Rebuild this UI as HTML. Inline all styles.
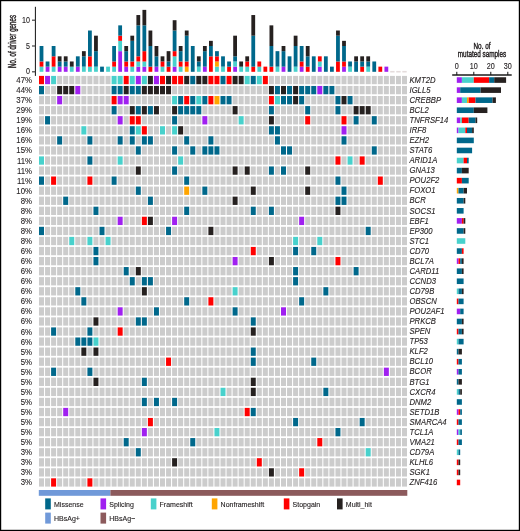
<!DOCTYPE html>
<html><head><meta charset="utf-8"><style>
html,body{margin:0;padding:0;background:#fff;}
svg{display:block;font-family:"Liberation Sans",Arial,sans-serif;}
text{stroke:#231f20;stroke-width:0.12px;}
.ct{stroke-width:0.45px;}
</style></head><body>
<svg width="520" height="531" viewBox="0 0 520 531">
<rect x="0" y="0" width="520" height="531" fill="#fff"/>
<g>
<rect x="39.00" y="75.90" width="5.0" height="8.3" fill="#ff0000"/>
<rect x="45.05" y="75.90" width="5.0" height="8.3" fill="#a020f0"/>
<rect x="51.10" y="75.90" width="5.0" height="8.3" fill="#48d1cc"/>
<rect x="57.15" y="75.90" width="5.0" height="8.3" fill="#cccccc"/>
<rect x="63.20" y="75.90" width="5.0" height="8.3" fill="#cccccc"/>
<rect x="69.25" y="75.90" width="5.0" height="8.3" fill="#cccccc"/>
<rect x="75.30" y="75.90" width="5.0" height="8.3" fill="#cccccc"/>
<rect x="81.35" y="75.90" width="5.0" height="8.3" fill="#cccccc"/>
<rect x="87.40" y="75.90" width="5.0" height="8.3" fill="#cccccc"/>
<rect x="93.45" y="75.90" width="5.0" height="8.3" fill="#cccccc"/>
<rect x="99.50" y="75.90" width="5.0" height="8.3" fill="#cccccc"/>
<rect x="105.55" y="75.90" width="5.0" height="8.3" fill="#cccccc"/>
<rect x="111.60" y="75.90" width="5.0" height="8.3" fill="#48d1cc"/>
<rect x="117.65" y="75.90" width="5.0" height="8.3" fill="#48d1cc"/>
<rect x="123.70" y="75.90" width="5.0" height="8.3" fill="#ff0000"/>
<rect x="129.75" y="75.90" width="5.0" height="8.3" fill="#48d1cc"/>
<rect x="135.80" y="75.90" width="5.0" height="8.3" fill="#a020f0"/>
<rect x="141.85" y="75.90" width="5.0" height="8.3" fill="#48d1cc"/>
<rect x="147.90" y="75.90" width="5.0" height="8.3" fill="#262120"/>
<rect x="153.95" y="75.90" width="5.0" height="8.3" fill="#a020f0"/>
<rect x="160.00" y="75.90" width="5.0" height="8.3" fill="#ff0000"/>
<rect x="166.05" y="75.90" width="5.0" height="8.3" fill="#262120"/>
<rect x="172.10" y="75.90" width="5.0" height="8.3" fill="#ff0000"/>
<rect x="178.15" y="75.90" width="5.0" height="8.3" fill="#ff0000"/>
<rect x="184.20" y="75.90" width="5.0" height="8.3" fill="#262120"/>
<rect x="190.25" y="75.90" width="5.0" height="8.3" fill="#00688b"/>
<rect x="196.30" y="75.90" width="5.0" height="8.3" fill="#262120"/>
<rect x="202.35" y="75.90" width="5.0" height="8.3" fill="#262120"/>
<rect x="208.40" y="75.90" width="5.0" height="8.3" fill="#ff0000"/>
<rect x="214.45" y="75.90" width="5.0" height="8.3" fill="#ff0000"/>
<rect x="220.50" y="75.90" width="5.0" height="8.3" fill="#00688b"/>
<rect x="226.55" y="75.90" width="5.0" height="8.3" fill="#ff0000"/>
<rect x="232.60" y="75.90" width="5.0" height="8.3" fill="#262120"/>
<rect x="238.65" y="75.90" width="5.0" height="8.3" fill="#262120"/>
<rect x="244.70" y="75.90" width="5.0" height="8.3" fill="#48d1cc"/>
<rect x="250.75" y="75.90" width="5.0" height="8.3" fill="#00688b"/>
<rect x="256.80" y="75.90" width="5.0" height="8.3" fill="#48d1cc"/>
<rect x="262.85" y="75.90" width="5.0" height="8.3" fill="#ff0000"/>
<rect x="268.90" y="75.90" width="5.0" height="8.3" fill="#cccccc"/>
<rect x="274.95" y="75.90" width="5.0" height="8.3" fill="#cccccc"/>
<rect x="281.00" y="75.90" width="5.0" height="8.3" fill="#cccccc"/>
<rect x="287.05" y="75.90" width="5.0" height="8.3" fill="#cccccc"/>
<rect x="293.10" y="75.90" width="5.0" height="8.3" fill="#cccccc"/>
<rect x="299.15" y="75.90" width="5.0" height="8.3" fill="#cccccc"/>
<rect x="305.20" y="75.90" width="5.0" height="8.3" fill="#cccccc"/>
<rect x="311.25" y="75.90" width="5.0" height="8.3" fill="#cccccc"/>
<rect x="317.30" y="75.90" width="5.0" height="8.3" fill="#cccccc"/>
<rect x="323.35" y="75.90" width="5.0" height="8.3" fill="#cccccc"/>
<rect x="329.40" y="75.90" width="5.0" height="8.3" fill="#cccccc"/>
<rect x="335.45" y="75.90" width="5.0" height="8.3" fill="#cccccc"/>
<rect x="341.50" y="75.90" width="5.0" height="8.3" fill="#cccccc"/>
<rect x="347.55" y="75.90" width="5.0" height="8.3" fill="#cccccc"/>
<rect x="353.60" y="75.90" width="5.0" height="8.3" fill="#cccccc"/>
<rect x="359.65" y="75.90" width="5.0" height="8.3" fill="#cccccc"/>
<rect x="365.70" y="75.90" width="5.0" height="8.3" fill="#cccccc"/>
<rect x="371.75" y="75.90" width="5.0" height="8.3" fill="#cccccc"/>
<rect x="377.80" y="75.90" width="5.0" height="8.3" fill="#cccccc"/>
<rect x="383.85" y="75.90" width="5.0" height="8.3" fill="#cccccc"/>
<rect x="389.90" y="75.90" width="5.0" height="8.3" fill="#cccccc"/>
<rect x="395.95" y="75.90" width="5.0" height="8.3" fill="#cccccc"/>
<rect x="402.00" y="75.90" width="5.0" height="8.3" fill="#cccccc"/>
<rect x="39.00" y="85.96" width="5.0" height="8.3" fill="#00688b"/>
<rect x="45.05" y="85.96" width="5.0" height="8.3" fill="#cccccc"/>
<rect x="51.10" y="85.96" width="5.0" height="8.3" fill="#cccccc"/>
<rect x="57.15" y="85.96" width="5.0" height="8.3" fill="#262120"/>
<rect x="63.20" y="85.96" width="5.0" height="8.3" fill="#262120"/>
<rect x="69.25" y="85.96" width="5.0" height="8.3" fill="#262120"/>
<rect x="75.30" y="85.96" width="5.0" height="8.3" fill="#a020f0"/>
<rect x="81.35" y="85.96" width="5.0" height="8.3" fill="#cccccc"/>
<rect x="87.40" y="85.96" width="5.0" height="8.3" fill="#cccccc"/>
<rect x="93.45" y="85.96" width="5.0" height="8.3" fill="#cccccc"/>
<rect x="99.50" y="85.96" width="5.0" height="8.3" fill="#cccccc"/>
<rect x="105.55" y="85.96" width="5.0" height="8.3" fill="#cccccc"/>
<rect x="111.60" y="85.96" width="5.0" height="8.3" fill="#00688b"/>
<rect x="117.65" y="85.96" width="5.0" height="8.3" fill="#00688b"/>
<rect x="123.70" y="85.96" width="5.0" height="8.3" fill="#262120"/>
<rect x="129.75" y="85.96" width="5.0" height="8.3" fill="#00688b"/>
<rect x="135.80" y="85.96" width="5.0" height="8.3" fill="#00688b"/>
<rect x="141.85" y="85.96" width="5.0" height="8.3" fill="#262120"/>
<rect x="147.90" y="85.96" width="5.0" height="8.3" fill="#262120"/>
<rect x="153.95" y="85.96" width="5.0" height="8.3" fill="#262120"/>
<rect x="160.00" y="85.96" width="5.0" height="8.3" fill="#262120"/>
<rect x="166.05" y="85.96" width="5.0" height="8.3" fill="#262120"/>
<rect x="172.10" y="85.96" width="5.0" height="8.3" fill="#cccccc"/>
<rect x="178.15" y="85.96" width="5.0" height="8.3" fill="#cccccc"/>
<rect x="184.20" y="85.96" width="5.0" height="8.3" fill="#cccccc"/>
<rect x="190.25" y="85.96" width="5.0" height="8.3" fill="#cccccc"/>
<rect x="196.30" y="85.96" width="5.0" height="8.3" fill="#cccccc"/>
<rect x="202.35" y="85.96" width="5.0" height="8.3" fill="#cccccc"/>
<rect x="208.40" y="85.96" width="5.0" height="8.3" fill="#cccccc"/>
<rect x="214.45" y="85.96" width="5.0" height="8.3" fill="#cccccc"/>
<rect x="220.50" y="85.96" width="5.0" height="8.3" fill="#cccccc"/>
<rect x="226.55" y="85.96" width="5.0" height="8.3" fill="#cccccc"/>
<rect x="232.60" y="85.96" width="5.0" height="8.3" fill="#cccccc"/>
<rect x="238.65" y="85.96" width="5.0" height="8.3" fill="#cccccc"/>
<rect x="244.70" y="85.96" width="5.0" height="8.3" fill="#cccccc"/>
<rect x="250.75" y="85.96" width="5.0" height="8.3" fill="#cccccc"/>
<rect x="256.80" y="85.96" width="5.0" height="8.3" fill="#cccccc"/>
<rect x="262.85" y="85.96" width="5.0" height="8.3" fill="#cccccc"/>
<rect x="268.90" y="85.96" width="5.0" height="8.3" fill="#262120"/>
<rect x="274.95" y="85.96" width="5.0" height="8.3" fill="#00688b"/>
<rect x="281.00" y="85.96" width="5.0" height="8.3" fill="#262120"/>
<rect x="287.05" y="85.96" width="5.0" height="8.3" fill="#00688b"/>
<rect x="293.10" y="85.96" width="5.0" height="8.3" fill="#262120"/>
<rect x="299.15" y="85.96" width="5.0" height="8.3" fill="#00688b"/>
<rect x="305.20" y="85.96" width="5.0" height="8.3" fill="#00688b"/>
<rect x="311.25" y="85.96" width="5.0" height="8.3" fill="#00688b"/>
<rect x="317.30" y="85.96" width="5.0" height="8.3" fill="#a020f0"/>
<rect x="323.35" y="85.96" width="5.0" height="8.3" fill="#00688b"/>
<rect x="329.40" y="85.96" width="5.0" height="8.3" fill="#00688b"/>
<rect x="335.45" y="85.96" width="5.0" height="8.3" fill="#cccccc"/>
<rect x="341.50" y="85.96" width="5.0" height="8.3" fill="#cccccc"/>
<rect x="347.55" y="85.96" width="5.0" height="8.3" fill="#cccccc"/>
<rect x="353.60" y="85.96" width="5.0" height="8.3" fill="#cccccc"/>
<rect x="359.65" y="85.96" width="5.0" height="8.3" fill="#cccccc"/>
<rect x="365.70" y="85.96" width="5.0" height="8.3" fill="#cccccc"/>
<rect x="371.75" y="85.96" width="5.0" height="8.3" fill="#cccccc"/>
<rect x="377.80" y="85.96" width="5.0" height="8.3" fill="#cccccc"/>
<rect x="383.85" y="85.96" width="5.0" height="8.3" fill="#cccccc"/>
<rect x="389.90" y="85.96" width="5.0" height="8.3" fill="#cccccc"/>
<rect x="395.95" y="85.96" width="5.0" height="8.3" fill="#cccccc"/>
<rect x="402.00" y="85.96" width="5.0" height="8.3" fill="#cccccc"/>
<rect x="39.00" y="96.02" width="5.0" height="8.3" fill="#cccccc"/>
<rect x="45.05" y="96.02" width="5.0" height="8.3" fill="#cccccc"/>
<rect x="51.10" y="96.02" width="5.0" height="8.3" fill="#cccccc"/>
<rect x="57.15" y="96.02" width="5.0" height="8.3" fill="#a020f0"/>
<rect x="63.20" y="96.02" width="5.0" height="8.3" fill="#cccccc"/>
<rect x="69.25" y="96.02" width="5.0" height="8.3" fill="#cccccc"/>
<rect x="75.30" y="96.02" width="5.0" height="8.3" fill="#cccccc"/>
<rect x="81.35" y="96.02" width="5.0" height="8.3" fill="#cccccc"/>
<rect x="87.40" y="96.02" width="5.0" height="8.3" fill="#cccccc"/>
<rect x="93.45" y="96.02" width="5.0" height="8.3" fill="#cccccc"/>
<rect x="99.50" y="96.02" width="5.0" height="8.3" fill="#cccccc"/>
<rect x="105.55" y="96.02" width="5.0" height="8.3" fill="#cccccc"/>
<rect x="111.60" y="96.02" width="5.0" height="8.3" fill="#ff0000"/>
<rect x="117.65" y="96.02" width="5.0" height="8.3" fill="#a020f0"/>
<rect x="123.70" y="96.02" width="5.0" height="8.3" fill="#a020f0"/>
<rect x="129.75" y="96.02" width="5.0" height="8.3" fill="#cccccc"/>
<rect x="135.80" y="96.02" width="5.0" height="8.3" fill="#cccccc"/>
<rect x="141.85" y="96.02" width="5.0" height="8.3" fill="#cccccc"/>
<rect x="147.90" y="96.02" width="5.0" height="8.3" fill="#cccccc"/>
<rect x="153.95" y="96.02" width="5.0" height="8.3" fill="#cccccc"/>
<rect x="160.00" y="96.02" width="5.0" height="8.3" fill="#cccccc"/>
<rect x="166.05" y="96.02" width="5.0" height="8.3" fill="#cccccc"/>
<rect x="172.10" y="96.02" width="5.0" height="8.3" fill="#48d1cc"/>
<rect x="178.15" y="96.02" width="5.0" height="8.3" fill="#00688b"/>
<rect x="184.20" y="96.02" width="5.0" height="8.3" fill="#ff0000"/>
<rect x="190.25" y="96.02" width="5.0" height="8.3" fill="#00688b"/>
<rect x="196.30" y="96.02" width="5.0" height="8.3" fill="#48d1cc"/>
<rect x="202.35" y="96.02" width="5.0" height="8.3" fill="#00688b"/>
<rect x="208.40" y="96.02" width="5.0" height="8.3" fill="#ff0000"/>
<rect x="214.45" y="96.02" width="5.0" height="8.3" fill="#ffa500"/>
<rect x="220.50" y="96.02" width="5.0" height="8.3" fill="#00688b"/>
<rect x="226.55" y="96.02" width="5.0" height="8.3" fill="#00688b"/>
<rect x="232.60" y="96.02" width="5.0" height="8.3" fill="#cccccc"/>
<rect x="238.65" y="96.02" width="5.0" height="8.3" fill="#cccccc"/>
<rect x="244.70" y="96.02" width="5.0" height="8.3" fill="#cccccc"/>
<rect x="250.75" y="96.02" width="5.0" height="8.3" fill="#cccccc"/>
<rect x="256.80" y="96.02" width="5.0" height="8.3" fill="#cccccc"/>
<rect x="262.85" y="96.02" width="5.0" height="8.3" fill="#cccccc"/>
<rect x="268.90" y="96.02" width="5.0" height="8.3" fill="#ff0000"/>
<rect x="274.95" y="96.02" width="5.0" height="8.3" fill="#48d1cc"/>
<rect x="281.00" y="96.02" width="5.0" height="8.3" fill="#00688b"/>
<rect x="287.05" y="96.02" width="5.0" height="8.3" fill="#00688b"/>
<rect x="293.10" y="96.02" width="5.0" height="8.3" fill="#262120"/>
<rect x="299.15" y="96.02" width="5.0" height="8.3" fill="#00688b"/>
<rect x="305.20" y="96.02" width="5.0" height="8.3" fill="#cccccc"/>
<rect x="311.25" y="96.02" width="5.0" height="8.3" fill="#cccccc"/>
<rect x="317.30" y="96.02" width="5.0" height="8.3" fill="#cccccc"/>
<rect x="323.35" y="96.02" width="5.0" height="8.3" fill="#cccccc"/>
<rect x="329.40" y="96.02" width="5.0" height="8.3" fill="#cccccc"/>
<rect x="335.45" y="96.02" width="5.0" height="8.3" fill="#00688b"/>
<rect x="341.50" y="96.02" width="5.0" height="8.3" fill="#262120"/>
<rect x="347.55" y="96.02" width="5.0" height="8.3" fill="#00688b"/>
<rect x="353.60" y="96.02" width="5.0" height="8.3" fill="#cccccc"/>
<rect x="359.65" y="96.02" width="5.0" height="8.3" fill="#cccccc"/>
<rect x="365.70" y="96.02" width="5.0" height="8.3" fill="#cccccc"/>
<rect x="371.75" y="96.02" width="5.0" height="8.3" fill="#cccccc"/>
<rect x="377.80" y="96.02" width="5.0" height="8.3" fill="#cccccc"/>
<rect x="383.85" y="96.02" width="5.0" height="8.3" fill="#cccccc"/>
<rect x="389.90" y="96.02" width="5.0" height="8.3" fill="#cccccc"/>
<rect x="395.95" y="96.02" width="5.0" height="8.3" fill="#cccccc"/>
<rect x="402.00" y="96.02" width="5.0" height="8.3" fill="#cccccc"/>
<rect x="39.00" y="106.08" width="5.0" height="8.3" fill="#cccccc"/>
<rect x="45.05" y="106.08" width="5.0" height="8.3" fill="#cccccc"/>
<rect x="51.10" y="106.08" width="5.0" height="8.3" fill="#cccccc"/>
<rect x="57.15" y="106.08" width="5.0" height="8.3" fill="#cccccc"/>
<rect x="63.20" y="106.08" width="5.0" height="8.3" fill="#cccccc"/>
<rect x="69.25" y="106.08" width="5.0" height="8.3" fill="#cccccc"/>
<rect x="75.30" y="106.08" width="5.0" height="8.3" fill="#cccccc"/>
<rect x="81.35" y="106.08" width="5.0" height="8.3" fill="#cccccc"/>
<rect x="87.40" y="106.08" width="5.0" height="8.3" fill="#cccccc"/>
<rect x="93.45" y="106.08" width="5.0" height="8.3" fill="#cccccc"/>
<rect x="99.50" y="106.08" width="5.0" height="8.3" fill="#cccccc"/>
<rect x="105.55" y="106.08" width="5.0" height="8.3" fill="#cccccc"/>
<rect x="111.60" y="106.08" width="5.0" height="8.3" fill="#00688b"/>
<rect x="117.65" y="106.08" width="5.0" height="8.3" fill="#cccccc"/>
<rect x="123.70" y="106.08" width="5.0" height="8.3" fill="#cccccc"/>
<rect x="129.75" y="106.08" width="5.0" height="8.3" fill="#262120"/>
<rect x="135.80" y="106.08" width="5.0" height="8.3" fill="#00688b"/>
<rect x="141.85" y="106.08" width="5.0" height="8.3" fill="#262120"/>
<rect x="147.90" y="106.08" width="5.0" height="8.3" fill="#00688b"/>
<rect x="153.95" y="106.08" width="5.0" height="8.3" fill="#262120"/>
<rect x="160.00" y="106.08" width="5.0" height="8.3" fill="#cccccc"/>
<rect x="166.05" y="106.08" width="5.0" height="8.3" fill="#cccccc"/>
<rect x="172.10" y="106.08" width="5.0" height="8.3" fill="#262120"/>
<rect x="178.15" y="106.08" width="5.0" height="8.3" fill="#00688b"/>
<rect x="184.20" y="106.08" width="5.0" height="8.3" fill="#00688b"/>
<rect x="190.25" y="106.08" width="5.0" height="8.3" fill="#00688b"/>
<rect x="196.30" y="106.08" width="5.0" height="8.3" fill="#00688b"/>
<rect x="202.35" y="106.08" width="5.0" height="8.3" fill="#cccccc"/>
<rect x="208.40" y="106.08" width="5.0" height="8.3" fill="#cccccc"/>
<rect x="214.45" y="106.08" width="5.0" height="8.3" fill="#cccccc"/>
<rect x="220.50" y="106.08" width="5.0" height="8.3" fill="#cccccc"/>
<rect x="226.55" y="106.08" width="5.0" height="8.3" fill="#cccccc"/>
<rect x="232.60" y="106.08" width="5.0" height="8.3" fill="#262120"/>
<rect x="238.65" y="106.08" width="5.0" height="8.3" fill="#cccccc"/>
<rect x="244.70" y="106.08" width="5.0" height="8.3" fill="#cccccc"/>
<rect x="250.75" y="106.08" width="5.0" height="8.3" fill="#cccccc"/>
<rect x="256.80" y="106.08" width="5.0" height="8.3" fill="#cccccc"/>
<rect x="262.85" y="106.08" width="5.0" height="8.3" fill="#cccccc"/>
<rect x="268.90" y="106.08" width="5.0" height="8.3" fill="#00688b"/>
<rect x="274.95" y="106.08" width="5.0" height="8.3" fill="#cccccc"/>
<rect x="281.00" y="106.08" width="5.0" height="8.3" fill="#cccccc"/>
<rect x="287.05" y="106.08" width="5.0" height="8.3" fill="#cccccc"/>
<rect x="293.10" y="106.08" width="5.0" height="8.3" fill="#cccccc"/>
<rect x="299.15" y="106.08" width="5.0" height="8.3" fill="#cccccc"/>
<rect x="305.20" y="106.08" width="5.0" height="8.3" fill="#00688b"/>
<rect x="311.25" y="106.08" width="5.0" height="8.3" fill="#cccccc"/>
<rect x="317.30" y="106.08" width="5.0" height="8.3" fill="#cccccc"/>
<rect x="323.35" y="106.08" width="5.0" height="8.3" fill="#cccccc"/>
<rect x="329.40" y="106.08" width="5.0" height="8.3" fill="#cccccc"/>
<rect x="335.45" y="106.08" width="5.0" height="8.3" fill="#00688b"/>
<rect x="341.50" y="106.08" width="5.0" height="8.3" fill="#cccccc"/>
<rect x="347.55" y="106.08" width="5.0" height="8.3" fill="#cccccc"/>
<rect x="353.60" y="106.08" width="5.0" height="8.3" fill="#262120"/>
<rect x="359.65" y="106.08" width="5.0" height="8.3" fill="#262120"/>
<rect x="365.70" y="106.08" width="5.0" height="8.3" fill="#262120"/>
<rect x="371.75" y="106.08" width="5.0" height="8.3" fill="#cccccc"/>
<rect x="377.80" y="106.08" width="5.0" height="8.3" fill="#cccccc"/>
<rect x="383.85" y="106.08" width="5.0" height="8.3" fill="#cccccc"/>
<rect x="389.90" y="106.08" width="5.0" height="8.3" fill="#cccccc"/>
<rect x="395.95" y="106.08" width="5.0" height="8.3" fill="#cccccc"/>
<rect x="402.00" y="106.08" width="5.0" height="8.3" fill="#cccccc"/>
<rect x="39.00" y="116.14" width="5.0" height="8.3" fill="#cccccc"/>
<rect x="45.05" y="116.14" width="5.0" height="8.3" fill="#00688b"/>
<rect x="51.10" y="116.14" width="5.0" height="8.3" fill="#cccccc"/>
<rect x="57.15" y="116.14" width="5.0" height="8.3" fill="#cccccc"/>
<rect x="63.20" y="116.14" width="5.0" height="8.3" fill="#cccccc"/>
<rect x="69.25" y="116.14" width="5.0" height="8.3" fill="#cccccc"/>
<rect x="75.30" y="116.14" width="5.0" height="8.3" fill="#cccccc"/>
<rect x="81.35" y="116.14" width="5.0" height="8.3" fill="#cccccc"/>
<rect x="87.40" y="116.14" width="5.0" height="8.3" fill="#cccccc"/>
<rect x="93.45" y="116.14" width="5.0" height="8.3" fill="#cccccc"/>
<rect x="99.50" y="116.14" width="5.0" height="8.3" fill="#cccccc"/>
<rect x="105.55" y="116.14" width="5.0" height="8.3" fill="#cccccc"/>
<rect x="111.60" y="116.14" width="5.0" height="8.3" fill="#cccccc"/>
<rect x="117.65" y="116.14" width="5.0" height="8.3" fill="#a020f0"/>
<rect x="123.70" y="116.14" width="5.0" height="8.3" fill="#cccccc"/>
<rect x="129.75" y="116.14" width="5.0" height="8.3" fill="#ff0000"/>
<rect x="135.80" y="116.14" width="5.0" height="8.3" fill="#ff0000"/>
<rect x="141.85" y="116.14" width="5.0" height="8.3" fill="#cccccc"/>
<rect x="147.90" y="116.14" width="5.0" height="8.3" fill="#cccccc"/>
<rect x="153.95" y="116.14" width="5.0" height="8.3" fill="#cccccc"/>
<rect x="160.00" y="116.14" width="5.0" height="8.3" fill="#cccccc"/>
<rect x="166.05" y="116.14" width="5.0" height="8.3" fill="#cccccc"/>
<rect x="172.10" y="116.14" width="5.0" height="8.3" fill="#00688b"/>
<rect x="178.15" y="116.14" width="5.0" height="8.3" fill="#cccccc"/>
<rect x="184.20" y="116.14" width="5.0" height="8.3" fill="#cccccc"/>
<rect x="190.25" y="116.14" width="5.0" height="8.3" fill="#cccccc"/>
<rect x="196.30" y="116.14" width="5.0" height="8.3" fill="#cccccc"/>
<rect x="202.35" y="116.14" width="5.0" height="8.3" fill="#a020f0"/>
<rect x="208.40" y="116.14" width="5.0" height="8.3" fill="#cccccc"/>
<rect x="214.45" y="116.14" width="5.0" height="8.3" fill="#cccccc"/>
<rect x="220.50" y="116.14" width="5.0" height="8.3" fill="#cccccc"/>
<rect x="226.55" y="116.14" width="5.0" height="8.3" fill="#cccccc"/>
<rect x="232.60" y="116.14" width="5.0" height="8.3" fill="#cccccc"/>
<rect x="238.65" y="116.14" width="5.0" height="8.3" fill="#48d1cc"/>
<rect x="244.70" y="116.14" width="5.0" height="8.3" fill="#cccccc"/>
<rect x="250.75" y="116.14" width="5.0" height="8.3" fill="#cccccc"/>
<rect x="256.80" y="116.14" width="5.0" height="8.3" fill="#cccccc"/>
<rect x="262.85" y="116.14" width="5.0" height="8.3" fill="#cccccc"/>
<rect x="268.90" y="116.14" width="5.0" height="8.3" fill="#262120"/>
<rect x="274.95" y="116.14" width="5.0" height="8.3" fill="#cccccc"/>
<rect x="281.00" y="116.14" width="5.0" height="8.3" fill="#cccccc"/>
<rect x="287.05" y="116.14" width="5.0" height="8.3" fill="#cccccc"/>
<rect x="293.10" y="116.14" width="5.0" height="8.3" fill="#cccccc"/>
<rect x="299.15" y="116.14" width="5.0" height="8.3" fill="#cccccc"/>
<rect x="305.20" y="116.14" width="5.0" height="8.3" fill="#ff0000"/>
<rect x="311.25" y="116.14" width="5.0" height="8.3" fill="#cccccc"/>
<rect x="317.30" y="116.14" width="5.0" height="8.3" fill="#cccccc"/>
<rect x="323.35" y="116.14" width="5.0" height="8.3" fill="#cccccc"/>
<rect x="329.40" y="116.14" width="5.0" height="8.3" fill="#cccccc"/>
<rect x="335.45" y="116.14" width="5.0" height="8.3" fill="#cccccc"/>
<rect x="341.50" y="116.14" width="5.0" height="8.3" fill="#ff0000"/>
<rect x="347.55" y="116.14" width="5.0" height="8.3" fill="#cccccc"/>
<rect x="353.60" y="116.14" width="5.0" height="8.3" fill="#00688b"/>
<rect x="359.65" y="116.14" width="5.0" height="8.3" fill="#cccccc"/>
<rect x="365.70" y="116.14" width="5.0" height="8.3" fill="#cccccc"/>
<rect x="371.75" y="116.14" width="5.0" height="8.3" fill="#00688b"/>
<rect x="377.80" y="116.14" width="5.0" height="8.3" fill="#cccccc"/>
<rect x="383.85" y="116.14" width="5.0" height="8.3" fill="#cccccc"/>
<rect x="389.90" y="116.14" width="5.0" height="8.3" fill="#cccccc"/>
<rect x="395.95" y="116.14" width="5.0" height="8.3" fill="#cccccc"/>
<rect x="402.00" y="116.14" width="5.0" height="8.3" fill="#cccccc"/>
<rect x="39.00" y="126.20" width="5.0" height="8.3" fill="#cccccc"/>
<rect x="45.05" y="126.20" width="5.0" height="8.3" fill="#cccccc"/>
<rect x="51.10" y="126.20" width="5.0" height="8.3" fill="#cccccc"/>
<rect x="57.15" y="126.20" width="5.0" height="8.3" fill="#cccccc"/>
<rect x="63.20" y="126.20" width="5.0" height="8.3" fill="#cccccc"/>
<rect x="69.25" y="126.20" width="5.0" height="8.3" fill="#cccccc"/>
<rect x="75.30" y="126.20" width="5.0" height="8.3" fill="#cccccc"/>
<rect x="81.35" y="126.20" width="5.0" height="8.3" fill="#48d1cc"/>
<rect x="87.40" y="126.20" width="5.0" height="8.3" fill="#cccccc"/>
<rect x="93.45" y="126.20" width="5.0" height="8.3" fill="#cccccc"/>
<rect x="99.50" y="126.20" width="5.0" height="8.3" fill="#cccccc"/>
<rect x="105.55" y="126.20" width="5.0" height="8.3" fill="#cccccc"/>
<rect x="111.60" y="126.20" width="5.0" height="8.3" fill="#cccccc"/>
<rect x="117.65" y="126.20" width="5.0" height="8.3" fill="#cccccc"/>
<rect x="123.70" y="126.20" width="5.0" height="8.3" fill="#cccccc"/>
<rect x="129.75" y="126.20" width="5.0" height="8.3" fill="#00688b"/>
<rect x="135.80" y="126.20" width="5.0" height="8.3" fill="#48d1cc"/>
<rect x="141.85" y="126.20" width="5.0" height="8.3" fill="#ff0000"/>
<rect x="147.90" y="126.20" width="5.0" height="8.3" fill="#cccccc"/>
<rect x="153.95" y="126.20" width="5.0" height="8.3" fill="#cccccc"/>
<rect x="160.00" y="126.20" width="5.0" height="8.3" fill="#48d1cc"/>
<rect x="166.05" y="126.20" width="5.0" height="8.3" fill="#cccccc"/>
<rect x="172.10" y="126.20" width="5.0" height="8.3" fill="#48d1cc"/>
<rect x="178.15" y="126.20" width="5.0" height="8.3" fill="#262120"/>
<rect x="184.20" y="126.20" width="5.0" height="8.3" fill="#cccccc"/>
<rect x="190.25" y="126.20" width="5.0" height="8.3" fill="#cccccc"/>
<rect x="196.30" y="126.20" width="5.0" height="8.3" fill="#cccccc"/>
<rect x="202.35" y="126.20" width="5.0" height="8.3" fill="#cccccc"/>
<rect x="208.40" y="126.20" width="5.0" height="8.3" fill="#cccccc"/>
<rect x="214.45" y="126.20" width="5.0" height="8.3" fill="#cccccc"/>
<rect x="220.50" y="126.20" width="5.0" height="8.3" fill="#cccccc"/>
<rect x="226.55" y="126.20" width="5.0" height="8.3" fill="#cccccc"/>
<rect x="232.60" y="126.20" width="5.0" height="8.3" fill="#cccccc"/>
<rect x="238.65" y="126.20" width="5.0" height="8.3" fill="#cccccc"/>
<rect x="244.70" y="126.20" width="5.0" height="8.3" fill="#cccccc"/>
<rect x="250.75" y="126.20" width="5.0" height="8.3" fill="#cccccc"/>
<rect x="256.80" y="126.20" width="5.0" height="8.3" fill="#cccccc"/>
<rect x="262.85" y="126.20" width="5.0" height="8.3" fill="#cccccc"/>
<rect x="268.90" y="126.20" width="5.0" height="8.3" fill="#00688b"/>
<rect x="274.95" y="126.20" width="5.0" height="8.3" fill="#00688b"/>
<rect x="281.00" y="126.20" width="5.0" height="8.3" fill="#cccccc"/>
<rect x="287.05" y="126.20" width="5.0" height="8.3" fill="#cccccc"/>
<rect x="293.10" y="126.20" width="5.0" height="8.3" fill="#cccccc"/>
<rect x="299.15" y="126.20" width="5.0" height="8.3" fill="#cccccc"/>
<rect x="305.20" y="126.20" width="5.0" height="8.3" fill="#cccccc"/>
<rect x="311.25" y="126.20" width="5.0" height="8.3" fill="#cccccc"/>
<rect x="317.30" y="126.20" width="5.0" height="8.3" fill="#cccccc"/>
<rect x="323.35" y="126.20" width="5.0" height="8.3" fill="#cccccc"/>
<rect x="329.40" y="126.20" width="5.0" height="8.3" fill="#cccccc"/>
<rect x="335.45" y="126.20" width="5.0" height="8.3" fill="#cccccc"/>
<rect x="341.50" y="126.20" width="5.0" height="8.3" fill="#a020f0"/>
<rect x="347.55" y="126.20" width="5.0" height="8.3" fill="#cccccc"/>
<rect x="353.60" y="126.20" width="5.0" height="8.3" fill="#cccccc"/>
<rect x="359.65" y="126.20" width="5.0" height="8.3" fill="#cccccc"/>
<rect x="365.70" y="126.20" width="5.0" height="8.3" fill="#cccccc"/>
<rect x="371.75" y="126.20" width="5.0" height="8.3" fill="#cccccc"/>
<rect x="377.80" y="126.20" width="5.0" height="8.3" fill="#cccccc"/>
<rect x="383.85" y="126.20" width="5.0" height="8.3" fill="#cccccc"/>
<rect x="389.90" y="126.20" width="5.0" height="8.3" fill="#cccccc"/>
<rect x="395.95" y="126.20" width="5.0" height="8.3" fill="#cccccc"/>
<rect x="402.00" y="126.20" width="5.0" height="8.3" fill="#cccccc"/>
<rect x="39.00" y="136.26" width="5.0" height="8.3" fill="#cccccc"/>
<rect x="45.05" y="136.26" width="5.0" height="8.3" fill="#cccccc"/>
<rect x="51.10" y="136.26" width="5.0" height="8.3" fill="#cccccc"/>
<rect x="57.15" y="136.26" width="5.0" height="8.3" fill="#00688b"/>
<rect x="63.20" y="136.26" width="5.0" height="8.3" fill="#cccccc"/>
<rect x="69.25" y="136.26" width="5.0" height="8.3" fill="#cccccc"/>
<rect x="75.30" y="136.26" width="5.0" height="8.3" fill="#cccccc"/>
<rect x="81.35" y="136.26" width="5.0" height="8.3" fill="#cccccc"/>
<rect x="87.40" y="136.26" width="5.0" height="8.3" fill="#00688b"/>
<rect x="93.45" y="136.26" width="5.0" height="8.3" fill="#cccccc"/>
<rect x="99.50" y="136.26" width="5.0" height="8.3" fill="#cccccc"/>
<rect x="105.55" y="136.26" width="5.0" height="8.3" fill="#cccccc"/>
<rect x="111.60" y="136.26" width="5.0" height="8.3" fill="#cccccc"/>
<rect x="117.65" y="136.26" width="5.0" height="8.3" fill="#00688b"/>
<rect x="123.70" y="136.26" width="5.0" height="8.3" fill="#cccccc"/>
<rect x="129.75" y="136.26" width="5.0" height="8.3" fill="#00688b"/>
<rect x="135.80" y="136.26" width="5.0" height="8.3" fill="#cccccc"/>
<rect x="141.85" y="136.26" width="5.0" height="8.3" fill="#00688b"/>
<rect x="147.90" y="136.26" width="5.0" height="8.3" fill="#00688b"/>
<rect x="153.95" y="136.26" width="5.0" height="8.3" fill="#cccccc"/>
<rect x="160.00" y="136.26" width="5.0" height="8.3" fill="#cccccc"/>
<rect x="166.05" y="136.26" width="5.0" height="8.3" fill="#cccccc"/>
<rect x="172.10" y="136.26" width="5.0" height="8.3" fill="#cccccc"/>
<rect x="178.15" y="136.26" width="5.0" height="8.3" fill="#cccccc"/>
<rect x="184.20" y="136.26" width="5.0" height="8.3" fill="#00688b"/>
<rect x="190.25" y="136.26" width="5.0" height="8.3" fill="#cccccc"/>
<rect x="196.30" y="136.26" width="5.0" height="8.3" fill="#cccccc"/>
<rect x="202.35" y="136.26" width="5.0" height="8.3" fill="#cccccc"/>
<rect x="208.40" y="136.26" width="5.0" height="8.3" fill="#00688b"/>
<rect x="214.45" y="136.26" width="5.0" height="8.3" fill="#cccccc"/>
<rect x="220.50" y="136.26" width="5.0" height="8.3" fill="#cccccc"/>
<rect x="226.55" y="136.26" width="5.0" height="8.3" fill="#cccccc"/>
<rect x="232.60" y="136.26" width="5.0" height="8.3" fill="#cccccc"/>
<rect x="238.65" y="136.26" width="5.0" height="8.3" fill="#cccccc"/>
<rect x="244.70" y="136.26" width="5.0" height="8.3" fill="#cccccc"/>
<rect x="250.75" y="136.26" width="5.0" height="8.3" fill="#cccccc"/>
<rect x="256.80" y="136.26" width="5.0" height="8.3" fill="#cccccc"/>
<rect x="262.85" y="136.26" width="5.0" height="8.3" fill="#cccccc"/>
<rect x="268.90" y="136.26" width="5.0" height="8.3" fill="#cccccc"/>
<rect x="274.95" y="136.26" width="5.0" height="8.3" fill="#00688b"/>
<rect x="281.00" y="136.26" width="5.0" height="8.3" fill="#cccccc"/>
<rect x="287.05" y="136.26" width="5.0" height="8.3" fill="#cccccc"/>
<rect x="293.10" y="136.26" width="5.0" height="8.3" fill="#cccccc"/>
<rect x="299.15" y="136.26" width="5.0" height="8.3" fill="#cccccc"/>
<rect x="305.20" y="136.26" width="5.0" height="8.3" fill="#cccccc"/>
<rect x="311.25" y="136.26" width="5.0" height="8.3" fill="#cccccc"/>
<rect x="317.30" y="136.26" width="5.0" height="8.3" fill="#cccccc"/>
<rect x="323.35" y="136.26" width="5.0" height="8.3" fill="#cccccc"/>
<rect x="329.40" y="136.26" width="5.0" height="8.3" fill="#cccccc"/>
<rect x="335.45" y="136.26" width="5.0" height="8.3" fill="#cccccc"/>
<rect x="341.50" y="136.26" width="5.0" height="8.3" fill="#00688b"/>
<rect x="347.55" y="136.26" width="5.0" height="8.3" fill="#cccccc"/>
<rect x="353.60" y="136.26" width="5.0" height="8.3" fill="#cccccc"/>
<rect x="359.65" y="136.26" width="5.0" height="8.3" fill="#cccccc"/>
<rect x="365.70" y="136.26" width="5.0" height="8.3" fill="#cccccc"/>
<rect x="371.75" y="136.26" width="5.0" height="8.3" fill="#cccccc"/>
<rect x="377.80" y="136.26" width="5.0" height="8.3" fill="#cccccc"/>
<rect x="383.85" y="136.26" width="5.0" height="8.3" fill="#cccccc"/>
<rect x="389.90" y="136.26" width="5.0" height="8.3" fill="#cccccc"/>
<rect x="395.95" y="136.26" width="5.0" height="8.3" fill="#cccccc"/>
<rect x="402.00" y="136.26" width="5.0" height="8.3" fill="#cccccc"/>
<rect x="39.00" y="146.32" width="5.0" height="8.3" fill="#cccccc"/>
<rect x="45.05" y="146.32" width="5.0" height="8.3" fill="#cccccc"/>
<rect x="51.10" y="146.32" width="5.0" height="8.3" fill="#cccccc"/>
<rect x="57.15" y="146.32" width="5.0" height="8.3" fill="#cccccc"/>
<rect x="63.20" y="146.32" width="5.0" height="8.3" fill="#cccccc"/>
<rect x="69.25" y="146.32" width="5.0" height="8.3" fill="#cccccc"/>
<rect x="75.30" y="146.32" width="5.0" height="8.3" fill="#cccccc"/>
<rect x="81.35" y="146.32" width="5.0" height="8.3" fill="#cccccc"/>
<rect x="87.40" y="146.32" width="5.0" height="8.3" fill="#cccccc"/>
<rect x="93.45" y="146.32" width="5.0" height="8.3" fill="#cccccc"/>
<rect x="99.50" y="146.32" width="5.0" height="8.3" fill="#cccccc"/>
<rect x="105.55" y="146.32" width="5.0" height="8.3" fill="#cccccc"/>
<rect x="111.60" y="146.32" width="5.0" height="8.3" fill="#cccccc"/>
<rect x="117.65" y="146.32" width="5.0" height="8.3" fill="#cccccc"/>
<rect x="123.70" y="146.32" width="5.0" height="8.3" fill="#cccccc"/>
<rect x="129.75" y="146.32" width="5.0" height="8.3" fill="#cccccc"/>
<rect x="135.80" y="146.32" width="5.0" height="8.3" fill="#00688b"/>
<rect x="141.85" y="146.32" width="5.0" height="8.3" fill="#cccccc"/>
<rect x="147.90" y="146.32" width="5.0" height="8.3" fill="#cccccc"/>
<rect x="153.95" y="146.32" width="5.0" height="8.3" fill="#cccccc"/>
<rect x="160.00" y="146.32" width="5.0" height="8.3" fill="#cccccc"/>
<rect x="166.05" y="146.32" width="5.0" height="8.3" fill="#cccccc"/>
<rect x="172.10" y="146.32" width="5.0" height="8.3" fill="#00688b"/>
<rect x="178.15" y="146.32" width="5.0" height="8.3" fill="#cccccc"/>
<rect x="184.20" y="146.32" width="5.0" height="8.3" fill="#cccccc"/>
<rect x="190.25" y="146.32" width="5.0" height="8.3" fill="#00688b"/>
<rect x="196.30" y="146.32" width="5.0" height="8.3" fill="#cccccc"/>
<rect x="202.35" y="146.32" width="5.0" height="8.3" fill="#00688b"/>
<rect x="208.40" y="146.32" width="5.0" height="8.3" fill="#00688b"/>
<rect x="214.45" y="146.32" width="5.0" height="8.3" fill="#00688b"/>
<rect x="220.50" y="146.32" width="5.0" height="8.3" fill="#cccccc"/>
<rect x="226.55" y="146.32" width="5.0" height="8.3" fill="#cccccc"/>
<rect x="232.60" y="146.32" width="5.0" height="8.3" fill="#cccccc"/>
<rect x="238.65" y="146.32" width="5.0" height="8.3" fill="#cccccc"/>
<rect x="244.70" y="146.32" width="5.0" height="8.3" fill="#cccccc"/>
<rect x="250.75" y="146.32" width="5.0" height="8.3" fill="#cccccc"/>
<rect x="256.80" y="146.32" width="5.0" height="8.3" fill="#cccccc"/>
<rect x="262.85" y="146.32" width="5.0" height="8.3" fill="#cccccc"/>
<rect x="268.90" y="146.32" width="5.0" height="8.3" fill="#cccccc"/>
<rect x="274.95" y="146.32" width="5.0" height="8.3" fill="#cccccc"/>
<rect x="281.00" y="146.32" width="5.0" height="8.3" fill="#00688b"/>
<rect x="287.05" y="146.32" width="5.0" height="8.3" fill="#00688b"/>
<rect x="293.10" y="146.32" width="5.0" height="8.3" fill="#cccccc"/>
<rect x="299.15" y="146.32" width="5.0" height="8.3" fill="#cccccc"/>
<rect x="305.20" y="146.32" width="5.0" height="8.3" fill="#cccccc"/>
<rect x="311.25" y="146.32" width="5.0" height="8.3" fill="#cccccc"/>
<rect x="317.30" y="146.32" width="5.0" height="8.3" fill="#cccccc"/>
<rect x="323.35" y="146.32" width="5.0" height="8.3" fill="#cccccc"/>
<rect x="329.40" y="146.32" width="5.0" height="8.3" fill="#cccccc"/>
<rect x="335.45" y="146.32" width="5.0" height="8.3" fill="#cccccc"/>
<rect x="341.50" y="146.32" width="5.0" height="8.3" fill="#cccccc"/>
<rect x="347.55" y="146.32" width="5.0" height="8.3" fill="#cccccc"/>
<rect x="353.60" y="146.32" width="5.0" height="8.3" fill="#cccccc"/>
<rect x="359.65" y="146.32" width="5.0" height="8.3" fill="#cccccc"/>
<rect x="365.70" y="146.32" width="5.0" height="8.3" fill="#cccccc"/>
<rect x="371.75" y="146.32" width="5.0" height="8.3" fill="#00688b"/>
<rect x="377.80" y="146.32" width="5.0" height="8.3" fill="#cccccc"/>
<rect x="383.85" y="146.32" width="5.0" height="8.3" fill="#cccccc"/>
<rect x="389.90" y="146.32" width="5.0" height="8.3" fill="#cccccc"/>
<rect x="395.95" y="146.32" width="5.0" height="8.3" fill="#cccccc"/>
<rect x="402.00" y="146.32" width="5.0" height="8.3" fill="#cccccc"/>
<rect x="39.00" y="156.38" width="5.0" height="8.3" fill="#48d1cc"/>
<rect x="45.05" y="156.38" width="5.0" height="8.3" fill="#cccccc"/>
<rect x="51.10" y="156.38" width="5.0" height="8.3" fill="#cccccc"/>
<rect x="57.15" y="156.38" width="5.0" height="8.3" fill="#cccccc"/>
<rect x="63.20" y="156.38" width="5.0" height="8.3" fill="#cccccc"/>
<rect x="69.25" y="156.38" width="5.0" height="8.3" fill="#cccccc"/>
<rect x="75.30" y="156.38" width="5.0" height="8.3" fill="#cccccc"/>
<rect x="81.35" y="156.38" width="5.0" height="8.3" fill="#cccccc"/>
<rect x="87.40" y="156.38" width="5.0" height="8.3" fill="#00688b"/>
<rect x="93.45" y="156.38" width="5.0" height="8.3" fill="#cccccc"/>
<rect x="99.50" y="156.38" width="5.0" height="8.3" fill="#cccccc"/>
<rect x="105.55" y="156.38" width="5.0" height="8.3" fill="#cccccc"/>
<rect x="111.60" y="156.38" width="5.0" height="8.3" fill="#cccccc"/>
<rect x="117.65" y="156.38" width="5.0" height="8.3" fill="#48d1cc"/>
<rect x="123.70" y="156.38" width="5.0" height="8.3" fill="#cccccc"/>
<rect x="129.75" y="156.38" width="5.0" height="8.3" fill="#cccccc"/>
<rect x="135.80" y="156.38" width="5.0" height="8.3" fill="#cccccc"/>
<rect x="141.85" y="156.38" width="5.0" height="8.3" fill="#cccccc"/>
<rect x="147.90" y="156.38" width="5.0" height="8.3" fill="#cccccc"/>
<rect x="153.95" y="156.38" width="5.0" height="8.3" fill="#cccccc"/>
<rect x="160.00" y="156.38" width="5.0" height="8.3" fill="#cccccc"/>
<rect x="166.05" y="156.38" width="5.0" height="8.3" fill="#cccccc"/>
<rect x="172.10" y="156.38" width="5.0" height="8.3" fill="#cccccc"/>
<rect x="178.15" y="156.38" width="5.0" height="8.3" fill="#48d1cc"/>
<rect x="184.20" y="156.38" width="5.0" height="8.3" fill="#cccccc"/>
<rect x="190.25" y="156.38" width="5.0" height="8.3" fill="#cccccc"/>
<rect x="196.30" y="156.38" width="5.0" height="8.3" fill="#cccccc"/>
<rect x="202.35" y="156.38" width="5.0" height="8.3" fill="#cccccc"/>
<rect x="208.40" y="156.38" width="5.0" height="8.3" fill="#cccccc"/>
<rect x="214.45" y="156.38" width="5.0" height="8.3" fill="#cccccc"/>
<rect x="220.50" y="156.38" width="5.0" height="8.3" fill="#cccccc"/>
<rect x="226.55" y="156.38" width="5.0" height="8.3" fill="#cccccc"/>
<rect x="232.60" y="156.38" width="5.0" height="8.3" fill="#cccccc"/>
<rect x="238.65" y="156.38" width="5.0" height="8.3" fill="#cccccc"/>
<rect x="244.70" y="156.38" width="5.0" height="8.3" fill="#cccccc"/>
<rect x="250.75" y="156.38" width="5.0" height="8.3" fill="#cccccc"/>
<rect x="256.80" y="156.38" width="5.0" height="8.3" fill="#cccccc"/>
<rect x="262.85" y="156.38" width="5.0" height="8.3" fill="#cccccc"/>
<rect x="268.90" y="156.38" width="5.0" height="8.3" fill="#cccccc"/>
<rect x="274.95" y="156.38" width="5.0" height="8.3" fill="#cccccc"/>
<rect x="281.00" y="156.38" width="5.0" height="8.3" fill="#cccccc"/>
<rect x="287.05" y="156.38" width="5.0" height="8.3" fill="#cccccc"/>
<rect x="293.10" y="156.38" width="5.0" height="8.3" fill="#cccccc"/>
<rect x="299.15" y="156.38" width="5.0" height="8.3" fill="#cccccc"/>
<rect x="305.20" y="156.38" width="5.0" height="8.3" fill="#cccccc"/>
<rect x="311.25" y="156.38" width="5.0" height="8.3" fill="#cccccc"/>
<rect x="317.30" y="156.38" width="5.0" height="8.3" fill="#cccccc"/>
<rect x="323.35" y="156.38" width="5.0" height="8.3" fill="#cccccc"/>
<rect x="329.40" y="156.38" width="5.0" height="8.3" fill="#cccccc"/>
<rect x="335.45" y="156.38" width="5.0" height="8.3" fill="#ff0000"/>
<rect x="341.50" y="156.38" width="5.0" height="8.3" fill="#cccccc"/>
<rect x="347.55" y="156.38" width="5.0" height="8.3" fill="#48d1cc"/>
<rect x="353.60" y="156.38" width="5.0" height="8.3" fill="#cccccc"/>
<rect x="359.65" y="156.38" width="5.0" height="8.3" fill="#ff0000"/>
<rect x="365.70" y="156.38" width="5.0" height="8.3" fill="#cccccc"/>
<rect x="371.75" y="156.38" width="5.0" height="8.3" fill="#cccccc"/>
<rect x="377.80" y="156.38" width="5.0" height="8.3" fill="#cccccc"/>
<rect x="383.85" y="156.38" width="5.0" height="8.3" fill="#cccccc"/>
<rect x="389.90" y="156.38" width="5.0" height="8.3" fill="#cccccc"/>
<rect x="395.95" y="156.38" width="5.0" height="8.3" fill="#cccccc"/>
<rect x="402.00" y="156.38" width="5.0" height="8.3" fill="#cccccc"/>
<rect x="39.00" y="166.44" width="5.0" height="8.3" fill="#cccccc"/>
<rect x="45.05" y="166.44" width="5.0" height="8.3" fill="#cccccc"/>
<rect x="51.10" y="166.44" width="5.0" height="8.3" fill="#cccccc"/>
<rect x="57.15" y="166.44" width="5.0" height="8.3" fill="#cccccc"/>
<rect x="63.20" y="166.44" width="5.0" height="8.3" fill="#cccccc"/>
<rect x="69.25" y="166.44" width="5.0" height="8.3" fill="#cccccc"/>
<rect x="75.30" y="166.44" width="5.0" height="8.3" fill="#cccccc"/>
<rect x="81.35" y="166.44" width="5.0" height="8.3" fill="#cccccc"/>
<rect x="87.40" y="166.44" width="5.0" height="8.3" fill="#cccccc"/>
<rect x="93.45" y="166.44" width="5.0" height="8.3" fill="#cccccc"/>
<rect x="99.50" y="166.44" width="5.0" height="8.3" fill="#cccccc"/>
<rect x="105.55" y="166.44" width="5.0" height="8.3" fill="#cccccc"/>
<rect x="111.60" y="166.44" width="5.0" height="8.3" fill="#cccccc"/>
<rect x="117.65" y="166.44" width="5.0" height="8.3" fill="#cccccc"/>
<rect x="123.70" y="166.44" width="5.0" height="8.3" fill="#cccccc"/>
<rect x="129.75" y="166.44" width="5.0" height="8.3" fill="#cccccc"/>
<rect x="135.80" y="166.44" width="5.0" height="8.3" fill="#262120"/>
<rect x="141.85" y="166.44" width="5.0" height="8.3" fill="#cccccc"/>
<rect x="147.90" y="166.44" width="5.0" height="8.3" fill="#cccccc"/>
<rect x="153.95" y="166.44" width="5.0" height="8.3" fill="#cccccc"/>
<rect x="160.00" y="166.44" width="5.0" height="8.3" fill="#cccccc"/>
<rect x="166.05" y="166.44" width="5.0" height="8.3" fill="#cccccc"/>
<rect x="172.10" y="166.44" width="5.0" height="8.3" fill="#00688b"/>
<rect x="178.15" y="166.44" width="5.0" height="8.3" fill="#cccccc"/>
<rect x="184.20" y="166.44" width="5.0" height="8.3" fill="#cccccc"/>
<rect x="190.25" y="166.44" width="5.0" height="8.3" fill="#cccccc"/>
<rect x="196.30" y="166.44" width="5.0" height="8.3" fill="#cccccc"/>
<rect x="202.35" y="166.44" width="5.0" height="8.3" fill="#cccccc"/>
<rect x="208.40" y="166.44" width="5.0" height="8.3" fill="#cccccc"/>
<rect x="214.45" y="166.44" width="5.0" height="8.3" fill="#cccccc"/>
<rect x="220.50" y="166.44" width="5.0" height="8.3" fill="#cccccc"/>
<rect x="226.55" y="166.44" width="5.0" height="8.3" fill="#cccccc"/>
<rect x="232.60" y="166.44" width="5.0" height="8.3" fill="#262120"/>
<rect x="238.65" y="166.44" width="5.0" height="8.3" fill="#cccccc"/>
<rect x="244.70" y="166.44" width="5.0" height="8.3" fill="#262120"/>
<rect x="250.75" y="166.44" width="5.0" height="8.3" fill="#cccccc"/>
<rect x="256.80" y="166.44" width="5.0" height="8.3" fill="#cccccc"/>
<rect x="262.85" y="166.44" width="5.0" height="8.3" fill="#cccccc"/>
<rect x="268.90" y="166.44" width="5.0" height="8.3" fill="#00688b"/>
<rect x="274.95" y="166.44" width="5.0" height="8.3" fill="#cccccc"/>
<rect x="281.00" y="166.44" width="5.0" height="8.3" fill="#00688b"/>
<rect x="287.05" y="166.44" width="5.0" height="8.3" fill="#cccccc"/>
<rect x="293.10" y="166.44" width="5.0" height="8.3" fill="#cccccc"/>
<rect x="299.15" y="166.44" width="5.0" height="8.3" fill="#cccccc"/>
<rect x="305.20" y="166.44" width="5.0" height="8.3" fill="#262120"/>
<rect x="311.25" y="166.44" width="5.0" height="8.3" fill="#cccccc"/>
<rect x="317.30" y="166.44" width="5.0" height="8.3" fill="#cccccc"/>
<rect x="323.35" y="166.44" width="5.0" height="8.3" fill="#cccccc"/>
<rect x="329.40" y="166.44" width="5.0" height="8.3" fill="#cccccc"/>
<rect x="335.45" y="166.44" width="5.0" height="8.3" fill="#cccccc"/>
<rect x="341.50" y="166.44" width="5.0" height="8.3" fill="#cccccc"/>
<rect x="347.55" y="166.44" width="5.0" height="8.3" fill="#cccccc"/>
<rect x="353.60" y="166.44" width="5.0" height="8.3" fill="#cccccc"/>
<rect x="359.65" y="166.44" width="5.0" height="8.3" fill="#cccccc"/>
<rect x="365.70" y="166.44" width="5.0" height="8.3" fill="#cccccc"/>
<rect x="371.75" y="166.44" width="5.0" height="8.3" fill="#cccccc"/>
<rect x="377.80" y="166.44" width="5.0" height="8.3" fill="#cccccc"/>
<rect x="383.85" y="166.44" width="5.0" height="8.3" fill="#cccccc"/>
<rect x="389.90" y="166.44" width="5.0" height="8.3" fill="#cccccc"/>
<rect x="395.95" y="166.44" width="5.0" height="8.3" fill="#cccccc"/>
<rect x="402.00" y="166.44" width="5.0" height="8.3" fill="#cccccc"/>
<rect x="39.00" y="176.50" width="5.0" height="8.3" fill="#00688b"/>
<rect x="45.05" y="176.50" width="5.0" height="8.3" fill="#cccccc"/>
<rect x="51.10" y="176.50" width="5.0" height="8.3" fill="#ff0000"/>
<rect x="57.15" y="176.50" width="5.0" height="8.3" fill="#cccccc"/>
<rect x="63.20" y="176.50" width="5.0" height="8.3" fill="#cccccc"/>
<rect x="69.25" y="176.50" width="5.0" height="8.3" fill="#cccccc"/>
<rect x="75.30" y="176.50" width="5.0" height="8.3" fill="#cccccc"/>
<rect x="81.35" y="176.50" width="5.0" height="8.3" fill="#cccccc"/>
<rect x="87.40" y="176.50" width="5.0" height="8.3" fill="#ff0000"/>
<rect x="93.45" y="176.50" width="5.0" height="8.3" fill="#cccccc"/>
<rect x="99.50" y="176.50" width="5.0" height="8.3" fill="#cccccc"/>
<rect x="105.55" y="176.50" width="5.0" height="8.3" fill="#cccccc"/>
<rect x="111.60" y="176.50" width="5.0" height="8.3" fill="#00688b"/>
<rect x="117.65" y="176.50" width="5.0" height="8.3" fill="#cccccc"/>
<rect x="123.70" y="176.50" width="5.0" height="8.3" fill="#cccccc"/>
<rect x="129.75" y="176.50" width="5.0" height="8.3" fill="#cccccc"/>
<rect x="135.80" y="176.50" width="5.0" height="8.3" fill="#cccccc"/>
<rect x="141.85" y="176.50" width="5.0" height="8.3" fill="#cccccc"/>
<rect x="147.90" y="176.50" width="5.0" height="8.3" fill="#cccccc"/>
<rect x="153.95" y="176.50" width="5.0" height="8.3" fill="#cccccc"/>
<rect x="160.00" y="176.50" width="5.0" height="8.3" fill="#cccccc"/>
<rect x="166.05" y="176.50" width="5.0" height="8.3" fill="#cccccc"/>
<rect x="172.10" y="176.50" width="5.0" height="8.3" fill="#cccccc"/>
<rect x="178.15" y="176.50" width="5.0" height="8.3" fill="#cccccc"/>
<rect x="184.20" y="176.50" width="5.0" height="8.3" fill="#00688b"/>
<rect x="190.25" y="176.50" width="5.0" height="8.3" fill="#cccccc"/>
<rect x="196.30" y="176.50" width="5.0" height="8.3" fill="#cccccc"/>
<rect x="202.35" y="176.50" width="5.0" height="8.3" fill="#cccccc"/>
<rect x="208.40" y="176.50" width="5.0" height="8.3" fill="#cccccc"/>
<rect x="214.45" y="176.50" width="5.0" height="8.3" fill="#cccccc"/>
<rect x="220.50" y="176.50" width="5.0" height="8.3" fill="#cccccc"/>
<rect x="226.55" y="176.50" width="5.0" height="8.3" fill="#cccccc"/>
<rect x="232.60" y="176.50" width="5.0" height="8.3" fill="#cccccc"/>
<rect x="238.65" y="176.50" width="5.0" height="8.3" fill="#cccccc"/>
<rect x="244.70" y="176.50" width="5.0" height="8.3" fill="#cccccc"/>
<rect x="250.75" y="176.50" width="5.0" height="8.3" fill="#cccccc"/>
<rect x="256.80" y="176.50" width="5.0" height="8.3" fill="#cccccc"/>
<rect x="262.85" y="176.50" width="5.0" height="8.3" fill="#cccccc"/>
<rect x="268.90" y="176.50" width="5.0" height="8.3" fill="#cccccc"/>
<rect x="274.95" y="176.50" width="5.0" height="8.3" fill="#cccccc"/>
<rect x="281.00" y="176.50" width="5.0" height="8.3" fill="#cccccc"/>
<rect x="287.05" y="176.50" width="5.0" height="8.3" fill="#cccccc"/>
<rect x="293.10" y="176.50" width="5.0" height="8.3" fill="#cccccc"/>
<rect x="299.15" y="176.50" width="5.0" height="8.3" fill="#cccccc"/>
<rect x="305.20" y="176.50" width="5.0" height="8.3" fill="#cccccc"/>
<rect x="311.25" y="176.50" width="5.0" height="8.3" fill="#cccccc"/>
<rect x="317.30" y="176.50" width="5.0" height="8.3" fill="#cccccc"/>
<rect x="323.35" y="176.50" width="5.0" height="8.3" fill="#cccccc"/>
<rect x="329.40" y="176.50" width="5.0" height="8.3" fill="#cccccc"/>
<rect x="335.45" y="176.50" width="5.0" height="8.3" fill="#00688b"/>
<rect x="341.50" y="176.50" width="5.0" height="8.3" fill="#cccccc"/>
<rect x="347.55" y="176.50" width="5.0" height="8.3" fill="#cccccc"/>
<rect x="353.60" y="176.50" width="5.0" height="8.3" fill="#cccccc"/>
<rect x="359.65" y="176.50" width="5.0" height="8.3" fill="#cccccc"/>
<rect x="365.70" y="176.50" width="5.0" height="8.3" fill="#cccccc"/>
<rect x="371.75" y="176.50" width="5.0" height="8.3" fill="#cccccc"/>
<rect x="377.80" y="176.50" width="5.0" height="8.3" fill="#ff0000"/>
<rect x="383.85" y="176.50" width="5.0" height="8.3" fill="#cccccc"/>
<rect x="389.90" y="176.50" width="5.0" height="8.3" fill="#cccccc"/>
<rect x="395.95" y="176.50" width="5.0" height="8.3" fill="#cccccc"/>
<rect x="402.00" y="176.50" width="5.0" height="8.3" fill="#cccccc"/>
<rect x="39.00" y="186.56" width="5.0" height="8.3" fill="#cccccc"/>
<rect x="45.05" y="186.56" width="5.0" height="8.3" fill="#cccccc"/>
<rect x="51.10" y="186.56" width="5.0" height="8.3" fill="#cccccc"/>
<rect x="57.15" y="186.56" width="5.0" height="8.3" fill="#cccccc"/>
<rect x="63.20" y="186.56" width="5.0" height="8.3" fill="#cccccc"/>
<rect x="69.25" y="186.56" width="5.0" height="8.3" fill="#cccccc"/>
<rect x="75.30" y="186.56" width="5.0" height="8.3" fill="#cccccc"/>
<rect x="81.35" y="186.56" width="5.0" height="8.3" fill="#cccccc"/>
<rect x="87.40" y="186.56" width="5.0" height="8.3" fill="#cccccc"/>
<rect x="93.45" y="186.56" width="5.0" height="8.3" fill="#cccccc"/>
<rect x="99.50" y="186.56" width="5.0" height="8.3" fill="#cccccc"/>
<rect x="105.55" y="186.56" width="5.0" height="8.3" fill="#cccccc"/>
<rect x="111.60" y="186.56" width="5.0" height="8.3" fill="#cccccc"/>
<rect x="117.65" y="186.56" width="5.0" height="8.3" fill="#cccccc"/>
<rect x="123.70" y="186.56" width="5.0" height="8.3" fill="#cccccc"/>
<rect x="129.75" y="186.56" width="5.0" height="8.3" fill="#cccccc"/>
<rect x="135.80" y="186.56" width="5.0" height="8.3" fill="#00688b"/>
<rect x="141.85" y="186.56" width="5.0" height="8.3" fill="#cccccc"/>
<rect x="147.90" y="186.56" width="5.0" height="8.3" fill="#cccccc"/>
<rect x="153.95" y="186.56" width="5.0" height="8.3" fill="#cccccc"/>
<rect x="160.00" y="186.56" width="5.0" height="8.3" fill="#cccccc"/>
<rect x="166.05" y="186.56" width="5.0" height="8.3" fill="#cccccc"/>
<rect x="172.10" y="186.56" width="5.0" height="8.3" fill="#cccccc"/>
<rect x="178.15" y="186.56" width="5.0" height="8.3" fill="#cccccc"/>
<rect x="184.20" y="186.56" width="5.0" height="8.3" fill="#ffa500"/>
<rect x="190.25" y="186.56" width="5.0" height="8.3" fill="#cccccc"/>
<rect x="196.30" y="186.56" width="5.0" height="8.3" fill="#cccccc"/>
<rect x="202.35" y="186.56" width="5.0" height="8.3" fill="#00688b"/>
<rect x="208.40" y="186.56" width="5.0" height="8.3" fill="#cccccc"/>
<rect x="214.45" y="186.56" width="5.0" height="8.3" fill="#cccccc"/>
<rect x="220.50" y="186.56" width="5.0" height="8.3" fill="#cccccc"/>
<rect x="226.55" y="186.56" width="5.0" height="8.3" fill="#cccccc"/>
<rect x="232.60" y="186.56" width="5.0" height="8.3" fill="#cccccc"/>
<rect x="238.65" y="186.56" width="5.0" height="8.3" fill="#cccccc"/>
<rect x="244.70" y="186.56" width="5.0" height="8.3" fill="#cccccc"/>
<rect x="250.75" y="186.56" width="5.0" height="8.3" fill="#262120"/>
<rect x="256.80" y="186.56" width="5.0" height="8.3" fill="#cccccc"/>
<rect x="262.85" y="186.56" width="5.0" height="8.3" fill="#cccccc"/>
<rect x="268.90" y="186.56" width="5.0" height="8.3" fill="#cccccc"/>
<rect x="274.95" y="186.56" width="5.0" height="8.3" fill="#cccccc"/>
<rect x="281.00" y="186.56" width="5.0" height="8.3" fill="#cccccc"/>
<rect x="287.05" y="186.56" width="5.0" height="8.3" fill="#cccccc"/>
<rect x="293.10" y="186.56" width="5.0" height="8.3" fill="#cccccc"/>
<rect x="299.15" y="186.56" width="5.0" height="8.3" fill="#cccccc"/>
<rect x="305.20" y="186.56" width="5.0" height="8.3" fill="#262120"/>
<rect x="311.25" y="186.56" width="5.0" height="8.3" fill="#cccccc"/>
<rect x="317.30" y="186.56" width="5.0" height="8.3" fill="#cccccc"/>
<rect x="323.35" y="186.56" width="5.0" height="8.3" fill="#cccccc"/>
<rect x="329.40" y="186.56" width="5.0" height="8.3" fill="#cccccc"/>
<rect x="335.45" y="186.56" width="5.0" height="8.3" fill="#cccccc"/>
<rect x="341.50" y="186.56" width="5.0" height="8.3" fill="#00688b"/>
<rect x="347.55" y="186.56" width="5.0" height="8.3" fill="#cccccc"/>
<rect x="353.60" y="186.56" width="5.0" height="8.3" fill="#cccccc"/>
<rect x="359.65" y="186.56" width="5.0" height="8.3" fill="#cccccc"/>
<rect x="365.70" y="186.56" width="5.0" height="8.3" fill="#cccccc"/>
<rect x="371.75" y="186.56" width="5.0" height="8.3" fill="#cccccc"/>
<rect x="377.80" y="186.56" width="5.0" height="8.3" fill="#cccccc"/>
<rect x="383.85" y="186.56" width="5.0" height="8.3" fill="#cccccc"/>
<rect x="389.90" y="186.56" width="5.0" height="8.3" fill="#cccccc"/>
<rect x="395.95" y="186.56" width="5.0" height="8.3" fill="#cccccc"/>
<rect x="402.00" y="186.56" width="5.0" height="8.3" fill="#cccccc"/>
<rect x="39.00" y="196.62" width="5.0" height="8.3" fill="#cccccc"/>
<rect x="45.05" y="196.62" width="5.0" height="8.3" fill="#cccccc"/>
<rect x="51.10" y="196.62" width="5.0" height="8.3" fill="#cccccc"/>
<rect x="57.15" y="196.62" width="5.0" height="8.3" fill="#cccccc"/>
<rect x="63.20" y="196.62" width="5.0" height="8.3" fill="#00688b"/>
<rect x="69.25" y="196.62" width="5.0" height="8.3" fill="#cccccc"/>
<rect x="75.30" y="196.62" width="5.0" height="8.3" fill="#cccccc"/>
<rect x="81.35" y="196.62" width="5.0" height="8.3" fill="#cccccc"/>
<rect x="87.40" y="196.62" width="5.0" height="8.3" fill="#cccccc"/>
<rect x="93.45" y="196.62" width="5.0" height="8.3" fill="#cccccc"/>
<rect x="99.50" y="196.62" width="5.0" height="8.3" fill="#cccccc"/>
<rect x="105.55" y="196.62" width="5.0" height="8.3" fill="#cccccc"/>
<rect x="111.60" y="196.62" width="5.0" height="8.3" fill="#cccccc"/>
<rect x="117.65" y="196.62" width="5.0" height="8.3" fill="#cccccc"/>
<rect x="123.70" y="196.62" width="5.0" height="8.3" fill="#cccccc"/>
<rect x="129.75" y="196.62" width="5.0" height="8.3" fill="#cccccc"/>
<rect x="135.80" y="196.62" width="5.0" height="8.3" fill="#cccccc"/>
<rect x="141.85" y="196.62" width="5.0" height="8.3" fill="#cccccc"/>
<rect x="147.90" y="196.62" width="5.0" height="8.3" fill="#00688b"/>
<rect x="153.95" y="196.62" width="5.0" height="8.3" fill="#cccccc"/>
<rect x="160.00" y="196.62" width="5.0" height="8.3" fill="#cccccc"/>
<rect x="166.05" y="196.62" width="5.0" height="8.3" fill="#cccccc"/>
<rect x="172.10" y="196.62" width="5.0" height="8.3" fill="#cccccc"/>
<rect x="178.15" y="196.62" width="5.0" height="8.3" fill="#cccccc"/>
<rect x="184.20" y="196.62" width="5.0" height="8.3" fill="#cccccc"/>
<rect x="190.25" y="196.62" width="5.0" height="8.3" fill="#cccccc"/>
<rect x="196.30" y="196.62" width="5.0" height="8.3" fill="#cccccc"/>
<rect x="202.35" y="196.62" width="5.0" height="8.3" fill="#cccccc"/>
<rect x="208.40" y="196.62" width="5.0" height="8.3" fill="#cccccc"/>
<rect x="214.45" y="196.62" width="5.0" height="8.3" fill="#cccccc"/>
<rect x="220.50" y="196.62" width="5.0" height="8.3" fill="#cccccc"/>
<rect x="226.55" y="196.62" width="5.0" height="8.3" fill="#cccccc"/>
<rect x="232.60" y="196.62" width="5.0" height="8.3" fill="#262120"/>
<rect x="238.65" y="196.62" width="5.0" height="8.3" fill="#cccccc"/>
<rect x="244.70" y="196.62" width="5.0" height="8.3" fill="#cccccc"/>
<rect x="250.75" y="196.62" width="5.0" height="8.3" fill="#cccccc"/>
<rect x="256.80" y="196.62" width="5.0" height="8.3" fill="#cccccc"/>
<rect x="262.85" y="196.62" width="5.0" height="8.3" fill="#cccccc"/>
<rect x="268.90" y="196.62" width="5.0" height="8.3" fill="#cccccc"/>
<rect x="274.95" y="196.62" width="5.0" height="8.3" fill="#cccccc"/>
<rect x="281.00" y="196.62" width="5.0" height="8.3" fill="#cccccc"/>
<rect x="287.05" y="196.62" width="5.0" height="8.3" fill="#cccccc"/>
<rect x="293.10" y="196.62" width="5.0" height="8.3" fill="#cccccc"/>
<rect x="299.15" y="196.62" width="5.0" height="8.3" fill="#cccccc"/>
<rect x="305.20" y="196.62" width="5.0" height="8.3" fill="#cccccc"/>
<rect x="311.25" y="196.62" width="5.0" height="8.3" fill="#cccccc"/>
<rect x="317.30" y="196.62" width="5.0" height="8.3" fill="#cccccc"/>
<rect x="323.35" y="196.62" width="5.0" height="8.3" fill="#cccccc"/>
<rect x="329.40" y="196.62" width="5.0" height="8.3" fill="#cccccc"/>
<rect x="335.45" y="196.62" width="5.0" height="8.3" fill="#00688b"/>
<rect x="341.50" y="196.62" width="5.0" height="8.3" fill="#00688b"/>
<rect x="347.55" y="196.62" width="5.0" height="8.3" fill="#cccccc"/>
<rect x="353.60" y="196.62" width="5.0" height="8.3" fill="#cccccc"/>
<rect x="359.65" y="196.62" width="5.0" height="8.3" fill="#cccccc"/>
<rect x="365.70" y="196.62" width="5.0" height="8.3" fill="#cccccc"/>
<rect x="371.75" y="196.62" width="5.0" height="8.3" fill="#cccccc"/>
<rect x="377.80" y="196.62" width="5.0" height="8.3" fill="#cccccc"/>
<rect x="383.85" y="196.62" width="5.0" height="8.3" fill="#cccccc"/>
<rect x="389.90" y="196.62" width="5.0" height="8.3" fill="#cccccc"/>
<rect x="395.95" y="196.62" width="5.0" height="8.3" fill="#cccccc"/>
<rect x="402.00" y="196.62" width="5.0" height="8.3" fill="#cccccc"/>
<rect x="39.00" y="206.68" width="5.0" height="8.3" fill="#cccccc"/>
<rect x="45.05" y="206.68" width="5.0" height="8.3" fill="#cccccc"/>
<rect x="51.10" y="206.68" width="5.0" height="8.3" fill="#cccccc"/>
<rect x="57.15" y="206.68" width="5.0" height="8.3" fill="#cccccc"/>
<rect x="63.20" y="206.68" width="5.0" height="8.3" fill="#cccccc"/>
<rect x="69.25" y="206.68" width="5.0" height="8.3" fill="#cccccc"/>
<rect x="75.30" y="206.68" width="5.0" height="8.3" fill="#cccccc"/>
<rect x="81.35" y="206.68" width="5.0" height="8.3" fill="#cccccc"/>
<rect x="87.40" y="206.68" width="5.0" height="8.3" fill="#cccccc"/>
<rect x="93.45" y="206.68" width="5.0" height="8.3" fill="#00688b"/>
<rect x="99.50" y="206.68" width="5.0" height="8.3" fill="#cccccc"/>
<rect x="105.55" y="206.68" width="5.0" height="8.3" fill="#cccccc"/>
<rect x="111.60" y="206.68" width="5.0" height="8.3" fill="#cccccc"/>
<rect x="117.65" y="206.68" width="5.0" height="8.3" fill="#cccccc"/>
<rect x="123.70" y="206.68" width="5.0" height="8.3" fill="#cccccc"/>
<rect x="129.75" y="206.68" width="5.0" height="8.3" fill="#cccccc"/>
<rect x="135.80" y="206.68" width="5.0" height="8.3" fill="#cccccc"/>
<rect x="141.85" y="206.68" width="5.0" height="8.3" fill="#cccccc"/>
<rect x="147.90" y="206.68" width="5.0" height="8.3" fill="#cccccc"/>
<rect x="153.95" y="206.68" width="5.0" height="8.3" fill="#cccccc"/>
<rect x="160.00" y="206.68" width="5.0" height="8.3" fill="#cccccc"/>
<rect x="166.05" y="206.68" width="5.0" height="8.3" fill="#cccccc"/>
<rect x="172.10" y="206.68" width="5.0" height="8.3" fill="#cccccc"/>
<rect x="178.15" y="206.68" width="5.0" height="8.3" fill="#cccccc"/>
<rect x="184.20" y="206.68" width="5.0" height="8.3" fill="#00688b"/>
<rect x="190.25" y="206.68" width="5.0" height="8.3" fill="#cccccc"/>
<rect x="196.30" y="206.68" width="5.0" height="8.3" fill="#cccccc"/>
<rect x="202.35" y="206.68" width="5.0" height="8.3" fill="#cccccc"/>
<rect x="208.40" y="206.68" width="5.0" height="8.3" fill="#cccccc"/>
<rect x="214.45" y="206.68" width="5.0" height="8.3" fill="#cccccc"/>
<rect x="220.50" y="206.68" width="5.0" height="8.3" fill="#cccccc"/>
<rect x="226.55" y="206.68" width="5.0" height="8.3" fill="#cccccc"/>
<rect x="232.60" y="206.68" width="5.0" height="8.3" fill="#cccccc"/>
<rect x="238.65" y="206.68" width="5.0" height="8.3" fill="#cccccc"/>
<rect x="244.70" y="206.68" width="5.0" height="8.3" fill="#cccccc"/>
<rect x="250.75" y="206.68" width="5.0" height="8.3" fill="#00688b"/>
<rect x="256.80" y="206.68" width="5.0" height="8.3" fill="#cccccc"/>
<rect x="262.85" y="206.68" width="5.0" height="8.3" fill="#cccccc"/>
<rect x="268.90" y="206.68" width="5.0" height="8.3" fill="#00688b"/>
<rect x="274.95" y="206.68" width="5.0" height="8.3" fill="#cccccc"/>
<rect x="281.00" y="206.68" width="5.0" height="8.3" fill="#cccccc"/>
<rect x="287.05" y="206.68" width="5.0" height="8.3" fill="#cccccc"/>
<rect x="293.10" y="206.68" width="5.0" height="8.3" fill="#cccccc"/>
<rect x="299.15" y="206.68" width="5.0" height="8.3" fill="#cccccc"/>
<rect x="305.20" y="206.68" width="5.0" height="8.3" fill="#cccccc"/>
<rect x="311.25" y="206.68" width="5.0" height="8.3" fill="#cccccc"/>
<rect x="317.30" y="206.68" width="5.0" height="8.3" fill="#cccccc"/>
<rect x="323.35" y="206.68" width="5.0" height="8.3" fill="#cccccc"/>
<rect x="329.40" y="206.68" width="5.0" height="8.3" fill="#cccccc"/>
<rect x="335.45" y="206.68" width="5.0" height="8.3" fill="#262120"/>
<rect x="341.50" y="206.68" width="5.0" height="8.3" fill="#cccccc"/>
<rect x="347.55" y="206.68" width="5.0" height="8.3" fill="#cccccc"/>
<rect x="353.60" y="206.68" width="5.0" height="8.3" fill="#cccccc"/>
<rect x="359.65" y="206.68" width="5.0" height="8.3" fill="#cccccc"/>
<rect x="365.70" y="206.68" width="5.0" height="8.3" fill="#cccccc"/>
<rect x="371.75" y="206.68" width="5.0" height="8.3" fill="#cccccc"/>
<rect x="377.80" y="206.68" width="5.0" height="8.3" fill="#cccccc"/>
<rect x="383.85" y="206.68" width="5.0" height="8.3" fill="#cccccc"/>
<rect x="389.90" y="206.68" width="5.0" height="8.3" fill="#cccccc"/>
<rect x="395.95" y="206.68" width="5.0" height="8.3" fill="#cccccc"/>
<rect x="402.00" y="206.68" width="5.0" height="8.3" fill="#cccccc"/>
<rect x="39.00" y="216.74" width="5.0" height="8.3" fill="#cccccc"/>
<rect x="45.05" y="216.74" width="5.0" height="8.3" fill="#cccccc"/>
<rect x="51.10" y="216.74" width="5.0" height="8.3" fill="#cccccc"/>
<rect x="57.15" y="216.74" width="5.0" height="8.3" fill="#cccccc"/>
<rect x="63.20" y="216.74" width="5.0" height="8.3" fill="#cccccc"/>
<rect x="69.25" y="216.74" width="5.0" height="8.3" fill="#cccccc"/>
<rect x="75.30" y="216.74" width="5.0" height="8.3" fill="#cccccc"/>
<rect x="81.35" y="216.74" width="5.0" height="8.3" fill="#cccccc"/>
<rect x="87.40" y="216.74" width="5.0" height="8.3" fill="#cccccc"/>
<rect x="93.45" y="216.74" width="5.0" height="8.3" fill="#cccccc"/>
<rect x="99.50" y="216.74" width="5.0" height="8.3" fill="#cccccc"/>
<rect x="105.55" y="216.74" width="5.0" height="8.3" fill="#cccccc"/>
<rect x="111.60" y="216.74" width="5.0" height="8.3" fill="#cccccc"/>
<rect x="117.65" y="216.74" width="5.0" height="8.3" fill="#a020f0"/>
<rect x="123.70" y="216.74" width="5.0" height="8.3" fill="#cccccc"/>
<rect x="129.75" y="216.74" width="5.0" height="8.3" fill="#cccccc"/>
<rect x="135.80" y="216.74" width="5.0" height="8.3" fill="#cccccc"/>
<rect x="141.85" y="216.74" width="5.0" height="8.3" fill="#ff0000"/>
<rect x="147.90" y="216.74" width="5.0" height="8.3" fill="#262120"/>
<rect x="153.95" y="216.74" width="5.0" height="8.3" fill="#cccccc"/>
<rect x="160.00" y="216.74" width="5.0" height="8.3" fill="#cccccc"/>
<rect x="166.05" y="216.74" width="5.0" height="8.3" fill="#cccccc"/>
<rect x="172.10" y="216.74" width="5.0" height="8.3" fill="#a020f0"/>
<rect x="178.15" y="216.74" width="5.0" height="8.3" fill="#cccccc"/>
<rect x="184.20" y="216.74" width="5.0" height="8.3" fill="#cccccc"/>
<rect x="190.25" y="216.74" width="5.0" height="8.3" fill="#cccccc"/>
<rect x="196.30" y="216.74" width="5.0" height="8.3" fill="#cccccc"/>
<rect x="202.35" y="216.74" width="5.0" height="8.3" fill="#cccccc"/>
<rect x="208.40" y="216.74" width="5.0" height="8.3" fill="#cccccc"/>
<rect x="214.45" y="216.74" width="5.0" height="8.3" fill="#cccccc"/>
<rect x="220.50" y="216.74" width="5.0" height="8.3" fill="#cccccc"/>
<rect x="226.55" y="216.74" width="5.0" height="8.3" fill="#cccccc"/>
<rect x="232.60" y="216.74" width="5.0" height="8.3" fill="#cccccc"/>
<rect x="238.65" y="216.74" width="5.0" height="8.3" fill="#cccccc"/>
<rect x="244.70" y="216.74" width="5.0" height="8.3" fill="#cccccc"/>
<rect x="250.75" y="216.74" width="5.0" height="8.3" fill="#cccccc"/>
<rect x="256.80" y="216.74" width="5.0" height="8.3" fill="#cccccc"/>
<rect x="262.85" y="216.74" width="5.0" height="8.3" fill="#cccccc"/>
<rect x="268.90" y="216.74" width="5.0" height="8.3" fill="#cccccc"/>
<rect x="274.95" y="216.74" width="5.0" height="8.3" fill="#cccccc"/>
<rect x="281.00" y="216.74" width="5.0" height="8.3" fill="#cccccc"/>
<rect x="287.05" y="216.74" width="5.0" height="8.3" fill="#cccccc"/>
<rect x="293.10" y="216.74" width="5.0" height="8.3" fill="#cccccc"/>
<rect x="299.15" y="216.74" width="5.0" height="8.3" fill="#a020f0"/>
<rect x="305.20" y="216.74" width="5.0" height="8.3" fill="#cccccc"/>
<rect x="311.25" y="216.74" width="5.0" height="8.3" fill="#cccccc"/>
<rect x="317.30" y="216.74" width="5.0" height="8.3" fill="#cccccc"/>
<rect x="323.35" y="216.74" width="5.0" height="8.3" fill="#cccccc"/>
<rect x="329.40" y="216.74" width="5.0" height="8.3" fill="#cccccc"/>
<rect x="335.45" y="216.74" width="5.0" height="8.3" fill="#cccccc"/>
<rect x="341.50" y="216.74" width="5.0" height="8.3" fill="#cccccc"/>
<rect x="347.55" y="216.74" width="5.0" height="8.3" fill="#cccccc"/>
<rect x="353.60" y="216.74" width="5.0" height="8.3" fill="#cccccc"/>
<rect x="359.65" y="216.74" width="5.0" height="8.3" fill="#cccccc"/>
<rect x="365.70" y="216.74" width="5.0" height="8.3" fill="#cccccc"/>
<rect x="371.75" y="216.74" width="5.0" height="8.3" fill="#cccccc"/>
<rect x="377.80" y="216.74" width="5.0" height="8.3" fill="#cccccc"/>
<rect x="383.85" y="216.74" width="5.0" height="8.3" fill="#cccccc"/>
<rect x="389.90" y="216.74" width="5.0" height="8.3" fill="#cccccc"/>
<rect x="395.95" y="216.74" width="5.0" height="8.3" fill="#cccccc"/>
<rect x="402.00" y="216.74" width="5.0" height="8.3" fill="#cccccc"/>
<rect x="39.00" y="226.80" width="5.0" height="8.3" fill="#00688b"/>
<rect x="45.05" y="226.80" width="5.0" height="8.3" fill="#cccccc"/>
<rect x="51.10" y="226.80" width="5.0" height="8.3" fill="#cccccc"/>
<rect x="57.15" y="226.80" width="5.0" height="8.3" fill="#cccccc"/>
<rect x="63.20" y="226.80" width="5.0" height="8.3" fill="#cccccc"/>
<rect x="69.25" y="226.80" width="5.0" height="8.3" fill="#cccccc"/>
<rect x="75.30" y="226.80" width="5.0" height="8.3" fill="#cccccc"/>
<rect x="81.35" y="226.80" width="5.0" height="8.3" fill="#cccccc"/>
<rect x="87.40" y="226.80" width="5.0" height="8.3" fill="#cccccc"/>
<rect x="93.45" y="226.80" width="5.0" height="8.3" fill="#cccccc"/>
<rect x="99.50" y="226.80" width="5.0" height="8.3" fill="#00688b"/>
<rect x="105.55" y="226.80" width="5.0" height="8.3" fill="#cccccc"/>
<rect x="111.60" y="226.80" width="5.0" height="8.3" fill="#cccccc"/>
<rect x="117.65" y="226.80" width="5.0" height="8.3" fill="#cccccc"/>
<rect x="123.70" y="226.80" width="5.0" height="8.3" fill="#cccccc"/>
<rect x="129.75" y="226.80" width="5.0" height="8.3" fill="#cccccc"/>
<rect x="135.80" y="226.80" width="5.0" height="8.3" fill="#cccccc"/>
<rect x="141.85" y="226.80" width="5.0" height="8.3" fill="#cccccc"/>
<rect x="147.90" y="226.80" width="5.0" height="8.3" fill="#cccccc"/>
<rect x="153.95" y="226.80" width="5.0" height="8.3" fill="#cccccc"/>
<rect x="160.00" y="226.80" width="5.0" height="8.3" fill="#cccccc"/>
<rect x="166.05" y="226.80" width="5.0" height="8.3" fill="#00688b"/>
<rect x="172.10" y="226.80" width="5.0" height="8.3" fill="#cccccc"/>
<rect x="178.15" y="226.80" width="5.0" height="8.3" fill="#cccccc"/>
<rect x="184.20" y="226.80" width="5.0" height="8.3" fill="#cccccc"/>
<rect x="190.25" y="226.80" width="5.0" height="8.3" fill="#cccccc"/>
<rect x="196.30" y="226.80" width="5.0" height="8.3" fill="#cccccc"/>
<rect x="202.35" y="226.80" width="5.0" height="8.3" fill="#cccccc"/>
<rect x="208.40" y="226.80" width="5.0" height="8.3" fill="#262120"/>
<rect x="214.45" y="226.80" width="5.0" height="8.3" fill="#cccccc"/>
<rect x="220.50" y="226.80" width="5.0" height="8.3" fill="#cccccc"/>
<rect x="226.55" y="226.80" width="5.0" height="8.3" fill="#cccccc"/>
<rect x="232.60" y="226.80" width="5.0" height="8.3" fill="#cccccc"/>
<rect x="238.65" y="226.80" width="5.0" height="8.3" fill="#cccccc"/>
<rect x="244.70" y="226.80" width="5.0" height="8.3" fill="#cccccc"/>
<rect x="250.75" y="226.80" width="5.0" height="8.3" fill="#cccccc"/>
<rect x="256.80" y="226.80" width="5.0" height="8.3" fill="#cccccc"/>
<rect x="262.85" y="226.80" width="5.0" height="8.3" fill="#cccccc"/>
<rect x="268.90" y="226.80" width="5.0" height="8.3" fill="#cccccc"/>
<rect x="274.95" y="226.80" width="5.0" height="8.3" fill="#cccccc"/>
<rect x="281.00" y="226.80" width="5.0" height="8.3" fill="#cccccc"/>
<rect x="287.05" y="226.80" width="5.0" height="8.3" fill="#cccccc"/>
<rect x="293.10" y="226.80" width="5.0" height="8.3" fill="#cccccc"/>
<rect x="299.15" y="226.80" width="5.0" height="8.3" fill="#cccccc"/>
<rect x="305.20" y="226.80" width="5.0" height="8.3" fill="#cccccc"/>
<rect x="311.25" y="226.80" width="5.0" height="8.3" fill="#cccccc"/>
<rect x="317.30" y="226.80" width="5.0" height="8.3" fill="#cccccc"/>
<rect x="323.35" y="226.80" width="5.0" height="8.3" fill="#cccccc"/>
<rect x="329.40" y="226.80" width="5.0" height="8.3" fill="#cccccc"/>
<rect x="335.45" y="226.80" width="5.0" height="8.3" fill="#cccccc"/>
<rect x="341.50" y="226.80" width="5.0" height="8.3" fill="#cccccc"/>
<rect x="347.55" y="226.80" width="5.0" height="8.3" fill="#cccccc"/>
<rect x="353.60" y="226.80" width="5.0" height="8.3" fill="#cccccc"/>
<rect x="359.65" y="226.80" width="5.0" height="8.3" fill="#cccccc"/>
<rect x="365.70" y="226.80" width="5.0" height="8.3" fill="#00688b"/>
<rect x="371.75" y="226.80" width="5.0" height="8.3" fill="#cccccc"/>
<rect x="377.80" y="226.80" width="5.0" height="8.3" fill="#cccccc"/>
<rect x="383.85" y="226.80" width="5.0" height="8.3" fill="#cccccc"/>
<rect x="389.90" y="226.80" width="5.0" height="8.3" fill="#cccccc"/>
<rect x="395.95" y="226.80" width="5.0" height="8.3" fill="#cccccc"/>
<rect x="402.00" y="226.80" width="5.0" height="8.3" fill="#cccccc"/>
<rect x="39.00" y="236.86" width="5.0" height="8.3" fill="#cccccc"/>
<rect x="45.05" y="236.86" width="5.0" height="8.3" fill="#cccccc"/>
<rect x="51.10" y="236.86" width="5.0" height="8.3" fill="#cccccc"/>
<rect x="57.15" y="236.86" width="5.0" height="8.3" fill="#cccccc"/>
<rect x="63.20" y="236.86" width="5.0" height="8.3" fill="#cccccc"/>
<rect x="69.25" y="236.86" width="5.0" height="8.3" fill="#48d1cc"/>
<rect x="75.30" y="236.86" width="5.0" height="8.3" fill="#cccccc"/>
<rect x="81.35" y="236.86" width="5.0" height="8.3" fill="#cccccc"/>
<rect x="87.40" y="236.86" width="5.0" height="8.3" fill="#48d1cc"/>
<rect x="93.45" y="236.86" width="5.0" height="8.3" fill="#cccccc"/>
<rect x="99.50" y="236.86" width="5.0" height="8.3" fill="#cccccc"/>
<rect x="105.55" y="236.86" width="5.0" height="8.3" fill="#48d1cc"/>
<rect x="111.60" y="236.86" width="5.0" height="8.3" fill="#cccccc"/>
<rect x="117.65" y="236.86" width="5.0" height="8.3" fill="#cccccc"/>
<rect x="123.70" y="236.86" width="5.0" height="8.3" fill="#cccccc"/>
<rect x="129.75" y="236.86" width="5.0" height="8.3" fill="#cccccc"/>
<rect x="135.80" y="236.86" width="5.0" height="8.3" fill="#cccccc"/>
<rect x="141.85" y="236.86" width="5.0" height="8.3" fill="#cccccc"/>
<rect x="147.90" y="236.86" width="5.0" height="8.3" fill="#cccccc"/>
<rect x="153.95" y="236.86" width="5.0" height="8.3" fill="#cccccc"/>
<rect x="160.00" y="236.86" width="5.0" height="8.3" fill="#cccccc"/>
<rect x="166.05" y="236.86" width="5.0" height="8.3" fill="#cccccc"/>
<rect x="172.10" y="236.86" width="5.0" height="8.3" fill="#cccccc"/>
<rect x="178.15" y="236.86" width="5.0" height="8.3" fill="#cccccc"/>
<rect x="184.20" y="236.86" width="5.0" height="8.3" fill="#cccccc"/>
<rect x="190.25" y="236.86" width="5.0" height="8.3" fill="#cccccc"/>
<rect x="196.30" y="236.86" width="5.0" height="8.3" fill="#cccccc"/>
<rect x="202.35" y="236.86" width="5.0" height="8.3" fill="#cccccc"/>
<rect x="208.40" y="236.86" width="5.0" height="8.3" fill="#cccccc"/>
<rect x="214.45" y="236.86" width="5.0" height="8.3" fill="#cccccc"/>
<rect x="220.50" y="236.86" width="5.0" height="8.3" fill="#cccccc"/>
<rect x="226.55" y="236.86" width="5.0" height="8.3" fill="#cccccc"/>
<rect x="232.60" y="236.86" width="5.0" height="8.3" fill="#cccccc"/>
<rect x="238.65" y="236.86" width="5.0" height="8.3" fill="#cccccc"/>
<rect x="244.70" y="236.86" width="5.0" height="8.3" fill="#cccccc"/>
<rect x="250.75" y="236.86" width="5.0" height="8.3" fill="#cccccc"/>
<rect x="256.80" y="236.86" width="5.0" height="8.3" fill="#cccccc"/>
<rect x="262.85" y="236.86" width="5.0" height="8.3" fill="#cccccc"/>
<rect x="268.90" y="236.86" width="5.0" height="8.3" fill="#cccccc"/>
<rect x="274.95" y="236.86" width="5.0" height="8.3" fill="#cccccc"/>
<rect x="281.00" y="236.86" width="5.0" height="8.3" fill="#cccccc"/>
<rect x="287.05" y="236.86" width="5.0" height="8.3" fill="#cccccc"/>
<rect x="293.10" y="236.86" width="5.0" height="8.3" fill="#48d1cc"/>
<rect x="299.15" y="236.86" width="5.0" height="8.3" fill="#cccccc"/>
<rect x="305.20" y="236.86" width="5.0" height="8.3" fill="#cccccc"/>
<rect x="311.25" y="236.86" width="5.0" height="8.3" fill="#cccccc"/>
<rect x="317.30" y="236.86" width="5.0" height="8.3" fill="#48d1cc"/>
<rect x="323.35" y="236.86" width="5.0" height="8.3" fill="#cccccc"/>
<rect x="329.40" y="236.86" width="5.0" height="8.3" fill="#cccccc"/>
<rect x="335.45" y="236.86" width="5.0" height="8.3" fill="#cccccc"/>
<rect x="341.50" y="236.86" width="5.0" height="8.3" fill="#cccccc"/>
<rect x="347.55" y="236.86" width="5.0" height="8.3" fill="#cccccc"/>
<rect x="353.60" y="236.86" width="5.0" height="8.3" fill="#cccccc"/>
<rect x="359.65" y="236.86" width="5.0" height="8.3" fill="#cccccc"/>
<rect x="365.70" y="236.86" width="5.0" height="8.3" fill="#cccccc"/>
<rect x="371.75" y="236.86" width="5.0" height="8.3" fill="#cccccc"/>
<rect x="377.80" y="236.86" width="5.0" height="8.3" fill="#cccccc"/>
<rect x="383.85" y="236.86" width="5.0" height="8.3" fill="#cccccc"/>
<rect x="389.90" y="236.86" width="5.0" height="8.3" fill="#cccccc"/>
<rect x="395.95" y="236.86" width="5.0" height="8.3" fill="#cccccc"/>
<rect x="402.00" y="236.86" width="5.0" height="8.3" fill="#cccccc"/>
<rect x="39.00" y="246.92" width="5.0" height="8.3" fill="#cccccc"/>
<rect x="45.05" y="246.92" width="5.0" height="8.3" fill="#cccccc"/>
<rect x="51.10" y="246.92" width="5.0" height="8.3" fill="#cccccc"/>
<rect x="57.15" y="246.92" width="5.0" height="8.3" fill="#cccccc"/>
<rect x="63.20" y="246.92" width="5.0" height="8.3" fill="#cccccc"/>
<rect x="69.25" y="246.92" width="5.0" height="8.3" fill="#cccccc"/>
<rect x="75.30" y="246.92" width="5.0" height="8.3" fill="#cccccc"/>
<rect x="81.35" y="246.92" width="5.0" height="8.3" fill="#cccccc"/>
<rect x="87.40" y="246.92" width="5.0" height="8.3" fill="#cccccc"/>
<rect x="93.45" y="246.92" width="5.0" height="8.3" fill="#00688b"/>
<rect x="99.50" y="246.92" width="5.0" height="8.3" fill="#cccccc"/>
<rect x="105.55" y="246.92" width="5.0" height="8.3" fill="#cccccc"/>
<rect x="111.60" y="246.92" width="5.0" height="8.3" fill="#cccccc"/>
<rect x="117.65" y="246.92" width="5.0" height="8.3" fill="#cccccc"/>
<rect x="123.70" y="246.92" width="5.0" height="8.3" fill="#cccccc"/>
<rect x="129.75" y="246.92" width="5.0" height="8.3" fill="#cccccc"/>
<rect x="135.80" y="246.92" width="5.0" height="8.3" fill="#cccccc"/>
<rect x="141.85" y="246.92" width="5.0" height="8.3" fill="#cccccc"/>
<rect x="147.90" y="246.92" width="5.0" height="8.3" fill="#cccccc"/>
<rect x="153.95" y="246.92" width="5.0" height="8.3" fill="#cccccc"/>
<rect x="160.00" y="246.92" width="5.0" height="8.3" fill="#cccccc"/>
<rect x="166.05" y="246.92" width="5.0" height="8.3" fill="#cccccc"/>
<rect x="172.10" y="246.92" width="5.0" height="8.3" fill="#cccccc"/>
<rect x="178.15" y="246.92" width="5.0" height="8.3" fill="#cccccc"/>
<rect x="184.20" y="246.92" width="5.0" height="8.3" fill="#cccccc"/>
<rect x="190.25" y="246.92" width="5.0" height="8.3" fill="#cccccc"/>
<rect x="196.30" y="246.92" width="5.0" height="8.3" fill="#cccccc"/>
<rect x="202.35" y="246.92" width="5.0" height="8.3" fill="#cccccc"/>
<rect x="208.40" y="246.92" width="5.0" height="8.3" fill="#cccccc"/>
<rect x="214.45" y="246.92" width="5.0" height="8.3" fill="#cccccc"/>
<rect x="220.50" y="246.92" width="5.0" height="8.3" fill="#cccccc"/>
<rect x="226.55" y="246.92" width="5.0" height="8.3" fill="#cccccc"/>
<rect x="232.60" y="246.92" width="5.0" height="8.3" fill="#cccccc"/>
<rect x="238.65" y="246.92" width="5.0" height="8.3" fill="#cccccc"/>
<rect x="244.70" y="246.92" width="5.0" height="8.3" fill="#cccccc"/>
<rect x="250.75" y="246.92" width="5.0" height="8.3" fill="#ff0000"/>
<rect x="256.80" y="246.92" width="5.0" height="8.3" fill="#cccccc"/>
<rect x="262.85" y="246.92" width="5.0" height="8.3" fill="#cccccc"/>
<rect x="268.90" y="246.92" width="5.0" height="8.3" fill="#cccccc"/>
<rect x="274.95" y="246.92" width="5.0" height="8.3" fill="#cccccc"/>
<rect x="281.00" y="246.92" width="5.0" height="8.3" fill="#cccccc"/>
<rect x="287.05" y="246.92" width="5.0" height="8.3" fill="#cccccc"/>
<rect x="293.10" y="246.92" width="5.0" height="8.3" fill="#00688b"/>
<rect x="299.15" y="246.92" width="5.0" height="8.3" fill="#cccccc"/>
<rect x="305.20" y="246.92" width="5.0" height="8.3" fill="#cccccc"/>
<rect x="311.25" y="246.92" width="5.0" height="8.3" fill="#00688b"/>
<rect x="317.30" y="246.92" width="5.0" height="8.3" fill="#cccccc"/>
<rect x="323.35" y="246.92" width="5.0" height="8.3" fill="#cccccc"/>
<rect x="329.40" y="246.92" width="5.0" height="8.3" fill="#cccccc"/>
<rect x="335.45" y="246.92" width="5.0" height="8.3" fill="#cccccc"/>
<rect x="341.50" y="246.92" width="5.0" height="8.3" fill="#cccccc"/>
<rect x="347.55" y="246.92" width="5.0" height="8.3" fill="#cccccc"/>
<rect x="353.60" y="246.92" width="5.0" height="8.3" fill="#cccccc"/>
<rect x="359.65" y="246.92" width="5.0" height="8.3" fill="#cccccc"/>
<rect x="365.70" y="246.92" width="5.0" height="8.3" fill="#cccccc"/>
<rect x="371.75" y="246.92" width="5.0" height="8.3" fill="#cccccc"/>
<rect x="377.80" y="246.92" width="5.0" height="8.3" fill="#cccccc"/>
<rect x="383.85" y="246.92" width="5.0" height="8.3" fill="#cccccc"/>
<rect x="389.90" y="246.92" width="5.0" height="8.3" fill="#cccccc"/>
<rect x="395.95" y="246.92" width="5.0" height="8.3" fill="#cccccc"/>
<rect x="402.00" y="246.92" width="5.0" height="8.3" fill="#cccccc"/>
<rect x="39.00" y="256.98" width="5.0" height="8.3" fill="#cccccc"/>
<rect x="45.05" y="256.98" width="5.0" height="8.3" fill="#cccccc"/>
<rect x="51.10" y="256.98" width="5.0" height="8.3" fill="#cccccc"/>
<rect x="57.15" y="256.98" width="5.0" height="8.3" fill="#cccccc"/>
<rect x="63.20" y="256.98" width="5.0" height="8.3" fill="#cccccc"/>
<rect x="69.25" y="256.98" width="5.0" height="8.3" fill="#cccccc"/>
<rect x="75.30" y="256.98" width="5.0" height="8.3" fill="#cccccc"/>
<rect x="81.35" y="256.98" width="5.0" height="8.3" fill="#cccccc"/>
<rect x="87.40" y="256.98" width="5.0" height="8.3" fill="#cccccc"/>
<rect x="93.45" y="256.98" width="5.0" height="8.3" fill="#00688b"/>
<rect x="99.50" y="256.98" width="5.0" height="8.3" fill="#cccccc"/>
<rect x="105.55" y="256.98" width="5.0" height="8.3" fill="#cccccc"/>
<rect x="111.60" y="256.98" width="5.0" height="8.3" fill="#cccccc"/>
<rect x="117.65" y="256.98" width="5.0" height="8.3" fill="#cccccc"/>
<rect x="123.70" y="256.98" width="5.0" height="8.3" fill="#cccccc"/>
<rect x="129.75" y="256.98" width="5.0" height="8.3" fill="#cccccc"/>
<rect x="135.80" y="256.98" width="5.0" height="8.3" fill="#cccccc"/>
<rect x="141.85" y="256.98" width="5.0" height="8.3" fill="#cccccc"/>
<rect x="147.90" y="256.98" width="5.0" height="8.3" fill="#cccccc"/>
<rect x="153.95" y="256.98" width="5.0" height="8.3" fill="#cccccc"/>
<rect x="160.00" y="256.98" width="5.0" height="8.3" fill="#cccccc"/>
<rect x="166.05" y="256.98" width="5.0" height="8.3" fill="#cccccc"/>
<rect x="172.10" y="256.98" width="5.0" height="8.3" fill="#cccccc"/>
<rect x="178.15" y="256.98" width="5.0" height="8.3" fill="#cccccc"/>
<rect x="184.20" y="256.98" width="5.0" height="8.3" fill="#cccccc"/>
<rect x="190.25" y="256.98" width="5.0" height="8.3" fill="#cccccc"/>
<rect x="196.30" y="256.98" width="5.0" height="8.3" fill="#cccccc"/>
<rect x="202.35" y="256.98" width="5.0" height="8.3" fill="#cccccc"/>
<rect x="208.40" y="256.98" width="5.0" height="8.3" fill="#cccccc"/>
<rect x="214.45" y="256.98" width="5.0" height="8.3" fill="#cccccc"/>
<rect x="220.50" y="256.98" width="5.0" height="8.3" fill="#cccccc"/>
<rect x="226.55" y="256.98" width="5.0" height="8.3" fill="#cccccc"/>
<rect x="232.60" y="256.98" width="5.0" height="8.3" fill="#a020f0"/>
<rect x="238.65" y="256.98" width="5.0" height="8.3" fill="#cccccc"/>
<rect x="244.70" y="256.98" width="5.0" height="8.3" fill="#cccccc"/>
<rect x="250.75" y="256.98" width="5.0" height="8.3" fill="#cccccc"/>
<rect x="256.80" y="256.98" width="5.0" height="8.3" fill="#cccccc"/>
<rect x="262.85" y="256.98" width="5.0" height="8.3" fill="#cccccc"/>
<rect x="268.90" y="256.98" width="5.0" height="8.3" fill="#262120"/>
<rect x="274.95" y="256.98" width="5.0" height="8.3" fill="#cccccc"/>
<rect x="281.00" y="256.98" width="5.0" height="8.3" fill="#cccccc"/>
<rect x="287.05" y="256.98" width="5.0" height="8.3" fill="#cccccc"/>
<rect x="293.10" y="256.98" width="5.0" height="8.3" fill="#cccccc"/>
<rect x="299.15" y="256.98" width="5.0" height="8.3" fill="#cccccc"/>
<rect x="305.20" y="256.98" width="5.0" height="8.3" fill="#cccccc"/>
<rect x="311.25" y="256.98" width="5.0" height="8.3" fill="#cccccc"/>
<rect x="317.30" y="256.98" width="5.0" height="8.3" fill="#cccccc"/>
<rect x="323.35" y="256.98" width="5.0" height="8.3" fill="#cccccc"/>
<rect x="329.40" y="256.98" width="5.0" height="8.3" fill="#cccccc"/>
<rect x="335.45" y="256.98" width="5.0" height="8.3" fill="#ff0000"/>
<rect x="341.50" y="256.98" width="5.0" height="8.3" fill="#cccccc"/>
<rect x="347.55" y="256.98" width="5.0" height="8.3" fill="#cccccc"/>
<rect x="353.60" y="256.98" width="5.0" height="8.3" fill="#cccccc"/>
<rect x="359.65" y="256.98" width="5.0" height="8.3" fill="#cccccc"/>
<rect x="365.70" y="256.98" width="5.0" height="8.3" fill="#cccccc"/>
<rect x="371.75" y="256.98" width="5.0" height="8.3" fill="#cccccc"/>
<rect x="377.80" y="256.98" width="5.0" height="8.3" fill="#cccccc"/>
<rect x="383.85" y="256.98" width="5.0" height="8.3" fill="#cccccc"/>
<rect x="389.90" y="256.98" width="5.0" height="8.3" fill="#cccccc"/>
<rect x="395.95" y="256.98" width="5.0" height="8.3" fill="#cccccc"/>
<rect x="402.00" y="256.98" width="5.0" height="8.3" fill="#cccccc"/>
<rect x="39.00" y="267.04" width="5.0" height="8.3" fill="#cccccc"/>
<rect x="45.05" y="267.04" width="5.0" height="8.3" fill="#cccccc"/>
<rect x="51.10" y="267.04" width="5.0" height="8.3" fill="#cccccc"/>
<rect x="57.15" y="267.04" width="5.0" height="8.3" fill="#cccccc"/>
<rect x="63.20" y="267.04" width="5.0" height="8.3" fill="#cccccc"/>
<rect x="69.25" y="267.04" width="5.0" height="8.3" fill="#cccccc"/>
<rect x="75.30" y="267.04" width="5.0" height="8.3" fill="#cccccc"/>
<rect x="81.35" y="267.04" width="5.0" height="8.3" fill="#cccccc"/>
<rect x="87.40" y="267.04" width="5.0" height="8.3" fill="#cccccc"/>
<rect x="93.45" y="267.04" width="5.0" height="8.3" fill="#cccccc"/>
<rect x="99.50" y="267.04" width="5.0" height="8.3" fill="#cccccc"/>
<rect x="105.55" y="267.04" width="5.0" height="8.3" fill="#cccccc"/>
<rect x="111.60" y="267.04" width="5.0" height="8.3" fill="#cccccc"/>
<rect x="117.65" y="267.04" width="5.0" height="8.3" fill="#cccccc"/>
<rect x="123.70" y="267.04" width="5.0" height="8.3" fill="#00688b"/>
<rect x="129.75" y="267.04" width="5.0" height="8.3" fill="#cccccc"/>
<rect x="135.80" y="267.04" width="5.0" height="8.3" fill="#262120"/>
<rect x="141.85" y="267.04" width="5.0" height="8.3" fill="#cccccc"/>
<rect x="147.90" y="267.04" width="5.0" height="8.3" fill="#cccccc"/>
<rect x="153.95" y="267.04" width="5.0" height="8.3" fill="#cccccc"/>
<rect x="160.00" y="267.04" width="5.0" height="8.3" fill="#cccccc"/>
<rect x="166.05" y="267.04" width="5.0" height="8.3" fill="#cccccc"/>
<rect x="172.10" y="267.04" width="5.0" height="8.3" fill="#cccccc"/>
<rect x="178.15" y="267.04" width="5.0" height="8.3" fill="#cccccc"/>
<rect x="184.20" y="267.04" width="5.0" height="8.3" fill="#cccccc"/>
<rect x="190.25" y="267.04" width="5.0" height="8.3" fill="#cccccc"/>
<rect x="196.30" y="267.04" width="5.0" height="8.3" fill="#cccccc"/>
<rect x="202.35" y="267.04" width="5.0" height="8.3" fill="#cccccc"/>
<rect x="208.40" y="267.04" width="5.0" height="8.3" fill="#cccccc"/>
<rect x="214.45" y="267.04" width="5.0" height="8.3" fill="#cccccc"/>
<rect x="220.50" y="267.04" width="5.0" height="8.3" fill="#cccccc"/>
<rect x="226.55" y="267.04" width="5.0" height="8.3" fill="#cccccc"/>
<rect x="232.60" y="267.04" width="5.0" height="8.3" fill="#cccccc"/>
<rect x="238.65" y="267.04" width="5.0" height="8.3" fill="#cccccc"/>
<rect x="244.70" y="267.04" width="5.0" height="8.3" fill="#cccccc"/>
<rect x="250.75" y="267.04" width="5.0" height="8.3" fill="#cccccc"/>
<rect x="256.80" y="267.04" width="5.0" height="8.3" fill="#cccccc"/>
<rect x="262.85" y="267.04" width="5.0" height="8.3" fill="#cccccc"/>
<rect x="268.90" y="267.04" width="5.0" height="8.3" fill="#cccccc"/>
<rect x="274.95" y="267.04" width="5.0" height="8.3" fill="#cccccc"/>
<rect x="281.00" y="267.04" width="5.0" height="8.3" fill="#cccccc"/>
<rect x="287.05" y="267.04" width="5.0" height="8.3" fill="#cccccc"/>
<rect x="293.10" y="267.04" width="5.0" height="8.3" fill="#00688b"/>
<rect x="299.15" y="267.04" width="5.0" height="8.3" fill="#cccccc"/>
<rect x="305.20" y="267.04" width="5.0" height="8.3" fill="#cccccc"/>
<rect x="311.25" y="267.04" width="5.0" height="8.3" fill="#cccccc"/>
<rect x="317.30" y="267.04" width="5.0" height="8.3" fill="#cccccc"/>
<rect x="323.35" y="267.04" width="5.0" height="8.3" fill="#cccccc"/>
<rect x="329.40" y="267.04" width="5.0" height="8.3" fill="#cccccc"/>
<rect x="335.45" y="267.04" width="5.0" height="8.3" fill="#cccccc"/>
<rect x="341.50" y="267.04" width="5.0" height="8.3" fill="#cccccc"/>
<rect x="347.55" y="267.04" width="5.0" height="8.3" fill="#cccccc"/>
<rect x="353.60" y="267.04" width="5.0" height="8.3" fill="#00688b"/>
<rect x="359.65" y="267.04" width="5.0" height="8.3" fill="#cccccc"/>
<rect x="365.70" y="267.04" width="5.0" height="8.3" fill="#cccccc"/>
<rect x="371.75" y="267.04" width="5.0" height="8.3" fill="#cccccc"/>
<rect x="377.80" y="267.04" width="5.0" height="8.3" fill="#cccccc"/>
<rect x="383.85" y="267.04" width="5.0" height="8.3" fill="#cccccc"/>
<rect x="389.90" y="267.04" width="5.0" height="8.3" fill="#cccccc"/>
<rect x="395.95" y="267.04" width="5.0" height="8.3" fill="#cccccc"/>
<rect x="402.00" y="267.04" width="5.0" height="8.3" fill="#cccccc"/>
<rect x="39.00" y="277.10" width="5.0" height="8.3" fill="#cccccc"/>
<rect x="45.05" y="277.10" width="5.0" height="8.3" fill="#cccccc"/>
<rect x="51.10" y="277.10" width="5.0" height="8.3" fill="#cccccc"/>
<rect x="57.15" y="277.10" width="5.0" height="8.3" fill="#cccccc"/>
<rect x="63.20" y="277.10" width="5.0" height="8.3" fill="#cccccc"/>
<rect x="69.25" y="277.10" width="5.0" height="8.3" fill="#cccccc"/>
<rect x="75.30" y="277.10" width="5.0" height="8.3" fill="#cccccc"/>
<rect x="81.35" y="277.10" width="5.0" height="8.3" fill="#cccccc"/>
<rect x="87.40" y="277.10" width="5.0" height="8.3" fill="#cccccc"/>
<rect x="93.45" y="277.10" width="5.0" height="8.3" fill="#cccccc"/>
<rect x="99.50" y="277.10" width="5.0" height="8.3" fill="#cccccc"/>
<rect x="105.55" y="277.10" width="5.0" height="8.3" fill="#cccccc"/>
<rect x="111.60" y="277.10" width="5.0" height="8.3" fill="#cccccc"/>
<rect x="117.65" y="277.10" width="5.0" height="8.3" fill="#cccccc"/>
<rect x="123.70" y="277.10" width="5.0" height="8.3" fill="#cccccc"/>
<rect x="129.75" y="277.10" width="5.0" height="8.3" fill="#00688b"/>
<rect x="135.80" y="277.10" width="5.0" height="8.3" fill="#cccccc"/>
<rect x="141.85" y="277.10" width="5.0" height="8.3" fill="#00688b"/>
<rect x="147.90" y="277.10" width="5.0" height="8.3" fill="#00688b"/>
<rect x="153.95" y="277.10" width="5.0" height="8.3" fill="#cccccc"/>
<rect x="160.00" y="277.10" width="5.0" height="8.3" fill="#cccccc"/>
<rect x="166.05" y="277.10" width="5.0" height="8.3" fill="#cccccc"/>
<rect x="172.10" y="277.10" width="5.0" height="8.3" fill="#cccccc"/>
<rect x="178.15" y="277.10" width="5.0" height="8.3" fill="#cccccc"/>
<rect x="184.20" y="277.10" width="5.0" height="8.3" fill="#cccccc"/>
<rect x="190.25" y="277.10" width="5.0" height="8.3" fill="#cccccc"/>
<rect x="196.30" y="277.10" width="5.0" height="8.3" fill="#cccccc"/>
<rect x="202.35" y="277.10" width="5.0" height="8.3" fill="#cccccc"/>
<rect x="208.40" y="277.10" width="5.0" height="8.3" fill="#cccccc"/>
<rect x="214.45" y="277.10" width="5.0" height="8.3" fill="#cccccc"/>
<rect x="220.50" y="277.10" width="5.0" height="8.3" fill="#cccccc"/>
<rect x="226.55" y="277.10" width="5.0" height="8.3" fill="#cccccc"/>
<rect x="232.60" y="277.10" width="5.0" height="8.3" fill="#cccccc"/>
<rect x="238.65" y="277.10" width="5.0" height="8.3" fill="#cccccc"/>
<rect x="244.70" y="277.10" width="5.0" height="8.3" fill="#cccccc"/>
<rect x="250.75" y="277.10" width="5.0" height="8.3" fill="#cccccc"/>
<rect x="256.80" y="277.10" width="5.0" height="8.3" fill="#cccccc"/>
<rect x="262.85" y="277.10" width="5.0" height="8.3" fill="#cccccc"/>
<rect x="268.90" y="277.10" width="5.0" height="8.3" fill="#cccccc"/>
<rect x="274.95" y="277.10" width="5.0" height="8.3" fill="#cccccc"/>
<rect x="281.00" y="277.10" width="5.0" height="8.3" fill="#cccccc"/>
<rect x="287.05" y="277.10" width="5.0" height="8.3" fill="#cccccc"/>
<rect x="293.10" y="277.10" width="5.0" height="8.3" fill="#00688b"/>
<rect x="299.15" y="277.10" width="5.0" height="8.3" fill="#cccccc"/>
<rect x="305.20" y="277.10" width="5.0" height="8.3" fill="#cccccc"/>
<rect x="311.25" y="277.10" width="5.0" height="8.3" fill="#cccccc"/>
<rect x="317.30" y="277.10" width="5.0" height="8.3" fill="#cccccc"/>
<rect x="323.35" y="277.10" width="5.0" height="8.3" fill="#cccccc"/>
<rect x="329.40" y="277.10" width="5.0" height="8.3" fill="#cccccc"/>
<rect x="335.45" y="277.10" width="5.0" height="8.3" fill="#cccccc"/>
<rect x="341.50" y="277.10" width="5.0" height="8.3" fill="#cccccc"/>
<rect x="347.55" y="277.10" width="5.0" height="8.3" fill="#cccccc"/>
<rect x="353.60" y="277.10" width="5.0" height="8.3" fill="#cccccc"/>
<rect x="359.65" y="277.10" width="5.0" height="8.3" fill="#cccccc"/>
<rect x="365.70" y="277.10" width="5.0" height="8.3" fill="#cccccc"/>
<rect x="371.75" y="277.10" width="5.0" height="8.3" fill="#cccccc"/>
<rect x="377.80" y="277.10" width="5.0" height="8.3" fill="#cccccc"/>
<rect x="383.85" y="277.10" width="5.0" height="8.3" fill="#cccccc"/>
<rect x="389.90" y="277.10" width="5.0" height="8.3" fill="#cccccc"/>
<rect x="395.95" y="277.10" width="5.0" height="8.3" fill="#cccccc"/>
<rect x="402.00" y="277.10" width="5.0" height="8.3" fill="#cccccc"/>
<rect x="39.00" y="287.16" width="5.0" height="8.3" fill="#cccccc"/>
<rect x="45.05" y="287.16" width="5.0" height="8.3" fill="#cccccc"/>
<rect x="51.10" y="287.16" width="5.0" height="8.3" fill="#cccccc"/>
<rect x="57.15" y="287.16" width="5.0" height="8.3" fill="#cccccc"/>
<rect x="63.20" y="287.16" width="5.0" height="8.3" fill="#cccccc"/>
<rect x="69.25" y="287.16" width="5.0" height="8.3" fill="#cccccc"/>
<rect x="75.30" y="287.16" width="5.0" height="8.3" fill="#00688b"/>
<rect x="81.35" y="287.16" width="5.0" height="8.3" fill="#cccccc"/>
<rect x="87.40" y="287.16" width="5.0" height="8.3" fill="#cccccc"/>
<rect x="93.45" y="287.16" width="5.0" height="8.3" fill="#cccccc"/>
<rect x="99.50" y="287.16" width="5.0" height="8.3" fill="#cccccc"/>
<rect x="105.55" y="287.16" width="5.0" height="8.3" fill="#cccccc"/>
<rect x="111.60" y="287.16" width="5.0" height="8.3" fill="#cccccc"/>
<rect x="117.65" y="287.16" width="5.0" height="8.3" fill="#cccccc"/>
<rect x="123.70" y="287.16" width="5.0" height="8.3" fill="#cccccc"/>
<rect x="129.75" y="287.16" width="5.0" height="8.3" fill="#cccccc"/>
<rect x="135.80" y="287.16" width="5.0" height="8.3" fill="#cccccc"/>
<rect x="141.85" y="287.16" width="5.0" height="8.3" fill="#262120"/>
<rect x="147.90" y="287.16" width="5.0" height="8.3" fill="#cccccc"/>
<rect x="153.95" y="287.16" width="5.0" height="8.3" fill="#cccccc"/>
<rect x="160.00" y="287.16" width="5.0" height="8.3" fill="#cccccc"/>
<rect x="166.05" y="287.16" width="5.0" height="8.3" fill="#cccccc"/>
<rect x="172.10" y="287.16" width="5.0" height="8.3" fill="#cccccc"/>
<rect x="178.15" y="287.16" width="5.0" height="8.3" fill="#cccccc"/>
<rect x="184.20" y="287.16" width="5.0" height="8.3" fill="#cccccc"/>
<rect x="190.25" y="287.16" width="5.0" height="8.3" fill="#cccccc"/>
<rect x="196.30" y="287.16" width="5.0" height="8.3" fill="#cccccc"/>
<rect x="202.35" y="287.16" width="5.0" height="8.3" fill="#cccccc"/>
<rect x="208.40" y="287.16" width="5.0" height="8.3" fill="#cccccc"/>
<rect x="214.45" y="287.16" width="5.0" height="8.3" fill="#cccccc"/>
<rect x="220.50" y="287.16" width="5.0" height="8.3" fill="#cccccc"/>
<rect x="226.55" y="287.16" width="5.0" height="8.3" fill="#cccccc"/>
<rect x="232.60" y="287.16" width="5.0" height="8.3" fill="#48d1cc"/>
<rect x="238.65" y="287.16" width="5.0" height="8.3" fill="#cccccc"/>
<rect x="244.70" y="287.16" width="5.0" height="8.3" fill="#cccccc"/>
<rect x="250.75" y="287.16" width="5.0" height="8.3" fill="#cccccc"/>
<rect x="256.80" y="287.16" width="5.0" height="8.3" fill="#cccccc"/>
<rect x="262.85" y="287.16" width="5.0" height="8.3" fill="#cccccc"/>
<rect x="268.90" y="287.16" width="5.0" height="8.3" fill="#cccccc"/>
<rect x="274.95" y="287.16" width="5.0" height="8.3" fill="#cccccc"/>
<rect x="281.00" y="287.16" width="5.0" height="8.3" fill="#cccccc"/>
<rect x="287.05" y="287.16" width="5.0" height="8.3" fill="#cccccc"/>
<rect x="293.10" y="287.16" width="5.0" height="8.3" fill="#cccccc"/>
<rect x="299.15" y="287.16" width="5.0" height="8.3" fill="#cccccc"/>
<rect x="305.20" y="287.16" width="5.0" height="8.3" fill="#cccccc"/>
<rect x="311.25" y="287.16" width="5.0" height="8.3" fill="#cccccc"/>
<rect x="317.30" y="287.16" width="5.0" height="8.3" fill="#cccccc"/>
<rect x="323.35" y="287.16" width="5.0" height="8.3" fill="#00688b"/>
<rect x="329.40" y="287.16" width="5.0" height="8.3" fill="#cccccc"/>
<rect x="335.45" y="287.16" width="5.0" height="8.3" fill="#cccccc"/>
<rect x="341.50" y="287.16" width="5.0" height="8.3" fill="#cccccc"/>
<rect x="347.55" y="287.16" width="5.0" height="8.3" fill="#cccccc"/>
<rect x="353.60" y="287.16" width="5.0" height="8.3" fill="#cccccc"/>
<rect x="359.65" y="287.16" width="5.0" height="8.3" fill="#cccccc"/>
<rect x="365.70" y="287.16" width="5.0" height="8.3" fill="#cccccc"/>
<rect x="371.75" y="287.16" width="5.0" height="8.3" fill="#cccccc"/>
<rect x="377.80" y="287.16" width="5.0" height="8.3" fill="#cccccc"/>
<rect x="383.85" y="287.16" width="5.0" height="8.3" fill="#cccccc"/>
<rect x="389.90" y="287.16" width="5.0" height="8.3" fill="#cccccc"/>
<rect x="395.95" y="287.16" width="5.0" height="8.3" fill="#cccccc"/>
<rect x="402.00" y="287.16" width="5.0" height="8.3" fill="#cccccc"/>
<rect x="39.00" y="297.22" width="5.0" height="8.3" fill="#cccccc"/>
<rect x="45.05" y="297.22" width="5.0" height="8.3" fill="#cccccc"/>
<rect x="51.10" y="297.22" width="5.0" height="8.3" fill="#cccccc"/>
<rect x="57.15" y="297.22" width="5.0" height="8.3" fill="#cccccc"/>
<rect x="63.20" y="297.22" width="5.0" height="8.3" fill="#cccccc"/>
<rect x="69.25" y="297.22" width="5.0" height="8.3" fill="#cccccc"/>
<rect x="75.30" y="297.22" width="5.0" height="8.3" fill="#cccccc"/>
<rect x="81.35" y="297.22" width="5.0" height="8.3" fill="#00688b"/>
<rect x="87.40" y="297.22" width="5.0" height="8.3" fill="#cccccc"/>
<rect x="93.45" y="297.22" width="5.0" height="8.3" fill="#cccccc"/>
<rect x="99.50" y="297.22" width="5.0" height="8.3" fill="#cccccc"/>
<rect x="105.55" y="297.22" width="5.0" height="8.3" fill="#cccccc"/>
<rect x="111.60" y="297.22" width="5.0" height="8.3" fill="#cccccc"/>
<rect x="117.65" y="297.22" width="5.0" height="8.3" fill="#cccccc"/>
<rect x="123.70" y="297.22" width="5.0" height="8.3" fill="#cccccc"/>
<rect x="129.75" y="297.22" width="5.0" height="8.3" fill="#cccccc"/>
<rect x="135.80" y="297.22" width="5.0" height="8.3" fill="#cccccc"/>
<rect x="141.85" y="297.22" width="5.0" height="8.3" fill="#cccccc"/>
<rect x="147.90" y="297.22" width="5.0" height="8.3" fill="#cccccc"/>
<rect x="153.95" y="297.22" width="5.0" height="8.3" fill="#cccccc"/>
<rect x="160.00" y="297.22" width="5.0" height="8.3" fill="#cccccc"/>
<rect x="166.05" y="297.22" width="5.0" height="8.3" fill="#cccccc"/>
<rect x="172.10" y="297.22" width="5.0" height="8.3" fill="#cccccc"/>
<rect x="178.15" y="297.22" width="5.0" height="8.3" fill="#cccccc"/>
<rect x="184.20" y="297.22" width="5.0" height="8.3" fill="#00688b"/>
<rect x="190.25" y="297.22" width="5.0" height="8.3" fill="#cccccc"/>
<rect x="196.30" y="297.22" width="5.0" height="8.3" fill="#cccccc"/>
<rect x="202.35" y="297.22" width="5.0" height="8.3" fill="#cccccc"/>
<rect x="208.40" y="297.22" width="5.0" height="8.3" fill="#ff0000"/>
<rect x="214.45" y="297.22" width="5.0" height="8.3" fill="#cccccc"/>
<rect x="220.50" y="297.22" width="5.0" height="8.3" fill="#cccccc"/>
<rect x="226.55" y="297.22" width="5.0" height="8.3" fill="#cccccc"/>
<rect x="232.60" y="297.22" width="5.0" height="8.3" fill="#cccccc"/>
<rect x="238.65" y="297.22" width="5.0" height="8.3" fill="#cccccc"/>
<rect x="244.70" y="297.22" width="5.0" height="8.3" fill="#cccccc"/>
<rect x="250.75" y="297.22" width="5.0" height="8.3" fill="#cccccc"/>
<rect x="256.80" y="297.22" width="5.0" height="8.3" fill="#cccccc"/>
<rect x="262.85" y="297.22" width="5.0" height="8.3" fill="#cccccc"/>
<rect x="268.90" y="297.22" width="5.0" height="8.3" fill="#cccccc"/>
<rect x="274.95" y="297.22" width="5.0" height="8.3" fill="#cccccc"/>
<rect x="281.00" y="297.22" width="5.0" height="8.3" fill="#cccccc"/>
<rect x="287.05" y="297.22" width="5.0" height="8.3" fill="#cccccc"/>
<rect x="293.10" y="297.22" width="5.0" height="8.3" fill="#cccccc"/>
<rect x="299.15" y="297.22" width="5.0" height="8.3" fill="#00688b"/>
<rect x="305.20" y="297.22" width="5.0" height="8.3" fill="#cccccc"/>
<rect x="311.25" y="297.22" width="5.0" height="8.3" fill="#cccccc"/>
<rect x="317.30" y="297.22" width="5.0" height="8.3" fill="#cccccc"/>
<rect x="323.35" y="297.22" width="5.0" height="8.3" fill="#cccccc"/>
<rect x="329.40" y="297.22" width="5.0" height="8.3" fill="#cccccc"/>
<rect x="335.45" y="297.22" width="5.0" height="8.3" fill="#cccccc"/>
<rect x="341.50" y="297.22" width="5.0" height="8.3" fill="#cccccc"/>
<rect x="347.55" y="297.22" width="5.0" height="8.3" fill="#cccccc"/>
<rect x="353.60" y="297.22" width="5.0" height="8.3" fill="#cccccc"/>
<rect x="359.65" y="297.22" width="5.0" height="8.3" fill="#cccccc"/>
<rect x="365.70" y="297.22" width="5.0" height="8.3" fill="#cccccc"/>
<rect x="371.75" y="297.22" width="5.0" height="8.3" fill="#cccccc"/>
<rect x="377.80" y="297.22" width="5.0" height="8.3" fill="#cccccc"/>
<rect x="383.85" y="297.22" width="5.0" height="8.3" fill="#cccccc"/>
<rect x="389.90" y="297.22" width="5.0" height="8.3" fill="#cccccc"/>
<rect x="395.95" y="297.22" width="5.0" height="8.3" fill="#cccccc"/>
<rect x="402.00" y="297.22" width="5.0" height="8.3" fill="#cccccc"/>
<rect x="39.00" y="307.28" width="5.0" height="8.3" fill="#cccccc"/>
<rect x="45.05" y="307.28" width="5.0" height="8.3" fill="#cccccc"/>
<rect x="51.10" y="307.28" width="5.0" height="8.3" fill="#cccccc"/>
<rect x="57.15" y="307.28" width="5.0" height="8.3" fill="#cccccc"/>
<rect x="63.20" y="307.28" width="5.0" height="8.3" fill="#cccccc"/>
<rect x="69.25" y="307.28" width="5.0" height="8.3" fill="#cccccc"/>
<rect x="75.30" y="307.28" width="5.0" height="8.3" fill="#cccccc"/>
<rect x="81.35" y="307.28" width="5.0" height="8.3" fill="#cccccc"/>
<rect x="87.40" y="307.28" width="5.0" height="8.3" fill="#cccccc"/>
<rect x="93.45" y="307.28" width="5.0" height="8.3" fill="#cccccc"/>
<rect x="99.50" y="307.28" width="5.0" height="8.3" fill="#cccccc"/>
<rect x="105.55" y="307.28" width="5.0" height="8.3" fill="#cccccc"/>
<rect x="111.60" y="307.28" width="5.0" height="8.3" fill="#cccccc"/>
<rect x="117.65" y="307.28" width="5.0" height="8.3" fill="#a020f0"/>
<rect x="123.70" y="307.28" width="5.0" height="8.3" fill="#cccccc"/>
<rect x="129.75" y="307.28" width="5.0" height="8.3" fill="#cccccc"/>
<rect x="135.80" y="307.28" width="5.0" height="8.3" fill="#cccccc"/>
<rect x="141.85" y="307.28" width="5.0" height="8.3" fill="#cccccc"/>
<rect x="147.90" y="307.28" width="5.0" height="8.3" fill="#cccccc"/>
<rect x="153.95" y="307.28" width="5.0" height="8.3" fill="#00688b"/>
<rect x="160.00" y="307.28" width="5.0" height="8.3" fill="#cccccc"/>
<rect x="166.05" y="307.28" width="5.0" height="8.3" fill="#cccccc"/>
<rect x="172.10" y="307.28" width="5.0" height="8.3" fill="#cccccc"/>
<rect x="178.15" y="307.28" width="5.0" height="8.3" fill="#cccccc"/>
<rect x="184.20" y="307.28" width="5.0" height="8.3" fill="#cccccc"/>
<rect x="190.25" y="307.28" width="5.0" height="8.3" fill="#cccccc"/>
<rect x="196.30" y="307.28" width="5.0" height="8.3" fill="#cccccc"/>
<rect x="202.35" y="307.28" width="5.0" height="8.3" fill="#cccccc"/>
<rect x="208.40" y="307.28" width="5.0" height="8.3" fill="#cccccc"/>
<rect x="214.45" y="307.28" width="5.0" height="8.3" fill="#cccccc"/>
<rect x="220.50" y="307.28" width="5.0" height="8.3" fill="#cccccc"/>
<rect x="226.55" y="307.28" width="5.0" height="8.3" fill="#cccccc"/>
<rect x="232.60" y="307.28" width="5.0" height="8.3" fill="#00688b"/>
<rect x="238.65" y="307.28" width="5.0" height="8.3" fill="#cccccc"/>
<rect x="244.70" y="307.28" width="5.0" height="8.3" fill="#cccccc"/>
<rect x="250.75" y="307.28" width="5.0" height="8.3" fill="#cccccc"/>
<rect x="256.80" y="307.28" width="5.0" height="8.3" fill="#cccccc"/>
<rect x="262.85" y="307.28" width="5.0" height="8.3" fill="#cccccc"/>
<rect x="268.90" y="307.28" width="5.0" height="8.3" fill="#cccccc"/>
<rect x="274.95" y="307.28" width="5.0" height="8.3" fill="#cccccc"/>
<rect x="281.00" y="307.28" width="5.0" height="8.3" fill="#a020f0"/>
<rect x="287.05" y="307.28" width="5.0" height="8.3" fill="#cccccc"/>
<rect x="293.10" y="307.28" width="5.0" height="8.3" fill="#cccccc"/>
<rect x="299.15" y="307.28" width="5.0" height="8.3" fill="#cccccc"/>
<rect x="305.20" y="307.28" width="5.0" height="8.3" fill="#cccccc"/>
<rect x="311.25" y="307.28" width="5.0" height="8.3" fill="#cccccc"/>
<rect x="317.30" y="307.28" width="5.0" height="8.3" fill="#cccccc"/>
<rect x="323.35" y="307.28" width="5.0" height="8.3" fill="#cccccc"/>
<rect x="329.40" y="307.28" width="5.0" height="8.3" fill="#cccccc"/>
<rect x="335.45" y="307.28" width="5.0" height="8.3" fill="#cccccc"/>
<rect x="341.50" y="307.28" width="5.0" height="8.3" fill="#cccccc"/>
<rect x="347.55" y="307.28" width="5.0" height="8.3" fill="#cccccc"/>
<rect x="353.60" y="307.28" width="5.0" height="8.3" fill="#cccccc"/>
<rect x="359.65" y="307.28" width="5.0" height="8.3" fill="#cccccc"/>
<rect x="365.70" y="307.28" width="5.0" height="8.3" fill="#cccccc"/>
<rect x="371.75" y="307.28" width="5.0" height="8.3" fill="#cccccc"/>
<rect x="377.80" y="307.28" width="5.0" height="8.3" fill="#cccccc"/>
<rect x="383.85" y="307.28" width="5.0" height="8.3" fill="#cccccc"/>
<rect x="389.90" y="307.28" width="5.0" height="8.3" fill="#cccccc"/>
<rect x="395.95" y="307.28" width="5.0" height="8.3" fill="#cccccc"/>
<rect x="402.00" y="307.28" width="5.0" height="8.3" fill="#cccccc"/>
<rect x="39.00" y="317.34" width="5.0" height="8.3" fill="#cccccc"/>
<rect x="45.05" y="317.34" width="5.0" height="8.3" fill="#cccccc"/>
<rect x="51.10" y="317.34" width="5.0" height="8.3" fill="#cccccc"/>
<rect x="57.15" y="317.34" width="5.0" height="8.3" fill="#cccccc"/>
<rect x="63.20" y="317.34" width="5.0" height="8.3" fill="#cccccc"/>
<rect x="69.25" y="317.34" width="5.0" height="8.3" fill="#cccccc"/>
<rect x="75.30" y="317.34" width="5.0" height="8.3" fill="#cccccc"/>
<rect x="81.35" y="317.34" width="5.0" height="8.3" fill="#cccccc"/>
<rect x="87.40" y="317.34" width="5.0" height="8.3" fill="#cccccc"/>
<rect x="93.45" y="317.34" width="5.0" height="8.3" fill="#262120"/>
<rect x="99.50" y="317.34" width="5.0" height="8.3" fill="#cccccc"/>
<rect x="105.55" y="317.34" width="5.0" height="8.3" fill="#cccccc"/>
<rect x="111.60" y="317.34" width="5.0" height="8.3" fill="#cccccc"/>
<rect x="117.65" y="317.34" width="5.0" height="8.3" fill="#cccccc"/>
<rect x="123.70" y="317.34" width="5.0" height="8.3" fill="#cccccc"/>
<rect x="129.75" y="317.34" width="5.0" height="8.3" fill="#cccccc"/>
<rect x="135.80" y="317.34" width="5.0" height="8.3" fill="#00688b"/>
<rect x="141.85" y="317.34" width="5.0" height="8.3" fill="#00688b"/>
<rect x="147.90" y="317.34" width="5.0" height="8.3" fill="#cccccc"/>
<rect x="153.95" y="317.34" width="5.0" height="8.3" fill="#cccccc"/>
<rect x="160.00" y="317.34" width="5.0" height="8.3" fill="#cccccc"/>
<rect x="166.05" y="317.34" width="5.0" height="8.3" fill="#cccccc"/>
<rect x="172.10" y="317.34" width="5.0" height="8.3" fill="#cccccc"/>
<rect x="178.15" y="317.34" width="5.0" height="8.3" fill="#cccccc"/>
<rect x="184.20" y="317.34" width="5.0" height="8.3" fill="#cccccc"/>
<rect x="190.25" y="317.34" width="5.0" height="8.3" fill="#cccccc"/>
<rect x="196.30" y="317.34" width="5.0" height="8.3" fill="#cccccc"/>
<rect x="202.35" y="317.34" width="5.0" height="8.3" fill="#cccccc"/>
<rect x="208.40" y="317.34" width="5.0" height="8.3" fill="#cccccc"/>
<rect x="214.45" y="317.34" width="5.0" height="8.3" fill="#cccccc"/>
<rect x="220.50" y="317.34" width="5.0" height="8.3" fill="#cccccc"/>
<rect x="226.55" y="317.34" width="5.0" height="8.3" fill="#cccccc"/>
<rect x="232.60" y="317.34" width="5.0" height="8.3" fill="#cccccc"/>
<rect x="238.65" y="317.34" width="5.0" height="8.3" fill="#cccccc"/>
<rect x="244.70" y="317.34" width="5.0" height="8.3" fill="#cccccc"/>
<rect x="250.75" y="317.34" width="5.0" height="8.3" fill="#00688b"/>
<rect x="256.80" y="317.34" width="5.0" height="8.3" fill="#cccccc"/>
<rect x="262.85" y="317.34" width="5.0" height="8.3" fill="#cccccc"/>
<rect x="268.90" y="317.34" width="5.0" height="8.3" fill="#cccccc"/>
<rect x="274.95" y="317.34" width="5.0" height="8.3" fill="#cccccc"/>
<rect x="281.00" y="317.34" width="5.0" height="8.3" fill="#cccccc"/>
<rect x="287.05" y="317.34" width="5.0" height="8.3" fill="#cccccc"/>
<rect x="293.10" y="317.34" width="5.0" height="8.3" fill="#cccccc"/>
<rect x="299.15" y="317.34" width="5.0" height="8.3" fill="#cccccc"/>
<rect x="305.20" y="317.34" width="5.0" height="8.3" fill="#cccccc"/>
<rect x="311.25" y="317.34" width="5.0" height="8.3" fill="#cccccc"/>
<rect x="317.30" y="317.34" width="5.0" height="8.3" fill="#cccccc"/>
<rect x="323.35" y="317.34" width="5.0" height="8.3" fill="#cccccc"/>
<rect x="329.40" y="317.34" width="5.0" height="8.3" fill="#cccccc"/>
<rect x="335.45" y="317.34" width="5.0" height="8.3" fill="#cccccc"/>
<rect x="341.50" y="317.34" width="5.0" height="8.3" fill="#cccccc"/>
<rect x="347.55" y="317.34" width="5.0" height="8.3" fill="#cccccc"/>
<rect x="353.60" y="317.34" width="5.0" height="8.3" fill="#cccccc"/>
<rect x="359.65" y="317.34" width="5.0" height="8.3" fill="#cccccc"/>
<rect x="365.70" y="317.34" width="5.0" height="8.3" fill="#cccccc"/>
<rect x="371.75" y="317.34" width="5.0" height="8.3" fill="#cccccc"/>
<rect x="377.80" y="317.34" width="5.0" height="8.3" fill="#cccccc"/>
<rect x="383.85" y="317.34" width="5.0" height="8.3" fill="#cccccc"/>
<rect x="389.90" y="317.34" width="5.0" height="8.3" fill="#cccccc"/>
<rect x="395.95" y="317.34" width="5.0" height="8.3" fill="#cccccc"/>
<rect x="402.00" y="317.34" width="5.0" height="8.3" fill="#cccccc"/>
<rect x="39.00" y="327.40" width="5.0" height="8.3" fill="#cccccc"/>
<rect x="45.05" y="327.40" width="5.0" height="8.3" fill="#cccccc"/>
<rect x="51.10" y="327.40" width="5.0" height="8.3" fill="#00688b"/>
<rect x="57.15" y="327.40" width="5.0" height="8.3" fill="#cccccc"/>
<rect x="63.20" y="327.40" width="5.0" height="8.3" fill="#cccccc"/>
<rect x="69.25" y="327.40" width="5.0" height="8.3" fill="#cccccc"/>
<rect x="75.30" y="327.40" width="5.0" height="8.3" fill="#cccccc"/>
<rect x="81.35" y="327.40" width="5.0" height="8.3" fill="#cccccc"/>
<rect x="87.40" y="327.40" width="5.0" height="8.3" fill="#00688b"/>
<rect x="93.45" y="327.40" width="5.0" height="8.3" fill="#cccccc"/>
<rect x="99.50" y="327.40" width="5.0" height="8.3" fill="#cccccc"/>
<rect x="105.55" y="327.40" width="5.0" height="8.3" fill="#cccccc"/>
<rect x="111.60" y="327.40" width="5.0" height="8.3" fill="#cccccc"/>
<rect x="117.65" y="327.40" width="5.0" height="8.3" fill="#ff0000"/>
<rect x="123.70" y="327.40" width="5.0" height="8.3" fill="#cccccc"/>
<rect x="129.75" y="327.40" width="5.0" height="8.3" fill="#cccccc"/>
<rect x="135.80" y="327.40" width="5.0" height="8.3" fill="#cccccc"/>
<rect x="141.85" y="327.40" width="5.0" height="8.3" fill="#cccccc"/>
<rect x="147.90" y="327.40" width="5.0" height="8.3" fill="#cccccc"/>
<rect x="153.95" y="327.40" width="5.0" height="8.3" fill="#cccccc"/>
<rect x="160.00" y="327.40" width="5.0" height="8.3" fill="#cccccc"/>
<rect x="166.05" y="327.40" width="5.0" height="8.3" fill="#cccccc"/>
<rect x="172.10" y="327.40" width="5.0" height="8.3" fill="#cccccc"/>
<rect x="178.15" y="327.40" width="5.0" height="8.3" fill="#cccccc"/>
<rect x="184.20" y="327.40" width="5.0" height="8.3" fill="#cccccc"/>
<rect x="190.25" y="327.40" width="5.0" height="8.3" fill="#cccccc"/>
<rect x="196.30" y="327.40" width="5.0" height="8.3" fill="#cccccc"/>
<rect x="202.35" y="327.40" width="5.0" height="8.3" fill="#cccccc"/>
<rect x="208.40" y="327.40" width="5.0" height="8.3" fill="#cccccc"/>
<rect x="214.45" y="327.40" width="5.0" height="8.3" fill="#cccccc"/>
<rect x="220.50" y="327.40" width="5.0" height="8.3" fill="#cccccc"/>
<rect x="226.55" y="327.40" width="5.0" height="8.3" fill="#cccccc"/>
<rect x="232.60" y="327.40" width="5.0" height="8.3" fill="#cccccc"/>
<rect x="238.65" y="327.40" width="5.0" height="8.3" fill="#cccccc"/>
<rect x="244.70" y="327.40" width="5.0" height="8.3" fill="#cccccc"/>
<rect x="250.75" y="327.40" width="5.0" height="8.3" fill="#262120"/>
<rect x="256.80" y="327.40" width="5.0" height="8.3" fill="#cccccc"/>
<rect x="262.85" y="327.40" width="5.0" height="8.3" fill="#cccccc"/>
<rect x="268.90" y="327.40" width="5.0" height="8.3" fill="#cccccc"/>
<rect x="274.95" y="327.40" width="5.0" height="8.3" fill="#cccccc"/>
<rect x="281.00" y="327.40" width="5.0" height="8.3" fill="#cccccc"/>
<rect x="287.05" y="327.40" width="5.0" height="8.3" fill="#cccccc"/>
<rect x="293.10" y="327.40" width="5.0" height="8.3" fill="#cccccc"/>
<rect x="299.15" y="327.40" width="5.0" height="8.3" fill="#cccccc"/>
<rect x="305.20" y="327.40" width="5.0" height="8.3" fill="#cccccc"/>
<rect x="311.25" y="327.40" width="5.0" height="8.3" fill="#cccccc"/>
<rect x="317.30" y="327.40" width="5.0" height="8.3" fill="#cccccc"/>
<rect x="323.35" y="327.40" width="5.0" height="8.3" fill="#cccccc"/>
<rect x="329.40" y="327.40" width="5.0" height="8.3" fill="#cccccc"/>
<rect x="335.45" y="327.40" width="5.0" height="8.3" fill="#cccccc"/>
<rect x="341.50" y="327.40" width="5.0" height="8.3" fill="#cccccc"/>
<rect x="347.55" y="327.40" width="5.0" height="8.3" fill="#cccccc"/>
<rect x="353.60" y="327.40" width="5.0" height="8.3" fill="#cccccc"/>
<rect x="359.65" y="327.40" width="5.0" height="8.3" fill="#cccccc"/>
<rect x="365.70" y="327.40" width="5.0" height="8.3" fill="#cccccc"/>
<rect x="371.75" y="327.40" width="5.0" height="8.3" fill="#cccccc"/>
<rect x="377.80" y="327.40" width="5.0" height="8.3" fill="#cccccc"/>
<rect x="383.85" y="327.40" width="5.0" height="8.3" fill="#cccccc"/>
<rect x="389.90" y="327.40" width="5.0" height="8.3" fill="#cccccc"/>
<rect x="395.95" y="327.40" width="5.0" height="8.3" fill="#cccccc"/>
<rect x="402.00" y="327.40" width="5.0" height="8.3" fill="#cccccc"/>
<rect x="39.00" y="337.46" width="5.0" height="8.3" fill="#cccccc"/>
<rect x="45.05" y="337.46" width="5.0" height="8.3" fill="#cccccc"/>
<rect x="51.10" y="337.46" width="5.0" height="8.3" fill="#cccccc"/>
<rect x="57.15" y="337.46" width="5.0" height="8.3" fill="#cccccc"/>
<rect x="63.20" y="337.46" width="5.0" height="8.3" fill="#cccccc"/>
<rect x="69.25" y="337.46" width="5.0" height="8.3" fill="#cccccc"/>
<rect x="75.30" y="337.46" width="5.0" height="8.3" fill="#00688b"/>
<rect x="81.35" y="337.46" width="5.0" height="8.3" fill="#00688b"/>
<rect x="87.40" y="337.46" width="5.0" height="8.3" fill="#00688b"/>
<rect x="93.45" y="337.46" width="5.0" height="8.3" fill="#48d1cc"/>
<rect x="99.50" y="337.46" width="5.0" height="8.3" fill="#cccccc"/>
<rect x="105.55" y="337.46" width="5.0" height="8.3" fill="#cccccc"/>
<rect x="111.60" y="337.46" width="5.0" height="8.3" fill="#cccccc"/>
<rect x="117.65" y="337.46" width="5.0" height="8.3" fill="#cccccc"/>
<rect x="123.70" y="337.46" width="5.0" height="8.3" fill="#cccccc"/>
<rect x="129.75" y="337.46" width="5.0" height="8.3" fill="#cccccc"/>
<rect x="135.80" y="337.46" width="5.0" height="8.3" fill="#cccccc"/>
<rect x="141.85" y="337.46" width="5.0" height="8.3" fill="#cccccc"/>
<rect x="147.90" y="337.46" width="5.0" height="8.3" fill="#cccccc"/>
<rect x="153.95" y="337.46" width="5.0" height="8.3" fill="#cccccc"/>
<rect x="160.00" y="337.46" width="5.0" height="8.3" fill="#cccccc"/>
<rect x="166.05" y="337.46" width="5.0" height="8.3" fill="#cccccc"/>
<rect x="172.10" y="337.46" width="5.0" height="8.3" fill="#cccccc"/>
<rect x="178.15" y="337.46" width="5.0" height="8.3" fill="#cccccc"/>
<rect x="184.20" y="337.46" width="5.0" height="8.3" fill="#cccccc"/>
<rect x="190.25" y="337.46" width="5.0" height="8.3" fill="#cccccc"/>
<rect x="196.30" y="337.46" width="5.0" height="8.3" fill="#cccccc"/>
<rect x="202.35" y="337.46" width="5.0" height="8.3" fill="#cccccc"/>
<rect x="208.40" y="337.46" width="5.0" height="8.3" fill="#cccccc"/>
<rect x="214.45" y="337.46" width="5.0" height="8.3" fill="#cccccc"/>
<rect x="220.50" y="337.46" width="5.0" height="8.3" fill="#cccccc"/>
<rect x="226.55" y="337.46" width="5.0" height="8.3" fill="#cccccc"/>
<rect x="232.60" y="337.46" width="5.0" height="8.3" fill="#cccccc"/>
<rect x="238.65" y="337.46" width="5.0" height="8.3" fill="#cccccc"/>
<rect x="244.70" y="337.46" width="5.0" height="8.3" fill="#cccccc"/>
<rect x="250.75" y="337.46" width="5.0" height="8.3" fill="#cccccc"/>
<rect x="256.80" y="337.46" width="5.0" height="8.3" fill="#cccccc"/>
<rect x="262.85" y="337.46" width="5.0" height="8.3" fill="#cccccc"/>
<rect x="268.90" y="337.46" width="5.0" height="8.3" fill="#cccccc"/>
<rect x="274.95" y="337.46" width="5.0" height="8.3" fill="#cccccc"/>
<rect x="281.00" y="337.46" width="5.0" height="8.3" fill="#cccccc"/>
<rect x="287.05" y="337.46" width="5.0" height="8.3" fill="#cccccc"/>
<rect x="293.10" y="337.46" width="5.0" height="8.3" fill="#cccccc"/>
<rect x="299.15" y="337.46" width="5.0" height="8.3" fill="#cccccc"/>
<rect x="305.20" y="337.46" width="5.0" height="8.3" fill="#cccccc"/>
<rect x="311.25" y="337.46" width="5.0" height="8.3" fill="#cccccc"/>
<rect x="317.30" y="337.46" width="5.0" height="8.3" fill="#cccccc"/>
<rect x="323.35" y="337.46" width="5.0" height="8.3" fill="#cccccc"/>
<rect x="329.40" y="337.46" width="5.0" height="8.3" fill="#cccccc"/>
<rect x="335.45" y="337.46" width="5.0" height="8.3" fill="#cccccc"/>
<rect x="341.50" y="337.46" width="5.0" height="8.3" fill="#cccccc"/>
<rect x="347.55" y="337.46" width="5.0" height="8.3" fill="#cccccc"/>
<rect x="353.60" y="337.46" width="5.0" height="8.3" fill="#cccccc"/>
<rect x="359.65" y="337.46" width="5.0" height="8.3" fill="#cccccc"/>
<rect x="365.70" y="337.46" width="5.0" height="8.3" fill="#cccccc"/>
<rect x="371.75" y="337.46" width="5.0" height="8.3" fill="#cccccc"/>
<rect x="377.80" y="337.46" width="5.0" height="8.3" fill="#cccccc"/>
<rect x="383.85" y="337.46" width="5.0" height="8.3" fill="#cccccc"/>
<rect x="389.90" y="337.46" width="5.0" height="8.3" fill="#cccccc"/>
<rect x="395.95" y="337.46" width="5.0" height="8.3" fill="#cccccc"/>
<rect x="402.00" y="337.46" width="5.0" height="8.3" fill="#cccccc"/>
<rect x="39.00" y="347.52" width="5.0" height="8.3" fill="#cccccc"/>
<rect x="45.05" y="347.52" width="5.0" height="8.3" fill="#cccccc"/>
<rect x="51.10" y="347.52" width="5.0" height="8.3" fill="#cccccc"/>
<rect x="57.15" y="347.52" width="5.0" height="8.3" fill="#cccccc"/>
<rect x="63.20" y="347.52" width="5.0" height="8.3" fill="#cccccc"/>
<rect x="69.25" y="347.52" width="5.0" height="8.3" fill="#cccccc"/>
<rect x="75.30" y="347.52" width="5.0" height="8.3" fill="#cccccc"/>
<rect x="81.35" y="347.52" width="5.0" height="8.3" fill="#262120"/>
<rect x="87.40" y="347.52" width="5.0" height="8.3" fill="#cccccc"/>
<rect x="93.45" y="347.52" width="5.0" height="8.3" fill="#262120"/>
<rect x="99.50" y="347.52" width="5.0" height="8.3" fill="#cccccc"/>
<rect x="105.55" y="347.52" width="5.0" height="8.3" fill="#cccccc"/>
<rect x="111.60" y="347.52" width="5.0" height="8.3" fill="#cccccc"/>
<rect x="117.65" y="347.52" width="5.0" height="8.3" fill="#cccccc"/>
<rect x="123.70" y="347.52" width="5.0" height="8.3" fill="#cccccc"/>
<rect x="129.75" y="347.52" width="5.0" height="8.3" fill="#cccccc"/>
<rect x="135.80" y="347.52" width="5.0" height="8.3" fill="#cccccc"/>
<rect x="141.85" y="347.52" width="5.0" height="8.3" fill="#cccccc"/>
<rect x="147.90" y="347.52" width="5.0" height="8.3" fill="#cccccc"/>
<rect x="153.95" y="347.52" width="5.0" height="8.3" fill="#cccccc"/>
<rect x="160.00" y="347.52" width="5.0" height="8.3" fill="#cccccc"/>
<rect x="166.05" y="347.52" width="5.0" height="8.3" fill="#cccccc"/>
<rect x="172.10" y="347.52" width="5.0" height="8.3" fill="#cccccc"/>
<rect x="178.15" y="347.52" width="5.0" height="8.3" fill="#cccccc"/>
<rect x="184.20" y="347.52" width="5.0" height="8.3" fill="#cccccc"/>
<rect x="190.25" y="347.52" width="5.0" height="8.3" fill="#cccccc"/>
<rect x="196.30" y="347.52" width="5.0" height="8.3" fill="#cccccc"/>
<rect x="202.35" y="347.52" width="5.0" height="8.3" fill="#cccccc"/>
<rect x="208.40" y="347.52" width="5.0" height="8.3" fill="#cccccc"/>
<rect x="214.45" y="347.52" width="5.0" height="8.3" fill="#cccccc"/>
<rect x="220.50" y="347.52" width="5.0" height="8.3" fill="#cccccc"/>
<rect x="226.55" y="347.52" width="5.0" height="8.3" fill="#cccccc"/>
<rect x="232.60" y="347.52" width="5.0" height="8.3" fill="#cccccc"/>
<rect x="238.65" y="347.52" width="5.0" height="8.3" fill="#cccccc"/>
<rect x="244.70" y="347.52" width="5.0" height="8.3" fill="#cccccc"/>
<rect x="250.75" y="347.52" width="5.0" height="8.3" fill="#00688b"/>
<rect x="256.80" y="347.52" width="5.0" height="8.3" fill="#cccccc"/>
<rect x="262.85" y="347.52" width="5.0" height="8.3" fill="#cccccc"/>
<rect x="268.90" y="347.52" width="5.0" height="8.3" fill="#cccccc"/>
<rect x="274.95" y="347.52" width="5.0" height="8.3" fill="#cccccc"/>
<rect x="281.00" y="347.52" width="5.0" height="8.3" fill="#cccccc"/>
<rect x="287.05" y="347.52" width="5.0" height="8.3" fill="#cccccc"/>
<rect x="293.10" y="347.52" width="5.0" height="8.3" fill="#cccccc"/>
<rect x="299.15" y="347.52" width="5.0" height="8.3" fill="#cccccc"/>
<rect x="305.20" y="347.52" width="5.0" height="8.3" fill="#cccccc"/>
<rect x="311.25" y="347.52" width="5.0" height="8.3" fill="#cccccc"/>
<rect x="317.30" y="347.52" width="5.0" height="8.3" fill="#cccccc"/>
<rect x="323.35" y="347.52" width="5.0" height="8.3" fill="#cccccc"/>
<rect x="329.40" y="347.52" width="5.0" height="8.3" fill="#cccccc"/>
<rect x="335.45" y="347.52" width="5.0" height="8.3" fill="#cccccc"/>
<rect x="341.50" y="347.52" width="5.0" height="8.3" fill="#cccccc"/>
<rect x="347.55" y="347.52" width="5.0" height="8.3" fill="#cccccc"/>
<rect x="353.60" y="347.52" width="5.0" height="8.3" fill="#cccccc"/>
<rect x="359.65" y="347.52" width="5.0" height="8.3" fill="#cccccc"/>
<rect x="365.70" y="347.52" width="5.0" height="8.3" fill="#cccccc"/>
<rect x="371.75" y="347.52" width="5.0" height="8.3" fill="#cccccc"/>
<rect x="377.80" y="347.52" width="5.0" height="8.3" fill="#cccccc"/>
<rect x="383.85" y="347.52" width="5.0" height="8.3" fill="#cccccc"/>
<rect x="389.90" y="347.52" width="5.0" height="8.3" fill="#cccccc"/>
<rect x="395.95" y="347.52" width="5.0" height="8.3" fill="#cccccc"/>
<rect x="402.00" y="347.52" width="5.0" height="8.3" fill="#cccccc"/>
<rect x="39.00" y="357.58" width="5.0" height="8.3" fill="#cccccc"/>
<rect x="45.05" y="357.58" width="5.0" height="8.3" fill="#cccccc"/>
<rect x="51.10" y="357.58" width="5.0" height="8.3" fill="#cccccc"/>
<rect x="57.15" y="357.58" width="5.0" height="8.3" fill="#cccccc"/>
<rect x="63.20" y="357.58" width="5.0" height="8.3" fill="#cccccc"/>
<rect x="69.25" y="357.58" width="5.0" height="8.3" fill="#cccccc"/>
<rect x="75.30" y="357.58" width="5.0" height="8.3" fill="#cccccc"/>
<rect x="81.35" y="357.58" width="5.0" height="8.3" fill="#cccccc"/>
<rect x="87.40" y="357.58" width="5.0" height="8.3" fill="#cccccc"/>
<rect x="93.45" y="357.58" width="5.0" height="8.3" fill="#cccccc"/>
<rect x="99.50" y="357.58" width="5.0" height="8.3" fill="#cccccc"/>
<rect x="105.55" y="357.58" width="5.0" height="8.3" fill="#cccccc"/>
<rect x="111.60" y="357.58" width="5.0" height="8.3" fill="#cccccc"/>
<rect x="117.65" y="357.58" width="5.0" height="8.3" fill="#cccccc"/>
<rect x="123.70" y="357.58" width="5.0" height="8.3" fill="#cccccc"/>
<rect x="129.75" y="357.58" width="5.0" height="8.3" fill="#cccccc"/>
<rect x="135.80" y="357.58" width="5.0" height="8.3" fill="#cccccc"/>
<rect x="141.85" y="357.58" width="5.0" height="8.3" fill="#cccccc"/>
<rect x="147.90" y="357.58" width="5.0" height="8.3" fill="#cccccc"/>
<rect x="153.95" y="357.58" width="5.0" height="8.3" fill="#cccccc"/>
<rect x="160.00" y="357.58" width="5.0" height="8.3" fill="#cccccc"/>
<rect x="166.05" y="357.58" width="5.0" height="8.3" fill="#ff0000"/>
<rect x="172.10" y="357.58" width="5.0" height="8.3" fill="#cccccc"/>
<rect x="178.15" y="357.58" width="5.0" height="8.3" fill="#cccccc"/>
<rect x="184.20" y="357.58" width="5.0" height="8.3" fill="#cccccc"/>
<rect x="190.25" y="357.58" width="5.0" height="8.3" fill="#cccccc"/>
<rect x="196.30" y="357.58" width="5.0" height="8.3" fill="#cccccc"/>
<rect x="202.35" y="357.58" width="5.0" height="8.3" fill="#cccccc"/>
<rect x="208.40" y="357.58" width="5.0" height="8.3" fill="#cccccc"/>
<rect x="214.45" y="357.58" width="5.0" height="8.3" fill="#cccccc"/>
<rect x="220.50" y="357.58" width="5.0" height="8.3" fill="#cccccc"/>
<rect x="226.55" y="357.58" width="5.0" height="8.3" fill="#cccccc"/>
<rect x="232.60" y="357.58" width="5.0" height="8.3" fill="#cccccc"/>
<rect x="238.65" y="357.58" width="5.0" height="8.3" fill="#cccccc"/>
<rect x="244.70" y="357.58" width="5.0" height="8.3" fill="#cccccc"/>
<rect x="250.75" y="357.58" width="5.0" height="8.3" fill="#00688b"/>
<rect x="256.80" y="357.58" width="5.0" height="8.3" fill="#cccccc"/>
<rect x="262.85" y="357.58" width="5.0" height="8.3" fill="#cccccc"/>
<rect x="268.90" y="357.58" width="5.0" height="8.3" fill="#cccccc"/>
<rect x="274.95" y="357.58" width="5.0" height="8.3" fill="#cccccc"/>
<rect x="281.00" y="357.58" width="5.0" height="8.3" fill="#cccccc"/>
<rect x="287.05" y="357.58" width="5.0" height="8.3" fill="#cccccc"/>
<rect x="293.10" y="357.58" width="5.0" height="8.3" fill="#cccccc"/>
<rect x="299.15" y="357.58" width="5.0" height="8.3" fill="#cccccc"/>
<rect x="305.20" y="357.58" width="5.0" height="8.3" fill="#cccccc"/>
<rect x="311.25" y="357.58" width="5.0" height="8.3" fill="#00688b"/>
<rect x="317.30" y="357.58" width="5.0" height="8.3" fill="#cccccc"/>
<rect x="323.35" y="357.58" width="5.0" height="8.3" fill="#cccccc"/>
<rect x="329.40" y="357.58" width="5.0" height="8.3" fill="#cccccc"/>
<rect x="335.45" y="357.58" width="5.0" height="8.3" fill="#cccccc"/>
<rect x="341.50" y="357.58" width="5.0" height="8.3" fill="#cccccc"/>
<rect x="347.55" y="357.58" width="5.0" height="8.3" fill="#cccccc"/>
<rect x="353.60" y="357.58" width="5.0" height="8.3" fill="#cccccc"/>
<rect x="359.65" y="357.58" width="5.0" height="8.3" fill="#cccccc"/>
<rect x="365.70" y="357.58" width="5.0" height="8.3" fill="#cccccc"/>
<rect x="371.75" y="357.58" width="5.0" height="8.3" fill="#cccccc"/>
<rect x="377.80" y="357.58" width="5.0" height="8.3" fill="#cccccc"/>
<rect x="383.85" y="357.58" width="5.0" height="8.3" fill="#cccccc"/>
<rect x="389.90" y="357.58" width="5.0" height="8.3" fill="#cccccc"/>
<rect x="395.95" y="357.58" width="5.0" height="8.3" fill="#cccccc"/>
<rect x="402.00" y="357.58" width="5.0" height="8.3" fill="#cccccc"/>
<rect x="39.00" y="367.64" width="5.0" height="8.3" fill="#cccccc"/>
<rect x="45.05" y="367.64" width="5.0" height="8.3" fill="#cccccc"/>
<rect x="51.10" y="367.64" width="5.0" height="8.3" fill="#00688b"/>
<rect x="57.15" y="367.64" width="5.0" height="8.3" fill="#cccccc"/>
<rect x="63.20" y="367.64" width="5.0" height="8.3" fill="#cccccc"/>
<rect x="69.25" y="367.64" width="5.0" height="8.3" fill="#cccccc"/>
<rect x="75.30" y="367.64" width="5.0" height="8.3" fill="#cccccc"/>
<rect x="81.35" y="367.64" width="5.0" height="8.3" fill="#cccccc"/>
<rect x="87.40" y="367.64" width="5.0" height="8.3" fill="#00688b"/>
<rect x="93.45" y="367.64" width="5.0" height="8.3" fill="#cccccc"/>
<rect x="99.50" y="367.64" width="5.0" height="8.3" fill="#cccccc"/>
<rect x="105.55" y="367.64" width="5.0" height="8.3" fill="#cccccc"/>
<rect x="111.60" y="367.64" width="5.0" height="8.3" fill="#cccccc"/>
<rect x="117.65" y="367.64" width="5.0" height="8.3" fill="#cccccc"/>
<rect x="123.70" y="367.64" width="5.0" height="8.3" fill="#cccccc"/>
<rect x="129.75" y="367.64" width="5.0" height="8.3" fill="#cccccc"/>
<rect x="135.80" y="367.64" width="5.0" height="8.3" fill="#cccccc"/>
<rect x="141.85" y="367.64" width="5.0" height="8.3" fill="#cccccc"/>
<rect x="147.90" y="367.64" width="5.0" height="8.3" fill="#cccccc"/>
<rect x="153.95" y="367.64" width="5.0" height="8.3" fill="#cccccc"/>
<rect x="160.00" y="367.64" width="5.0" height="8.3" fill="#cccccc"/>
<rect x="166.05" y="367.64" width="5.0" height="8.3" fill="#cccccc"/>
<rect x="172.10" y="367.64" width="5.0" height="8.3" fill="#cccccc"/>
<rect x="178.15" y="367.64" width="5.0" height="8.3" fill="#cccccc"/>
<rect x="184.20" y="367.64" width="5.0" height="8.3" fill="#cccccc"/>
<rect x="190.25" y="367.64" width="5.0" height="8.3" fill="#cccccc"/>
<rect x="196.30" y="367.64" width="5.0" height="8.3" fill="#cccccc"/>
<rect x="202.35" y="367.64" width="5.0" height="8.3" fill="#cccccc"/>
<rect x="208.40" y="367.64" width="5.0" height="8.3" fill="#cccccc"/>
<rect x="214.45" y="367.64" width="5.0" height="8.3" fill="#cccccc"/>
<rect x="220.50" y="367.64" width="5.0" height="8.3" fill="#cccccc"/>
<rect x="226.55" y="367.64" width="5.0" height="8.3" fill="#cccccc"/>
<rect x="232.60" y="367.64" width="5.0" height="8.3" fill="#cccccc"/>
<rect x="238.65" y="367.64" width="5.0" height="8.3" fill="#cccccc"/>
<rect x="244.70" y="367.64" width="5.0" height="8.3" fill="#cccccc"/>
<rect x="250.75" y="367.64" width="5.0" height="8.3" fill="#cccccc"/>
<rect x="256.80" y="367.64" width="5.0" height="8.3" fill="#cccccc"/>
<rect x="262.85" y="367.64" width="5.0" height="8.3" fill="#cccccc"/>
<rect x="268.90" y="367.64" width="5.0" height="8.3" fill="#cccccc"/>
<rect x="274.95" y="367.64" width="5.0" height="8.3" fill="#cccccc"/>
<rect x="281.00" y="367.64" width="5.0" height="8.3" fill="#cccccc"/>
<rect x="287.05" y="367.64" width="5.0" height="8.3" fill="#cccccc"/>
<rect x="293.10" y="367.64" width="5.0" height="8.3" fill="#cccccc"/>
<rect x="299.15" y="367.64" width="5.0" height="8.3" fill="#cccccc"/>
<rect x="305.20" y="367.64" width="5.0" height="8.3" fill="#cccccc"/>
<rect x="311.25" y="367.64" width="5.0" height="8.3" fill="#cccccc"/>
<rect x="317.30" y="367.64" width="5.0" height="8.3" fill="#cccccc"/>
<rect x="323.35" y="367.64" width="5.0" height="8.3" fill="#cccccc"/>
<rect x="329.40" y="367.64" width="5.0" height="8.3" fill="#cccccc"/>
<rect x="335.45" y="367.64" width="5.0" height="8.3" fill="#cccccc"/>
<rect x="341.50" y="367.64" width="5.0" height="8.3" fill="#cccccc"/>
<rect x="347.55" y="367.64" width="5.0" height="8.3" fill="#cccccc"/>
<rect x="353.60" y="367.64" width="5.0" height="8.3" fill="#cccccc"/>
<rect x="359.65" y="367.64" width="5.0" height="8.3" fill="#cccccc"/>
<rect x="365.70" y="367.64" width="5.0" height="8.3" fill="#cccccc"/>
<rect x="371.75" y="367.64" width="5.0" height="8.3" fill="#cccccc"/>
<rect x="377.80" y="367.64" width="5.0" height="8.3" fill="#cccccc"/>
<rect x="383.85" y="367.64" width="5.0" height="8.3" fill="#a020f0"/>
<rect x="389.90" y="367.64" width="5.0" height="8.3" fill="#cccccc"/>
<rect x="395.95" y="367.64" width="5.0" height="8.3" fill="#cccccc"/>
<rect x="402.00" y="367.64" width="5.0" height="8.3" fill="#cccccc"/>
<rect x="39.00" y="377.70" width="5.0" height="8.3" fill="#cccccc"/>
<rect x="45.05" y="377.70" width="5.0" height="8.3" fill="#cccccc"/>
<rect x="51.10" y="377.70" width="5.0" height="8.3" fill="#cccccc"/>
<rect x="57.15" y="377.70" width="5.0" height="8.3" fill="#cccccc"/>
<rect x="63.20" y="377.70" width="5.0" height="8.3" fill="#cccccc"/>
<rect x="69.25" y="377.70" width="5.0" height="8.3" fill="#cccccc"/>
<rect x="75.30" y="377.70" width="5.0" height="8.3" fill="#cccccc"/>
<rect x="81.35" y="377.70" width="5.0" height="8.3" fill="#cccccc"/>
<rect x="87.40" y="377.70" width="5.0" height="8.3" fill="#cccccc"/>
<rect x="93.45" y="377.70" width="5.0" height="8.3" fill="#262120"/>
<rect x="99.50" y="377.70" width="5.0" height="8.3" fill="#cccccc"/>
<rect x="105.55" y="377.70" width="5.0" height="8.3" fill="#cccccc"/>
<rect x="111.60" y="377.70" width="5.0" height="8.3" fill="#cccccc"/>
<rect x="117.65" y="377.70" width="5.0" height="8.3" fill="#cccccc"/>
<rect x="123.70" y="377.70" width="5.0" height="8.3" fill="#cccccc"/>
<rect x="129.75" y="377.70" width="5.0" height="8.3" fill="#cccccc"/>
<rect x="135.80" y="377.70" width="5.0" height="8.3" fill="#cccccc"/>
<rect x="141.85" y="377.70" width="5.0" height="8.3" fill="#00688b"/>
<rect x="147.90" y="377.70" width="5.0" height="8.3" fill="#cccccc"/>
<rect x="153.95" y="377.70" width="5.0" height="8.3" fill="#cccccc"/>
<rect x="160.00" y="377.70" width="5.0" height="8.3" fill="#cccccc"/>
<rect x="166.05" y="377.70" width="5.0" height="8.3" fill="#cccccc"/>
<rect x="172.10" y="377.70" width="5.0" height="8.3" fill="#cccccc"/>
<rect x="178.15" y="377.70" width="5.0" height="8.3" fill="#cccccc"/>
<rect x="184.20" y="377.70" width="5.0" height="8.3" fill="#cccccc"/>
<rect x="190.25" y="377.70" width="5.0" height="8.3" fill="#cccccc"/>
<rect x="196.30" y="377.70" width="5.0" height="8.3" fill="#cccccc"/>
<rect x="202.35" y="377.70" width="5.0" height="8.3" fill="#cccccc"/>
<rect x="208.40" y="377.70" width="5.0" height="8.3" fill="#cccccc"/>
<rect x="214.45" y="377.70" width="5.0" height="8.3" fill="#cccccc"/>
<rect x="220.50" y="377.70" width="5.0" height="8.3" fill="#cccccc"/>
<rect x="226.55" y="377.70" width="5.0" height="8.3" fill="#cccccc"/>
<rect x="232.60" y="377.70" width="5.0" height="8.3" fill="#cccccc"/>
<rect x="238.65" y="377.70" width="5.0" height="8.3" fill="#cccccc"/>
<rect x="244.70" y="377.70" width="5.0" height="8.3" fill="#cccccc"/>
<rect x="250.75" y="377.70" width="5.0" height="8.3" fill="#262120"/>
<rect x="256.80" y="377.70" width="5.0" height="8.3" fill="#cccccc"/>
<rect x="262.85" y="377.70" width="5.0" height="8.3" fill="#cccccc"/>
<rect x="268.90" y="377.70" width="5.0" height="8.3" fill="#cccccc"/>
<rect x="274.95" y="377.70" width="5.0" height="8.3" fill="#cccccc"/>
<rect x="281.00" y="377.70" width="5.0" height="8.3" fill="#cccccc"/>
<rect x="287.05" y="377.70" width="5.0" height="8.3" fill="#cccccc"/>
<rect x="293.10" y="377.70" width="5.0" height="8.3" fill="#cccccc"/>
<rect x="299.15" y="377.70" width="5.0" height="8.3" fill="#cccccc"/>
<rect x="305.20" y="377.70" width="5.0" height="8.3" fill="#cccccc"/>
<rect x="311.25" y="377.70" width="5.0" height="8.3" fill="#cccccc"/>
<rect x="317.30" y="377.70" width="5.0" height="8.3" fill="#cccccc"/>
<rect x="323.35" y="377.70" width="5.0" height="8.3" fill="#cccccc"/>
<rect x="329.40" y="377.70" width="5.0" height="8.3" fill="#cccccc"/>
<rect x="335.45" y="377.70" width="5.0" height="8.3" fill="#cccccc"/>
<rect x="341.50" y="377.70" width="5.0" height="8.3" fill="#cccccc"/>
<rect x="347.55" y="377.70" width="5.0" height="8.3" fill="#cccccc"/>
<rect x="353.60" y="377.70" width="5.0" height="8.3" fill="#cccccc"/>
<rect x="359.65" y="377.70" width="5.0" height="8.3" fill="#cccccc"/>
<rect x="365.70" y="377.70" width="5.0" height="8.3" fill="#cccccc"/>
<rect x="371.75" y="377.70" width="5.0" height="8.3" fill="#cccccc"/>
<rect x="377.80" y="377.70" width="5.0" height="8.3" fill="#cccccc"/>
<rect x="383.85" y="377.70" width="5.0" height="8.3" fill="#cccccc"/>
<rect x="389.90" y="377.70" width="5.0" height="8.3" fill="#cccccc"/>
<rect x="395.95" y="377.70" width="5.0" height="8.3" fill="#cccccc"/>
<rect x="402.00" y="377.70" width="5.0" height="8.3" fill="#cccccc"/>
<rect x="39.00" y="387.76" width="5.0" height="8.3" fill="#cccccc"/>
<rect x="45.05" y="387.76" width="5.0" height="8.3" fill="#cccccc"/>
<rect x="51.10" y="387.76" width="5.0" height="8.3" fill="#cccccc"/>
<rect x="57.15" y="387.76" width="5.0" height="8.3" fill="#cccccc"/>
<rect x="63.20" y="387.76" width="5.0" height="8.3" fill="#cccccc"/>
<rect x="69.25" y="387.76" width="5.0" height="8.3" fill="#cccccc"/>
<rect x="75.30" y="387.76" width="5.0" height="8.3" fill="#cccccc"/>
<rect x="81.35" y="387.76" width="5.0" height="8.3" fill="#cccccc"/>
<rect x="87.40" y="387.76" width="5.0" height="8.3" fill="#cccccc"/>
<rect x="93.45" y="387.76" width="5.0" height="8.3" fill="#cccccc"/>
<rect x="99.50" y="387.76" width="5.0" height="8.3" fill="#cccccc"/>
<rect x="105.55" y="387.76" width="5.0" height="8.3" fill="#cccccc"/>
<rect x="111.60" y="387.76" width="5.0" height="8.3" fill="#cccccc"/>
<rect x="117.65" y="387.76" width="5.0" height="8.3" fill="#cccccc"/>
<rect x="123.70" y="387.76" width="5.0" height="8.3" fill="#cccccc"/>
<rect x="129.75" y="387.76" width="5.0" height="8.3" fill="#cccccc"/>
<rect x="135.80" y="387.76" width="5.0" height="8.3" fill="#cccccc"/>
<rect x="141.85" y="387.76" width="5.0" height="8.3" fill="#cccccc"/>
<rect x="147.90" y="387.76" width="5.0" height="8.3" fill="#cccccc"/>
<rect x="153.95" y="387.76" width="5.0" height="8.3" fill="#cccccc"/>
<rect x="160.00" y="387.76" width="5.0" height="8.3" fill="#cccccc"/>
<rect x="166.05" y="387.76" width="5.0" height="8.3" fill="#cccccc"/>
<rect x="172.10" y="387.76" width="5.0" height="8.3" fill="#cccccc"/>
<rect x="178.15" y="387.76" width="5.0" height="8.3" fill="#cccccc"/>
<rect x="184.20" y="387.76" width="5.0" height="8.3" fill="#cccccc"/>
<rect x="190.25" y="387.76" width="5.0" height="8.3" fill="#cccccc"/>
<rect x="196.30" y="387.76" width="5.0" height="8.3" fill="#cccccc"/>
<rect x="202.35" y="387.76" width="5.0" height="8.3" fill="#cccccc"/>
<rect x="208.40" y="387.76" width="5.0" height="8.3" fill="#cccccc"/>
<rect x="214.45" y="387.76" width="5.0" height="8.3" fill="#cccccc"/>
<rect x="220.50" y="387.76" width="5.0" height="8.3" fill="#48d1cc"/>
<rect x="226.55" y="387.76" width="5.0" height="8.3" fill="#cccccc"/>
<rect x="232.60" y="387.76" width="5.0" height="8.3" fill="#cccccc"/>
<rect x="238.65" y="387.76" width="5.0" height="8.3" fill="#cccccc"/>
<rect x="244.70" y="387.76" width="5.0" height="8.3" fill="#cccccc"/>
<rect x="250.75" y="387.76" width="5.0" height="8.3" fill="#262120"/>
<rect x="256.80" y="387.76" width="5.0" height="8.3" fill="#cccccc"/>
<rect x="262.85" y="387.76" width="5.0" height="8.3" fill="#cccccc"/>
<rect x="268.90" y="387.76" width="5.0" height="8.3" fill="#cccccc"/>
<rect x="274.95" y="387.76" width="5.0" height="8.3" fill="#cccccc"/>
<rect x="281.00" y="387.76" width="5.0" height="8.3" fill="#cccccc"/>
<rect x="287.05" y="387.76" width="5.0" height="8.3" fill="#cccccc"/>
<rect x="293.10" y="387.76" width="5.0" height="8.3" fill="#cccccc"/>
<rect x="299.15" y="387.76" width="5.0" height="8.3" fill="#cccccc"/>
<rect x="305.20" y="387.76" width="5.0" height="8.3" fill="#cccccc"/>
<rect x="311.25" y="387.76" width="5.0" height="8.3" fill="#cccccc"/>
<rect x="317.30" y="387.76" width="5.0" height="8.3" fill="#cccccc"/>
<rect x="323.35" y="387.76" width="5.0" height="8.3" fill="#00688b"/>
<rect x="329.40" y="387.76" width="5.0" height="8.3" fill="#cccccc"/>
<rect x="335.45" y="387.76" width="5.0" height="8.3" fill="#cccccc"/>
<rect x="341.50" y="387.76" width="5.0" height="8.3" fill="#cccccc"/>
<rect x="347.55" y="387.76" width="5.0" height="8.3" fill="#cccccc"/>
<rect x="353.60" y="387.76" width="5.0" height="8.3" fill="#cccccc"/>
<rect x="359.65" y="387.76" width="5.0" height="8.3" fill="#cccccc"/>
<rect x="365.70" y="387.76" width="5.0" height="8.3" fill="#cccccc"/>
<rect x="371.75" y="387.76" width="5.0" height="8.3" fill="#cccccc"/>
<rect x="377.80" y="387.76" width="5.0" height="8.3" fill="#cccccc"/>
<rect x="383.85" y="387.76" width="5.0" height="8.3" fill="#cccccc"/>
<rect x="389.90" y="387.76" width="5.0" height="8.3" fill="#cccccc"/>
<rect x="395.95" y="387.76" width="5.0" height="8.3" fill="#cccccc"/>
<rect x="402.00" y="387.76" width="5.0" height="8.3" fill="#cccccc"/>
<rect x="39.00" y="397.82" width="5.0" height="8.3" fill="#cccccc"/>
<rect x="45.05" y="397.82" width="5.0" height="8.3" fill="#cccccc"/>
<rect x="51.10" y="397.82" width="5.0" height="8.3" fill="#cccccc"/>
<rect x="57.15" y="397.82" width="5.0" height="8.3" fill="#cccccc"/>
<rect x="63.20" y="397.82" width="5.0" height="8.3" fill="#cccccc"/>
<rect x="69.25" y="397.82" width="5.0" height="8.3" fill="#cccccc"/>
<rect x="75.30" y="397.82" width="5.0" height="8.3" fill="#cccccc"/>
<rect x="81.35" y="397.82" width="5.0" height="8.3" fill="#cccccc"/>
<rect x="87.40" y="397.82" width="5.0" height="8.3" fill="#cccccc"/>
<rect x="93.45" y="397.82" width="5.0" height="8.3" fill="#cccccc"/>
<rect x="99.50" y="397.82" width="5.0" height="8.3" fill="#cccccc"/>
<rect x="105.55" y="397.82" width="5.0" height="8.3" fill="#cccccc"/>
<rect x="111.60" y="397.82" width="5.0" height="8.3" fill="#cccccc"/>
<rect x="117.65" y="397.82" width="5.0" height="8.3" fill="#cccccc"/>
<rect x="123.70" y="397.82" width="5.0" height="8.3" fill="#cccccc"/>
<rect x="129.75" y="397.82" width="5.0" height="8.3" fill="#cccccc"/>
<rect x="135.80" y="397.82" width="5.0" height="8.3" fill="#cccccc"/>
<rect x="141.85" y="397.82" width="5.0" height="8.3" fill="#00688b"/>
<rect x="147.90" y="397.82" width="5.0" height="8.3" fill="#cccccc"/>
<rect x="153.95" y="397.82" width="5.0" height="8.3" fill="#00688b"/>
<rect x="160.00" y="397.82" width="5.0" height="8.3" fill="#cccccc"/>
<rect x="166.05" y="397.82" width="5.0" height="8.3" fill="#cccccc"/>
<rect x="172.10" y="397.82" width="5.0" height="8.3" fill="#00688b"/>
<rect x="178.15" y="397.82" width="5.0" height="8.3" fill="#cccccc"/>
<rect x="184.20" y="397.82" width="5.0" height="8.3" fill="#cccccc"/>
<rect x="190.25" y="397.82" width="5.0" height="8.3" fill="#cccccc"/>
<rect x="196.30" y="397.82" width="5.0" height="8.3" fill="#cccccc"/>
<rect x="202.35" y="397.82" width="5.0" height="8.3" fill="#cccccc"/>
<rect x="208.40" y="397.82" width="5.0" height="8.3" fill="#cccccc"/>
<rect x="214.45" y="397.82" width="5.0" height="8.3" fill="#cccccc"/>
<rect x="220.50" y="397.82" width="5.0" height="8.3" fill="#cccccc"/>
<rect x="226.55" y="397.82" width="5.0" height="8.3" fill="#cccccc"/>
<rect x="232.60" y="397.82" width="5.0" height="8.3" fill="#cccccc"/>
<rect x="238.65" y="397.82" width="5.0" height="8.3" fill="#cccccc"/>
<rect x="244.70" y="397.82" width="5.0" height="8.3" fill="#cccccc"/>
<rect x="250.75" y="397.82" width="5.0" height="8.3" fill="#cccccc"/>
<rect x="256.80" y="397.82" width="5.0" height="8.3" fill="#cccccc"/>
<rect x="262.85" y="397.82" width="5.0" height="8.3" fill="#cccccc"/>
<rect x="268.90" y="397.82" width="5.0" height="8.3" fill="#cccccc"/>
<rect x="274.95" y="397.82" width="5.0" height="8.3" fill="#cccccc"/>
<rect x="281.00" y="397.82" width="5.0" height="8.3" fill="#cccccc"/>
<rect x="287.05" y="397.82" width="5.0" height="8.3" fill="#cccccc"/>
<rect x="293.10" y="397.82" width="5.0" height="8.3" fill="#cccccc"/>
<rect x="299.15" y="397.82" width="5.0" height="8.3" fill="#cccccc"/>
<rect x="305.20" y="397.82" width="5.0" height="8.3" fill="#cccccc"/>
<rect x="311.25" y="397.82" width="5.0" height="8.3" fill="#cccccc"/>
<rect x="317.30" y="397.82" width="5.0" height="8.3" fill="#cccccc"/>
<rect x="323.35" y="397.82" width="5.0" height="8.3" fill="#cccccc"/>
<rect x="329.40" y="397.82" width="5.0" height="8.3" fill="#cccccc"/>
<rect x="335.45" y="397.82" width="5.0" height="8.3" fill="#cccccc"/>
<rect x="341.50" y="397.82" width="5.0" height="8.3" fill="#cccccc"/>
<rect x="347.55" y="397.82" width="5.0" height="8.3" fill="#cccccc"/>
<rect x="353.60" y="397.82" width="5.0" height="8.3" fill="#cccccc"/>
<rect x="359.65" y="397.82" width="5.0" height="8.3" fill="#cccccc"/>
<rect x="365.70" y="397.82" width="5.0" height="8.3" fill="#cccccc"/>
<rect x="371.75" y="397.82" width="5.0" height="8.3" fill="#cccccc"/>
<rect x="377.80" y="397.82" width="5.0" height="8.3" fill="#cccccc"/>
<rect x="383.85" y="397.82" width="5.0" height="8.3" fill="#cccccc"/>
<rect x="389.90" y="397.82" width="5.0" height="8.3" fill="#cccccc"/>
<rect x="395.95" y="397.82" width="5.0" height="8.3" fill="#cccccc"/>
<rect x="402.00" y="397.82" width="5.0" height="8.3" fill="#cccccc"/>
<rect x="39.00" y="407.88" width="5.0" height="8.3" fill="#cccccc"/>
<rect x="45.05" y="407.88" width="5.0" height="8.3" fill="#cccccc"/>
<rect x="51.10" y="407.88" width="5.0" height="8.3" fill="#cccccc"/>
<rect x="57.15" y="407.88" width="5.0" height="8.3" fill="#cccccc"/>
<rect x="63.20" y="407.88" width="5.0" height="8.3" fill="#a020f0"/>
<rect x="69.25" y="407.88" width="5.0" height="8.3" fill="#cccccc"/>
<rect x="75.30" y="407.88" width="5.0" height="8.3" fill="#cccccc"/>
<rect x="81.35" y="407.88" width="5.0" height="8.3" fill="#cccccc"/>
<rect x="87.40" y="407.88" width="5.0" height="8.3" fill="#cccccc"/>
<rect x="93.45" y="407.88" width="5.0" height="8.3" fill="#cccccc"/>
<rect x="99.50" y="407.88" width="5.0" height="8.3" fill="#cccccc"/>
<rect x="105.55" y="407.88" width="5.0" height="8.3" fill="#cccccc"/>
<rect x="111.60" y="407.88" width="5.0" height="8.3" fill="#cccccc"/>
<rect x="117.65" y="407.88" width="5.0" height="8.3" fill="#cccccc"/>
<rect x="123.70" y="407.88" width="5.0" height="8.3" fill="#cccccc"/>
<rect x="129.75" y="407.88" width="5.0" height="8.3" fill="#cccccc"/>
<rect x="135.80" y="407.88" width="5.0" height="8.3" fill="#cccccc"/>
<rect x="141.85" y="407.88" width="5.0" height="8.3" fill="#cccccc"/>
<rect x="147.90" y="407.88" width="5.0" height="8.3" fill="#cccccc"/>
<rect x="153.95" y="407.88" width="5.0" height="8.3" fill="#cccccc"/>
<rect x="160.00" y="407.88" width="5.0" height="8.3" fill="#cccccc"/>
<rect x="166.05" y="407.88" width="5.0" height="8.3" fill="#cccccc"/>
<rect x="172.10" y="407.88" width="5.0" height="8.3" fill="#cccccc"/>
<rect x="178.15" y="407.88" width="5.0" height="8.3" fill="#cccccc"/>
<rect x="184.20" y="407.88" width="5.0" height="8.3" fill="#cccccc"/>
<rect x="190.25" y="407.88" width="5.0" height="8.3" fill="#cccccc"/>
<rect x="196.30" y="407.88" width="5.0" height="8.3" fill="#cccccc"/>
<rect x="202.35" y="407.88" width="5.0" height="8.3" fill="#cccccc"/>
<rect x="208.40" y="407.88" width="5.0" height="8.3" fill="#cccccc"/>
<rect x="214.45" y="407.88" width="5.0" height="8.3" fill="#cccccc"/>
<rect x="220.50" y="407.88" width="5.0" height="8.3" fill="#cccccc"/>
<rect x="226.55" y="407.88" width="5.0" height="8.3" fill="#cccccc"/>
<rect x="232.60" y="407.88" width="5.0" height="8.3" fill="#cccccc"/>
<rect x="238.65" y="407.88" width="5.0" height="8.3" fill="#cccccc"/>
<rect x="244.70" y="407.88" width="5.0" height="8.3" fill="#ff0000"/>
<rect x="250.75" y="407.88" width="5.0" height="8.3" fill="#00688b"/>
<rect x="256.80" y="407.88" width="5.0" height="8.3" fill="#cccccc"/>
<rect x="262.85" y="407.88" width="5.0" height="8.3" fill="#cccccc"/>
<rect x="268.90" y="407.88" width="5.0" height="8.3" fill="#cccccc"/>
<rect x="274.95" y="407.88" width="5.0" height="8.3" fill="#cccccc"/>
<rect x="281.00" y="407.88" width="5.0" height="8.3" fill="#cccccc"/>
<rect x="287.05" y="407.88" width="5.0" height="8.3" fill="#cccccc"/>
<rect x="293.10" y="407.88" width="5.0" height="8.3" fill="#cccccc"/>
<rect x="299.15" y="407.88" width="5.0" height="8.3" fill="#cccccc"/>
<rect x="305.20" y="407.88" width="5.0" height="8.3" fill="#cccccc"/>
<rect x="311.25" y="407.88" width="5.0" height="8.3" fill="#cccccc"/>
<rect x="317.30" y="407.88" width="5.0" height="8.3" fill="#cccccc"/>
<rect x="323.35" y="407.88" width="5.0" height="8.3" fill="#cccccc"/>
<rect x="329.40" y="407.88" width="5.0" height="8.3" fill="#cccccc"/>
<rect x="335.45" y="407.88" width="5.0" height="8.3" fill="#cccccc"/>
<rect x="341.50" y="407.88" width="5.0" height="8.3" fill="#cccccc"/>
<rect x="347.55" y="407.88" width="5.0" height="8.3" fill="#cccccc"/>
<rect x="353.60" y="407.88" width="5.0" height="8.3" fill="#cccccc"/>
<rect x="359.65" y="407.88" width="5.0" height="8.3" fill="#cccccc"/>
<rect x="365.70" y="407.88" width="5.0" height="8.3" fill="#cccccc"/>
<rect x="371.75" y="407.88" width="5.0" height="8.3" fill="#cccccc"/>
<rect x="377.80" y="407.88" width="5.0" height="8.3" fill="#cccccc"/>
<rect x="383.85" y="407.88" width="5.0" height="8.3" fill="#cccccc"/>
<rect x="389.90" y="407.88" width="5.0" height="8.3" fill="#cccccc"/>
<rect x="395.95" y="407.88" width="5.0" height="8.3" fill="#cccccc"/>
<rect x="402.00" y="407.88" width="5.0" height="8.3" fill="#cccccc"/>
<rect x="39.00" y="417.94" width="5.0" height="8.3" fill="#cccccc"/>
<rect x="45.05" y="417.94" width="5.0" height="8.3" fill="#cccccc"/>
<rect x="51.10" y="417.94" width="5.0" height="8.3" fill="#cccccc"/>
<rect x="57.15" y="417.94" width="5.0" height="8.3" fill="#cccccc"/>
<rect x="63.20" y="417.94" width="5.0" height="8.3" fill="#cccccc"/>
<rect x="69.25" y="417.94" width="5.0" height="8.3" fill="#cccccc"/>
<rect x="75.30" y="417.94" width="5.0" height="8.3" fill="#cccccc"/>
<rect x="81.35" y="417.94" width="5.0" height="8.3" fill="#cccccc"/>
<rect x="87.40" y="417.94" width="5.0" height="8.3" fill="#cccccc"/>
<rect x="93.45" y="417.94" width="5.0" height="8.3" fill="#cccccc"/>
<rect x="99.50" y="417.94" width="5.0" height="8.3" fill="#cccccc"/>
<rect x="105.55" y="417.94" width="5.0" height="8.3" fill="#cccccc"/>
<rect x="111.60" y="417.94" width="5.0" height="8.3" fill="#cccccc"/>
<rect x="117.65" y="417.94" width="5.0" height="8.3" fill="#cccccc"/>
<rect x="123.70" y="417.94" width="5.0" height="8.3" fill="#cccccc"/>
<rect x="129.75" y="417.94" width="5.0" height="8.3" fill="#cccccc"/>
<rect x="135.80" y="417.94" width="5.0" height="8.3" fill="#cccccc"/>
<rect x="141.85" y="417.94" width="5.0" height="8.3" fill="#cccccc"/>
<rect x="147.90" y="417.94" width="5.0" height="8.3" fill="#ff0000"/>
<rect x="153.95" y="417.94" width="5.0" height="8.3" fill="#cccccc"/>
<rect x="160.00" y="417.94" width="5.0" height="8.3" fill="#cccccc"/>
<rect x="166.05" y="417.94" width="5.0" height="8.3" fill="#cccccc"/>
<rect x="172.10" y="417.94" width="5.0" height="8.3" fill="#cccccc"/>
<rect x="178.15" y="417.94" width="5.0" height="8.3" fill="#cccccc"/>
<rect x="184.20" y="417.94" width="5.0" height="8.3" fill="#cccccc"/>
<rect x="190.25" y="417.94" width="5.0" height="8.3" fill="#cccccc"/>
<rect x="196.30" y="417.94" width="5.0" height="8.3" fill="#cccccc"/>
<rect x="202.35" y="417.94" width="5.0" height="8.3" fill="#cccccc"/>
<rect x="208.40" y="417.94" width="5.0" height="8.3" fill="#cccccc"/>
<rect x="214.45" y="417.94" width="5.0" height="8.3" fill="#cccccc"/>
<rect x="220.50" y="417.94" width="5.0" height="8.3" fill="#cccccc"/>
<rect x="226.55" y="417.94" width="5.0" height="8.3" fill="#cccccc"/>
<rect x="232.60" y="417.94" width="5.0" height="8.3" fill="#cccccc"/>
<rect x="238.65" y="417.94" width="5.0" height="8.3" fill="#cccccc"/>
<rect x="244.70" y="417.94" width="5.0" height="8.3" fill="#cccccc"/>
<rect x="250.75" y="417.94" width="5.0" height="8.3" fill="#cccccc"/>
<rect x="256.80" y="417.94" width="5.0" height="8.3" fill="#cccccc"/>
<rect x="262.85" y="417.94" width="5.0" height="8.3" fill="#cccccc"/>
<rect x="268.90" y="417.94" width="5.0" height="8.3" fill="#cccccc"/>
<rect x="274.95" y="417.94" width="5.0" height="8.3" fill="#cccccc"/>
<rect x="281.00" y="417.94" width="5.0" height="8.3" fill="#cccccc"/>
<rect x="287.05" y="417.94" width="5.0" height="8.3" fill="#cccccc"/>
<rect x="293.10" y="417.94" width="5.0" height="8.3" fill="#00688b"/>
<rect x="299.15" y="417.94" width="5.0" height="8.3" fill="#cccccc"/>
<rect x="305.20" y="417.94" width="5.0" height="8.3" fill="#cccccc"/>
<rect x="311.25" y="417.94" width="5.0" height="8.3" fill="#cccccc"/>
<rect x="317.30" y="417.94" width="5.0" height="8.3" fill="#cccccc"/>
<rect x="323.35" y="417.94" width="5.0" height="8.3" fill="#cccccc"/>
<rect x="329.40" y="417.94" width="5.0" height="8.3" fill="#cccccc"/>
<rect x="335.45" y="417.94" width="5.0" height="8.3" fill="#cccccc"/>
<rect x="341.50" y="417.94" width="5.0" height="8.3" fill="#cccccc"/>
<rect x="347.55" y="417.94" width="5.0" height="8.3" fill="#cccccc"/>
<rect x="353.60" y="417.94" width="5.0" height="8.3" fill="#cccccc"/>
<rect x="359.65" y="417.94" width="5.0" height="8.3" fill="#00688b"/>
<rect x="365.70" y="417.94" width="5.0" height="8.3" fill="#cccccc"/>
<rect x="371.75" y="417.94" width="5.0" height="8.3" fill="#cccccc"/>
<rect x="377.80" y="417.94" width="5.0" height="8.3" fill="#cccccc"/>
<rect x="383.85" y="417.94" width="5.0" height="8.3" fill="#cccccc"/>
<rect x="389.90" y="417.94" width="5.0" height="8.3" fill="#cccccc"/>
<rect x="395.95" y="417.94" width="5.0" height="8.3" fill="#cccccc"/>
<rect x="402.00" y="417.94" width="5.0" height="8.3" fill="#cccccc"/>
<rect x="39.00" y="428.00" width="5.0" height="8.3" fill="#cccccc"/>
<rect x="45.05" y="428.00" width="5.0" height="8.3" fill="#cccccc"/>
<rect x="51.10" y="428.00" width="5.0" height="8.3" fill="#cccccc"/>
<rect x="57.15" y="428.00" width="5.0" height="8.3" fill="#cccccc"/>
<rect x="63.20" y="428.00" width="5.0" height="8.3" fill="#cccccc"/>
<rect x="69.25" y="428.00" width="5.0" height="8.3" fill="#cccccc"/>
<rect x="75.30" y="428.00" width="5.0" height="8.3" fill="#cccccc"/>
<rect x="81.35" y="428.00" width="5.0" height="8.3" fill="#cccccc"/>
<rect x="87.40" y="428.00" width="5.0" height="8.3" fill="#cccccc"/>
<rect x="93.45" y="428.00" width="5.0" height="8.3" fill="#cccccc"/>
<rect x="99.50" y="428.00" width="5.0" height="8.3" fill="#cccccc"/>
<rect x="105.55" y="428.00" width="5.0" height="8.3" fill="#cccccc"/>
<rect x="111.60" y="428.00" width="5.0" height="8.3" fill="#cccccc"/>
<rect x="117.65" y="428.00" width="5.0" height="8.3" fill="#cccccc"/>
<rect x="123.70" y="428.00" width="5.0" height="8.3" fill="#cccccc"/>
<rect x="129.75" y="428.00" width="5.0" height="8.3" fill="#cccccc"/>
<rect x="135.80" y="428.00" width="5.0" height="8.3" fill="#cccccc"/>
<rect x="141.85" y="428.00" width="5.0" height="8.3" fill="#a020f0"/>
<rect x="147.90" y="428.00" width="5.0" height="8.3" fill="#cccccc"/>
<rect x="153.95" y="428.00" width="5.0" height="8.3" fill="#cccccc"/>
<rect x="160.00" y="428.00" width="5.0" height="8.3" fill="#cccccc"/>
<rect x="166.05" y="428.00" width="5.0" height="8.3" fill="#cccccc"/>
<rect x="172.10" y="428.00" width="5.0" height="8.3" fill="#cccccc"/>
<rect x="178.15" y="428.00" width="5.0" height="8.3" fill="#cccccc"/>
<rect x="184.20" y="428.00" width="5.0" height="8.3" fill="#cccccc"/>
<rect x="190.25" y="428.00" width="5.0" height="8.3" fill="#cccccc"/>
<rect x="196.30" y="428.00" width="5.0" height="8.3" fill="#cccccc"/>
<rect x="202.35" y="428.00" width="5.0" height="8.3" fill="#cccccc"/>
<rect x="208.40" y="428.00" width="5.0" height="8.3" fill="#cccccc"/>
<rect x="214.45" y="428.00" width="5.0" height="8.3" fill="#48d1cc"/>
<rect x="220.50" y="428.00" width="5.0" height="8.3" fill="#cccccc"/>
<rect x="226.55" y="428.00" width="5.0" height="8.3" fill="#cccccc"/>
<rect x="232.60" y="428.00" width="5.0" height="8.3" fill="#cccccc"/>
<rect x="238.65" y="428.00" width="5.0" height="8.3" fill="#cccccc"/>
<rect x="244.70" y="428.00" width="5.0" height="8.3" fill="#cccccc"/>
<rect x="250.75" y="428.00" width="5.0" height="8.3" fill="#cccccc"/>
<rect x="256.80" y="428.00" width="5.0" height="8.3" fill="#cccccc"/>
<rect x="262.85" y="428.00" width="5.0" height="8.3" fill="#cccccc"/>
<rect x="268.90" y="428.00" width="5.0" height="8.3" fill="#cccccc"/>
<rect x="274.95" y="428.00" width="5.0" height="8.3" fill="#cccccc"/>
<rect x="281.00" y="428.00" width="5.0" height="8.3" fill="#cccccc"/>
<rect x="287.05" y="428.00" width="5.0" height="8.3" fill="#cccccc"/>
<rect x="293.10" y="428.00" width="5.0" height="8.3" fill="#cccccc"/>
<rect x="299.15" y="428.00" width="5.0" height="8.3" fill="#cccccc"/>
<rect x="305.20" y="428.00" width="5.0" height="8.3" fill="#cccccc"/>
<rect x="311.25" y="428.00" width="5.0" height="8.3" fill="#cccccc"/>
<rect x="317.30" y="428.00" width="5.0" height="8.3" fill="#cccccc"/>
<rect x="323.35" y="428.00" width="5.0" height="8.3" fill="#cccccc"/>
<rect x="329.40" y="428.00" width="5.0" height="8.3" fill="#cccccc"/>
<rect x="335.45" y="428.00" width="5.0" height="8.3" fill="#00688b"/>
<rect x="341.50" y="428.00" width="5.0" height="8.3" fill="#cccccc"/>
<rect x="347.55" y="428.00" width="5.0" height="8.3" fill="#cccccc"/>
<rect x="353.60" y="428.00" width="5.0" height="8.3" fill="#cccccc"/>
<rect x="359.65" y="428.00" width="5.0" height="8.3" fill="#cccccc"/>
<rect x="365.70" y="428.00" width="5.0" height="8.3" fill="#cccccc"/>
<rect x="371.75" y="428.00" width="5.0" height="8.3" fill="#cccccc"/>
<rect x="377.80" y="428.00" width="5.0" height="8.3" fill="#cccccc"/>
<rect x="383.85" y="428.00" width="5.0" height="8.3" fill="#cccccc"/>
<rect x="389.90" y="428.00" width="5.0" height="8.3" fill="#cccccc"/>
<rect x="395.95" y="428.00" width="5.0" height="8.3" fill="#cccccc"/>
<rect x="402.00" y="428.00" width="5.0" height="8.3" fill="#cccccc"/>
<rect x="39.00" y="438.06" width="5.0" height="8.3" fill="#cccccc"/>
<rect x="45.05" y="438.06" width="5.0" height="8.3" fill="#cccccc"/>
<rect x="51.10" y="438.06" width="5.0" height="8.3" fill="#cccccc"/>
<rect x="57.15" y="438.06" width="5.0" height="8.3" fill="#cccccc"/>
<rect x="63.20" y="438.06" width="5.0" height="8.3" fill="#cccccc"/>
<rect x="69.25" y="438.06" width="5.0" height="8.3" fill="#cccccc"/>
<rect x="75.30" y="438.06" width="5.0" height="8.3" fill="#cccccc"/>
<rect x="81.35" y="438.06" width="5.0" height="8.3" fill="#cccccc"/>
<rect x="87.40" y="438.06" width="5.0" height="8.3" fill="#cccccc"/>
<rect x="93.45" y="438.06" width="5.0" height="8.3" fill="#cccccc"/>
<rect x="99.50" y="438.06" width="5.0" height="8.3" fill="#cccccc"/>
<rect x="105.55" y="438.06" width="5.0" height="8.3" fill="#cccccc"/>
<rect x="111.60" y="438.06" width="5.0" height="8.3" fill="#cccccc"/>
<rect x="117.65" y="438.06" width="5.0" height="8.3" fill="#cccccc"/>
<rect x="123.70" y="438.06" width="5.0" height="8.3" fill="#00688b"/>
<rect x="129.75" y="438.06" width="5.0" height="8.3" fill="#cccccc"/>
<rect x="135.80" y="438.06" width="5.0" height="8.3" fill="#cccccc"/>
<rect x="141.85" y="438.06" width="5.0" height="8.3" fill="#cccccc"/>
<rect x="147.90" y="438.06" width="5.0" height="8.3" fill="#cccccc"/>
<rect x="153.95" y="438.06" width="5.0" height="8.3" fill="#cccccc"/>
<rect x="160.00" y="438.06" width="5.0" height="8.3" fill="#cccccc"/>
<rect x="166.05" y="438.06" width="5.0" height="8.3" fill="#cccccc"/>
<rect x="172.10" y="438.06" width="5.0" height="8.3" fill="#cccccc"/>
<rect x="178.15" y="438.06" width="5.0" height="8.3" fill="#cccccc"/>
<rect x="184.20" y="438.06" width="5.0" height="8.3" fill="#cccccc"/>
<rect x="190.25" y="438.06" width="5.0" height="8.3" fill="#00688b"/>
<rect x="196.30" y="438.06" width="5.0" height="8.3" fill="#cccccc"/>
<rect x="202.35" y="438.06" width="5.0" height="8.3" fill="#cccccc"/>
<rect x="208.40" y="438.06" width="5.0" height="8.3" fill="#cccccc"/>
<rect x="214.45" y="438.06" width="5.0" height="8.3" fill="#cccccc"/>
<rect x="220.50" y="438.06" width="5.0" height="8.3" fill="#cccccc"/>
<rect x="226.55" y="438.06" width="5.0" height="8.3" fill="#cccccc"/>
<rect x="232.60" y="438.06" width="5.0" height="8.3" fill="#cccccc"/>
<rect x="238.65" y="438.06" width="5.0" height="8.3" fill="#cccccc"/>
<rect x="244.70" y="438.06" width="5.0" height="8.3" fill="#cccccc"/>
<rect x="250.75" y="438.06" width="5.0" height="8.3" fill="#cccccc"/>
<rect x="256.80" y="438.06" width="5.0" height="8.3" fill="#cccccc"/>
<rect x="262.85" y="438.06" width="5.0" height="8.3" fill="#cccccc"/>
<rect x="268.90" y="438.06" width="5.0" height="8.3" fill="#cccccc"/>
<rect x="274.95" y="438.06" width="5.0" height="8.3" fill="#cccccc"/>
<rect x="281.00" y="438.06" width="5.0" height="8.3" fill="#cccccc"/>
<rect x="287.05" y="438.06" width="5.0" height="8.3" fill="#cccccc"/>
<rect x="293.10" y="438.06" width="5.0" height="8.3" fill="#cccccc"/>
<rect x="299.15" y="438.06" width="5.0" height="8.3" fill="#cccccc"/>
<rect x="305.20" y="438.06" width="5.0" height="8.3" fill="#cccccc"/>
<rect x="311.25" y="438.06" width="5.0" height="8.3" fill="#cccccc"/>
<rect x="317.30" y="438.06" width="5.0" height="8.3" fill="#ff0000"/>
<rect x="323.35" y="438.06" width="5.0" height="8.3" fill="#cccccc"/>
<rect x="329.40" y="438.06" width="5.0" height="8.3" fill="#cccccc"/>
<rect x="335.45" y="438.06" width="5.0" height="8.3" fill="#cccccc"/>
<rect x="341.50" y="438.06" width="5.0" height="8.3" fill="#cccccc"/>
<rect x="347.55" y="438.06" width="5.0" height="8.3" fill="#cccccc"/>
<rect x="353.60" y="438.06" width="5.0" height="8.3" fill="#cccccc"/>
<rect x="359.65" y="438.06" width="5.0" height="8.3" fill="#cccccc"/>
<rect x="365.70" y="438.06" width="5.0" height="8.3" fill="#cccccc"/>
<rect x="371.75" y="438.06" width="5.0" height="8.3" fill="#cccccc"/>
<rect x="377.80" y="438.06" width="5.0" height="8.3" fill="#cccccc"/>
<rect x="383.85" y="438.06" width="5.0" height="8.3" fill="#cccccc"/>
<rect x="389.90" y="438.06" width="5.0" height="8.3" fill="#cccccc"/>
<rect x="395.95" y="438.06" width="5.0" height="8.3" fill="#cccccc"/>
<rect x="402.00" y="438.06" width="5.0" height="8.3" fill="#cccccc"/>
<rect x="39.00" y="448.12" width="5.0" height="8.3" fill="#cccccc"/>
<rect x="45.05" y="448.12" width="5.0" height="8.3" fill="#cccccc"/>
<rect x="51.10" y="448.12" width="5.0" height="8.3" fill="#cccccc"/>
<rect x="57.15" y="448.12" width="5.0" height="8.3" fill="#cccccc"/>
<rect x="63.20" y="448.12" width="5.0" height="8.3" fill="#cccccc"/>
<rect x="69.25" y="448.12" width="5.0" height="8.3" fill="#cccccc"/>
<rect x="75.30" y="448.12" width="5.0" height="8.3" fill="#cccccc"/>
<rect x="81.35" y="448.12" width="5.0" height="8.3" fill="#cccccc"/>
<rect x="87.40" y="448.12" width="5.0" height="8.3" fill="#cccccc"/>
<rect x="93.45" y="448.12" width="5.0" height="8.3" fill="#cccccc"/>
<rect x="99.50" y="448.12" width="5.0" height="8.3" fill="#cccccc"/>
<rect x="105.55" y="448.12" width="5.0" height="8.3" fill="#cccccc"/>
<rect x="111.60" y="448.12" width="5.0" height="8.3" fill="#cccccc"/>
<rect x="117.65" y="448.12" width="5.0" height="8.3" fill="#cccccc"/>
<rect x="123.70" y="448.12" width="5.0" height="8.3" fill="#cccccc"/>
<rect x="129.75" y="448.12" width="5.0" height="8.3" fill="#cccccc"/>
<rect x="135.80" y="448.12" width="5.0" height="8.3" fill="#00688b"/>
<rect x="141.85" y="448.12" width="5.0" height="8.3" fill="#cccccc"/>
<rect x="147.90" y="448.12" width="5.0" height="8.3" fill="#cccccc"/>
<rect x="153.95" y="448.12" width="5.0" height="8.3" fill="#cccccc"/>
<rect x="160.00" y="448.12" width="5.0" height="8.3" fill="#cccccc"/>
<rect x="166.05" y="448.12" width="5.0" height="8.3" fill="#cccccc"/>
<rect x="172.10" y="448.12" width="5.0" height="8.3" fill="#cccccc"/>
<rect x="178.15" y="448.12" width="5.0" height="8.3" fill="#cccccc"/>
<rect x="184.20" y="448.12" width="5.0" height="8.3" fill="#cccccc"/>
<rect x="190.25" y="448.12" width="5.0" height="8.3" fill="#cccccc"/>
<rect x="196.30" y="448.12" width="5.0" height="8.3" fill="#cccccc"/>
<rect x="202.35" y="448.12" width="5.0" height="8.3" fill="#cccccc"/>
<rect x="208.40" y="448.12" width="5.0" height="8.3" fill="#cccccc"/>
<rect x="214.45" y="448.12" width="5.0" height="8.3" fill="#cccccc"/>
<rect x="220.50" y="448.12" width="5.0" height="8.3" fill="#cccccc"/>
<rect x="226.55" y="448.12" width="5.0" height="8.3" fill="#cccccc"/>
<rect x="232.60" y="448.12" width="5.0" height="8.3" fill="#cccccc"/>
<rect x="238.65" y="448.12" width="5.0" height="8.3" fill="#cccccc"/>
<rect x="244.70" y="448.12" width="5.0" height="8.3" fill="#cccccc"/>
<rect x="250.75" y="448.12" width="5.0" height="8.3" fill="#cccccc"/>
<rect x="256.80" y="448.12" width="5.0" height="8.3" fill="#cccccc"/>
<rect x="262.85" y="448.12" width="5.0" height="8.3" fill="#cccccc"/>
<rect x="268.90" y="448.12" width="5.0" height="8.3" fill="#cccccc"/>
<rect x="274.95" y="448.12" width="5.0" height="8.3" fill="#cccccc"/>
<rect x="281.00" y="448.12" width="5.0" height="8.3" fill="#cccccc"/>
<rect x="287.05" y="448.12" width="5.0" height="8.3" fill="#cccccc"/>
<rect x="293.10" y="448.12" width="5.0" height="8.3" fill="#cccccc"/>
<rect x="299.15" y="448.12" width="5.0" height="8.3" fill="#cccccc"/>
<rect x="305.20" y="448.12" width="5.0" height="8.3" fill="#cccccc"/>
<rect x="311.25" y="448.12" width="5.0" height="8.3" fill="#cccccc"/>
<rect x="317.30" y="448.12" width="5.0" height="8.3" fill="#cccccc"/>
<rect x="323.35" y="448.12" width="5.0" height="8.3" fill="#cccccc"/>
<rect x="329.40" y="448.12" width="5.0" height="8.3" fill="#cccccc"/>
<rect x="335.45" y="448.12" width="5.0" height="8.3" fill="#cccccc"/>
<rect x="341.50" y="448.12" width="5.0" height="8.3" fill="#cccccc"/>
<rect x="347.55" y="448.12" width="5.0" height="8.3" fill="#cccccc"/>
<rect x="353.60" y="448.12" width="5.0" height="8.3" fill="#cccccc"/>
<rect x="359.65" y="448.12" width="5.0" height="8.3" fill="#cccccc"/>
<rect x="365.70" y="448.12" width="5.0" height="8.3" fill="#48d1cc"/>
<rect x="371.75" y="448.12" width="5.0" height="8.3" fill="#cccccc"/>
<rect x="377.80" y="448.12" width="5.0" height="8.3" fill="#cccccc"/>
<rect x="383.85" y="448.12" width="5.0" height="8.3" fill="#cccccc"/>
<rect x="389.90" y="448.12" width="5.0" height="8.3" fill="#cccccc"/>
<rect x="395.95" y="448.12" width="5.0" height="8.3" fill="#cccccc"/>
<rect x="402.00" y="448.12" width="5.0" height="8.3" fill="#cccccc"/>
<rect x="39.00" y="458.18" width="5.0" height="8.3" fill="#cccccc"/>
<rect x="45.05" y="458.18" width="5.0" height="8.3" fill="#cccccc"/>
<rect x="51.10" y="458.18" width="5.0" height="8.3" fill="#cccccc"/>
<rect x="57.15" y="458.18" width="5.0" height="8.3" fill="#cccccc"/>
<rect x="63.20" y="458.18" width="5.0" height="8.3" fill="#cccccc"/>
<rect x="69.25" y="458.18" width="5.0" height="8.3" fill="#cccccc"/>
<rect x="75.30" y="458.18" width="5.0" height="8.3" fill="#cccccc"/>
<rect x="81.35" y="458.18" width="5.0" height="8.3" fill="#cccccc"/>
<rect x="87.40" y="458.18" width="5.0" height="8.3" fill="#cccccc"/>
<rect x="93.45" y="458.18" width="5.0" height="8.3" fill="#cccccc"/>
<rect x="99.50" y="458.18" width="5.0" height="8.3" fill="#cccccc"/>
<rect x="105.55" y="458.18" width="5.0" height="8.3" fill="#cccccc"/>
<rect x="111.60" y="458.18" width="5.0" height="8.3" fill="#cccccc"/>
<rect x="117.65" y="458.18" width="5.0" height="8.3" fill="#cccccc"/>
<rect x="123.70" y="458.18" width="5.0" height="8.3" fill="#cccccc"/>
<rect x="129.75" y="458.18" width="5.0" height="8.3" fill="#cccccc"/>
<rect x="135.80" y="458.18" width="5.0" height="8.3" fill="#cccccc"/>
<rect x="141.85" y="458.18" width="5.0" height="8.3" fill="#cccccc"/>
<rect x="147.90" y="458.18" width="5.0" height="8.3" fill="#cccccc"/>
<rect x="153.95" y="458.18" width="5.0" height="8.3" fill="#cccccc"/>
<rect x="160.00" y="458.18" width="5.0" height="8.3" fill="#cccccc"/>
<rect x="166.05" y="458.18" width="5.0" height="8.3" fill="#cccccc"/>
<rect x="172.10" y="458.18" width="5.0" height="8.3" fill="#262120"/>
<rect x="178.15" y="458.18" width="5.0" height="8.3" fill="#cccccc"/>
<rect x="184.20" y="458.18" width="5.0" height="8.3" fill="#cccccc"/>
<rect x="190.25" y="458.18" width="5.0" height="8.3" fill="#cccccc"/>
<rect x="196.30" y="458.18" width="5.0" height="8.3" fill="#cccccc"/>
<rect x="202.35" y="458.18" width="5.0" height="8.3" fill="#cccccc"/>
<rect x="208.40" y="458.18" width="5.0" height="8.3" fill="#cccccc"/>
<rect x="214.45" y="458.18" width="5.0" height="8.3" fill="#cccccc"/>
<rect x="220.50" y="458.18" width="5.0" height="8.3" fill="#cccccc"/>
<rect x="226.55" y="458.18" width="5.0" height="8.3" fill="#cccccc"/>
<rect x="232.60" y="458.18" width="5.0" height="8.3" fill="#cccccc"/>
<rect x="238.65" y="458.18" width="5.0" height="8.3" fill="#cccccc"/>
<rect x="244.70" y="458.18" width="5.0" height="8.3" fill="#cccccc"/>
<rect x="250.75" y="458.18" width="5.0" height="8.3" fill="#cccccc"/>
<rect x="256.80" y="458.18" width="5.0" height="8.3" fill="#ff0000"/>
<rect x="262.85" y="458.18" width="5.0" height="8.3" fill="#cccccc"/>
<rect x="268.90" y="458.18" width="5.0" height="8.3" fill="#cccccc"/>
<rect x="274.95" y="458.18" width="5.0" height="8.3" fill="#cccccc"/>
<rect x="281.00" y="458.18" width="5.0" height="8.3" fill="#cccccc"/>
<rect x="287.05" y="458.18" width="5.0" height="8.3" fill="#cccccc"/>
<rect x="293.10" y="458.18" width="5.0" height="8.3" fill="#cccccc"/>
<rect x="299.15" y="458.18" width="5.0" height="8.3" fill="#cccccc"/>
<rect x="305.20" y="458.18" width="5.0" height="8.3" fill="#cccccc"/>
<rect x="311.25" y="458.18" width="5.0" height="8.3" fill="#cccccc"/>
<rect x="317.30" y="458.18" width="5.0" height="8.3" fill="#cccccc"/>
<rect x="323.35" y="458.18" width="5.0" height="8.3" fill="#cccccc"/>
<rect x="329.40" y="458.18" width="5.0" height="8.3" fill="#cccccc"/>
<rect x="335.45" y="458.18" width="5.0" height="8.3" fill="#cccccc"/>
<rect x="341.50" y="458.18" width="5.0" height="8.3" fill="#cccccc"/>
<rect x="347.55" y="458.18" width="5.0" height="8.3" fill="#cccccc"/>
<rect x="353.60" y="458.18" width="5.0" height="8.3" fill="#cccccc"/>
<rect x="359.65" y="458.18" width="5.0" height="8.3" fill="#cccccc"/>
<rect x="365.70" y="458.18" width="5.0" height="8.3" fill="#cccccc"/>
<rect x="371.75" y="458.18" width="5.0" height="8.3" fill="#cccccc"/>
<rect x="377.80" y="458.18" width="5.0" height="8.3" fill="#cccccc"/>
<rect x="383.85" y="458.18" width="5.0" height="8.3" fill="#cccccc"/>
<rect x="389.90" y="458.18" width="5.0" height="8.3" fill="#cccccc"/>
<rect x="395.95" y="458.18" width="5.0" height="8.3" fill="#cccccc"/>
<rect x="402.00" y="458.18" width="5.0" height="8.3" fill="#cccccc"/>
<rect x="39.00" y="468.24" width="5.0" height="8.3" fill="#cccccc"/>
<rect x="45.05" y="468.24" width="5.0" height="8.3" fill="#cccccc"/>
<rect x="51.10" y="468.24" width="5.0" height="8.3" fill="#cccccc"/>
<rect x="57.15" y="468.24" width="5.0" height="8.3" fill="#cccccc"/>
<rect x="63.20" y="468.24" width="5.0" height="8.3" fill="#cccccc"/>
<rect x="69.25" y="468.24" width="5.0" height="8.3" fill="#cccccc"/>
<rect x="75.30" y="468.24" width="5.0" height="8.3" fill="#cccccc"/>
<rect x="81.35" y="468.24" width="5.0" height="8.3" fill="#cccccc"/>
<rect x="87.40" y="468.24" width="5.0" height="8.3" fill="#cccccc"/>
<rect x="93.45" y="468.24" width="5.0" height="8.3" fill="#cccccc"/>
<rect x="99.50" y="468.24" width="5.0" height="8.3" fill="#cccccc"/>
<rect x="105.55" y="468.24" width="5.0" height="8.3" fill="#cccccc"/>
<rect x="111.60" y="468.24" width="5.0" height="8.3" fill="#cccccc"/>
<rect x="117.65" y="468.24" width="5.0" height="8.3" fill="#cccccc"/>
<rect x="123.70" y="468.24" width="5.0" height="8.3" fill="#cccccc"/>
<rect x="129.75" y="468.24" width="5.0" height="8.3" fill="#cccccc"/>
<rect x="135.80" y="468.24" width="5.0" height="8.3" fill="#cccccc"/>
<rect x="141.85" y="468.24" width="5.0" height="8.3" fill="#cccccc"/>
<rect x="147.90" y="468.24" width="5.0" height="8.3" fill="#cccccc"/>
<rect x="153.95" y="468.24" width="5.0" height="8.3" fill="#cccccc"/>
<rect x="160.00" y="468.24" width="5.0" height="8.3" fill="#cccccc"/>
<rect x="166.05" y="468.24" width="5.0" height="8.3" fill="#cccccc"/>
<rect x="172.10" y="468.24" width="5.0" height="8.3" fill="#cccccc"/>
<rect x="178.15" y="468.24" width="5.0" height="8.3" fill="#cccccc"/>
<rect x="184.20" y="468.24" width="5.0" height="8.3" fill="#cccccc"/>
<rect x="190.25" y="468.24" width="5.0" height="8.3" fill="#cccccc"/>
<rect x="196.30" y="468.24" width="5.0" height="8.3" fill="#cccccc"/>
<rect x="202.35" y="468.24" width="5.0" height="8.3" fill="#cccccc"/>
<rect x="208.40" y="468.24" width="5.0" height="8.3" fill="#cccccc"/>
<rect x="214.45" y="468.24" width="5.0" height="8.3" fill="#cccccc"/>
<rect x="220.50" y="468.24" width="5.0" height="8.3" fill="#cccccc"/>
<rect x="226.55" y="468.24" width="5.0" height="8.3" fill="#cccccc"/>
<rect x="232.60" y="468.24" width="5.0" height="8.3" fill="#cccccc"/>
<rect x="238.65" y="468.24" width="5.0" height="8.3" fill="#cccccc"/>
<rect x="244.70" y="468.24" width="5.0" height="8.3" fill="#cccccc"/>
<rect x="250.75" y="468.24" width="5.0" height="8.3" fill="#cccccc"/>
<rect x="256.80" y="468.24" width="5.0" height="8.3" fill="#cccccc"/>
<rect x="262.85" y="468.24" width="5.0" height="8.3" fill="#cccccc"/>
<rect x="268.90" y="468.24" width="5.0" height="8.3" fill="#262120"/>
<rect x="274.95" y="468.24" width="5.0" height="8.3" fill="#cccccc"/>
<rect x="281.00" y="468.24" width="5.0" height="8.3" fill="#cccccc"/>
<rect x="287.05" y="468.24" width="5.0" height="8.3" fill="#cccccc"/>
<rect x="293.10" y="468.24" width="5.0" height="8.3" fill="#cccccc"/>
<rect x="299.15" y="468.24" width="5.0" height="8.3" fill="#ff0000"/>
<rect x="305.20" y="468.24" width="5.0" height="8.3" fill="#cccccc"/>
<rect x="311.25" y="468.24" width="5.0" height="8.3" fill="#cccccc"/>
<rect x="317.30" y="468.24" width="5.0" height="8.3" fill="#cccccc"/>
<rect x="323.35" y="468.24" width="5.0" height="8.3" fill="#cccccc"/>
<rect x="329.40" y="468.24" width="5.0" height="8.3" fill="#cccccc"/>
<rect x="335.45" y="468.24" width="5.0" height="8.3" fill="#cccccc"/>
<rect x="341.50" y="468.24" width="5.0" height="8.3" fill="#cccccc"/>
<rect x="347.55" y="468.24" width="5.0" height="8.3" fill="#cccccc"/>
<rect x="353.60" y="468.24" width="5.0" height="8.3" fill="#cccccc"/>
<rect x="359.65" y="468.24" width="5.0" height="8.3" fill="#cccccc"/>
<rect x="365.70" y="468.24" width="5.0" height="8.3" fill="#cccccc"/>
<rect x="371.75" y="468.24" width="5.0" height="8.3" fill="#cccccc"/>
<rect x="377.80" y="468.24" width="5.0" height="8.3" fill="#cccccc"/>
<rect x="383.85" y="468.24" width="5.0" height="8.3" fill="#cccccc"/>
<rect x="389.90" y="468.24" width="5.0" height="8.3" fill="#cccccc"/>
<rect x="395.95" y="468.24" width="5.0" height="8.3" fill="#cccccc"/>
<rect x="402.00" y="468.24" width="5.0" height="8.3" fill="#cccccc"/>
<rect x="39.00" y="478.30" width="5.0" height="8.3" fill="#cccccc"/>
<rect x="45.05" y="478.30" width="5.0" height="8.3" fill="#cccccc"/>
<rect x="51.10" y="478.30" width="5.0" height="8.3" fill="#ff0000"/>
<rect x="57.15" y="478.30" width="5.0" height="8.3" fill="#cccccc"/>
<rect x="63.20" y="478.30" width="5.0" height="8.3" fill="#cccccc"/>
<rect x="69.25" y="478.30" width="5.0" height="8.3" fill="#cccccc"/>
<rect x="75.30" y="478.30" width="5.0" height="8.3" fill="#cccccc"/>
<rect x="81.35" y="478.30" width="5.0" height="8.3" fill="#cccccc"/>
<rect x="87.40" y="478.30" width="5.0" height="8.3" fill="#ff0000"/>
<rect x="93.45" y="478.30" width="5.0" height="8.3" fill="#cccccc"/>
<rect x="99.50" y="478.30" width="5.0" height="8.3" fill="#cccccc"/>
<rect x="105.55" y="478.30" width="5.0" height="8.3" fill="#cccccc"/>
<rect x="111.60" y="478.30" width="5.0" height="8.3" fill="#cccccc"/>
<rect x="117.65" y="478.30" width="5.0" height="8.3" fill="#cccccc"/>
<rect x="123.70" y="478.30" width="5.0" height="8.3" fill="#cccccc"/>
<rect x="129.75" y="478.30" width="5.0" height="8.3" fill="#cccccc"/>
<rect x="135.80" y="478.30" width="5.0" height="8.3" fill="#cccccc"/>
<rect x="141.85" y="478.30" width="5.0" height="8.3" fill="#cccccc"/>
<rect x="147.90" y="478.30" width="5.0" height="8.3" fill="#cccccc"/>
<rect x="153.95" y="478.30" width="5.0" height="8.3" fill="#cccccc"/>
<rect x="160.00" y="478.30" width="5.0" height="8.3" fill="#cccccc"/>
<rect x="166.05" y="478.30" width="5.0" height="8.3" fill="#cccccc"/>
<rect x="172.10" y="478.30" width="5.0" height="8.3" fill="#cccccc"/>
<rect x="178.15" y="478.30" width="5.0" height="8.3" fill="#cccccc"/>
<rect x="184.20" y="478.30" width="5.0" height="8.3" fill="#cccccc"/>
<rect x="190.25" y="478.30" width="5.0" height="8.3" fill="#cccccc"/>
<rect x="196.30" y="478.30" width="5.0" height="8.3" fill="#cccccc"/>
<rect x="202.35" y="478.30" width="5.0" height="8.3" fill="#cccccc"/>
<rect x="208.40" y="478.30" width="5.0" height="8.3" fill="#cccccc"/>
<rect x="214.45" y="478.30" width="5.0" height="8.3" fill="#cccccc"/>
<rect x="220.50" y="478.30" width="5.0" height="8.3" fill="#cccccc"/>
<rect x="226.55" y="478.30" width="5.0" height="8.3" fill="#cccccc"/>
<rect x="232.60" y="478.30" width="5.0" height="8.3" fill="#cccccc"/>
<rect x="238.65" y="478.30" width="5.0" height="8.3" fill="#cccccc"/>
<rect x="244.70" y="478.30" width="5.0" height="8.3" fill="#cccccc"/>
<rect x="250.75" y="478.30" width="5.0" height="8.3" fill="#cccccc"/>
<rect x="256.80" y="478.30" width="5.0" height="8.3" fill="#cccccc"/>
<rect x="262.85" y="478.30" width="5.0" height="8.3" fill="#cccccc"/>
<rect x="268.90" y="478.30" width="5.0" height="8.3" fill="#cccccc"/>
<rect x="274.95" y="478.30" width="5.0" height="8.3" fill="#cccccc"/>
<rect x="281.00" y="478.30" width="5.0" height="8.3" fill="#cccccc"/>
<rect x="287.05" y="478.30" width="5.0" height="8.3" fill="#cccccc"/>
<rect x="293.10" y="478.30" width="5.0" height="8.3" fill="#cccccc"/>
<rect x="299.15" y="478.30" width="5.0" height="8.3" fill="#cccccc"/>
<rect x="305.20" y="478.30" width="5.0" height="8.3" fill="#cccccc"/>
<rect x="311.25" y="478.30" width="5.0" height="8.3" fill="#cccccc"/>
<rect x="317.30" y="478.30" width="5.0" height="8.3" fill="#cccccc"/>
<rect x="323.35" y="478.30" width="5.0" height="8.3" fill="#cccccc"/>
<rect x="329.40" y="478.30" width="5.0" height="8.3" fill="#cccccc"/>
<rect x="335.45" y="478.30" width="5.0" height="8.3" fill="#cccccc"/>
<rect x="341.50" y="478.30" width="5.0" height="8.3" fill="#cccccc"/>
<rect x="347.55" y="478.30" width="5.0" height="8.3" fill="#cccccc"/>
<rect x="353.60" y="478.30" width="5.0" height="8.3" fill="#cccccc"/>
<rect x="359.65" y="478.30" width="5.0" height="8.3" fill="#cccccc"/>
<rect x="365.70" y="478.30" width="5.0" height="8.3" fill="#cccccc"/>
<rect x="371.75" y="478.30" width="5.0" height="8.3" fill="#cccccc"/>
<rect x="377.80" y="478.30" width="5.0" height="8.3" fill="#cccccc"/>
<rect x="383.85" y="478.30" width="5.0" height="8.3" fill="#cccccc"/>
<rect x="389.90" y="478.30" width="5.0" height="8.3" fill="#cccccc"/>
<rect x="395.95" y="478.30" width="5.0" height="8.3" fill="#cccccc"/>
<rect x="402.00" y="478.30" width="5.0" height="8.3" fill="#cccccc"/>
</g>
<rect x="39.60" y="66.64" width="3.8" height="5.16" fill="#48d1cc"/>
<rect x="39.60" y="61.48" width="3.8" height="5.16" fill="#ff0000"/>
<rect x="39.60" y="46.00" width="3.8" height="15.48" fill="#00688b"/>
<rect x="45.65" y="66.64" width="3.8" height="5.16" fill="#a020f0"/>
<rect x="45.65" y="61.48" width="3.8" height="5.16" fill="#00688b"/>
<rect x="51.70" y="66.64" width="3.8" height="5.16" fill="#48d1cc"/>
<rect x="51.70" y="56.32" width="3.8" height="10.32" fill="#ff0000"/>
<rect x="51.70" y="46.00" width="3.8" height="10.32" fill="#00688b"/>
<rect x="57.75" y="66.64" width="3.8" height="5.16" fill="#a020f0"/>
<rect x="57.75" y="61.48" width="3.8" height="5.16" fill="#00688b"/>
<rect x="57.75" y="56.32" width="3.8" height="5.16" fill="#262120"/>
<rect x="63.80" y="66.64" width="3.8" height="5.16" fill="#a020f0"/>
<rect x="63.80" y="61.48" width="3.8" height="5.16" fill="#00688b"/>
<rect x="63.80" y="56.32" width="3.8" height="5.16" fill="#262120"/>
<rect x="69.85" y="66.64" width="3.8" height="5.16" fill="#48d1cc"/>
<rect x="69.85" y="61.48" width="3.8" height="5.16" fill="#262120"/>
<rect x="75.90" y="66.64" width="3.8" height="5.16" fill="#a020f0"/>
<rect x="75.90" y="56.32" width="3.8" height="10.32" fill="#00688b"/>
<rect x="81.95" y="66.64" width="3.8" height="5.16" fill="#48d1cc"/>
<rect x="81.95" y="56.32" width="3.8" height="10.32" fill="#00688b"/>
<rect x="81.95" y="51.16" width="3.8" height="5.16" fill="#262120"/>
<rect x="88.00" y="66.64" width="3.8" height="5.16" fill="#48d1cc"/>
<rect x="88.00" y="56.32" width="3.8" height="10.32" fill="#ff0000"/>
<rect x="88.00" y="30.52" width="3.8" height="25.80" fill="#00688b"/>
<rect x="94.05" y="66.64" width="3.8" height="5.16" fill="#48d1cc"/>
<rect x="94.05" y="51.16" width="3.8" height="15.48" fill="#00688b"/>
<rect x="94.05" y="35.68" width="3.8" height="15.48" fill="#262120"/>
<rect x="100.10" y="66.64" width="3.8" height="5.16" fill="#00688b"/>
<rect x="106.15" y="66.64" width="3.8" height="5.16" fill="#48d1cc"/>
<rect x="112.20" y="66.64" width="3.8" height="5.16" fill="#48d1cc"/>
<rect x="112.20" y="61.48" width="3.8" height="5.16" fill="#ff0000"/>
<rect x="112.20" y="46.00" width="3.8" height="15.48" fill="#00688b"/>
<rect x="118.25" y="51.16" width="3.8" height="20.64" fill="#a020f0"/>
<rect x="118.25" y="40.84" width="3.8" height="10.32" fill="#48d1cc"/>
<rect x="118.25" y="35.68" width="3.8" height="5.16" fill="#ff0000"/>
<rect x="118.25" y="25.36" width="3.8" height="10.32" fill="#00688b"/>
<rect x="124.30" y="66.64" width="3.8" height="5.16" fill="#a020f0"/>
<rect x="124.30" y="61.48" width="3.8" height="5.16" fill="#ff0000"/>
<rect x="124.30" y="51.16" width="3.8" height="10.32" fill="#00688b"/>
<rect x="124.30" y="46.00" width="3.8" height="5.16" fill="#262120"/>
<rect x="130.35" y="66.64" width="3.8" height="5.16" fill="#48d1cc"/>
<rect x="130.35" y="61.48" width="3.8" height="5.16" fill="#ff0000"/>
<rect x="130.35" y="40.84" width="3.8" height="20.64" fill="#00688b"/>
<rect x="130.35" y="35.68" width="3.8" height="5.16" fill="#262120"/>
<rect x="136.40" y="66.64" width="3.8" height="5.16" fill="#a020f0"/>
<rect x="136.40" y="61.48" width="3.8" height="5.16" fill="#48d1cc"/>
<rect x="136.40" y="56.32" width="3.8" height="5.16" fill="#ff0000"/>
<rect x="136.40" y="25.36" width="3.8" height="30.96" fill="#00688b"/>
<rect x="136.40" y="15.04" width="3.8" height="10.32" fill="#262120"/>
<rect x="142.45" y="66.64" width="3.8" height="5.16" fill="#a020f0"/>
<rect x="142.45" y="61.48" width="3.8" height="5.16" fill="#48d1cc"/>
<rect x="142.45" y="51.16" width="3.8" height="10.32" fill="#ff0000"/>
<rect x="142.45" y="25.36" width="3.8" height="25.80" fill="#00688b"/>
<rect x="142.45" y="9.88" width="3.8" height="15.48" fill="#262120"/>
<rect x="148.50" y="66.64" width="3.8" height="5.16" fill="#ff0000"/>
<rect x="148.50" y="46.00" width="3.8" height="20.64" fill="#00688b"/>
<rect x="148.50" y="30.52" width="3.8" height="15.48" fill="#262120"/>
<rect x="154.55" y="66.64" width="3.8" height="5.16" fill="#a020f0"/>
<rect x="154.55" y="56.32" width="3.8" height="10.32" fill="#00688b"/>
<rect x="154.55" y="46.00" width="3.8" height="10.32" fill="#262120"/>
<rect x="160.60" y="66.64" width="3.8" height="5.16" fill="#48d1cc"/>
<rect x="160.60" y="61.48" width="3.8" height="5.16" fill="#ff0000"/>
<rect x="160.60" y="56.32" width="3.8" height="5.16" fill="#262120"/>
<rect x="166.65" y="66.64" width="3.8" height="5.16" fill="#ff0000"/>
<rect x="166.65" y="61.48" width="3.8" height="5.16" fill="#00688b"/>
<rect x="166.65" y="51.16" width="3.8" height="10.32" fill="#262120"/>
<rect x="172.70" y="66.64" width="3.8" height="5.16" fill="#a020f0"/>
<rect x="172.70" y="56.32" width="3.8" height="10.32" fill="#48d1cc"/>
<rect x="172.70" y="51.16" width="3.8" height="5.16" fill="#ff0000"/>
<rect x="172.70" y="30.52" width="3.8" height="20.64" fill="#00688b"/>
<rect x="172.70" y="20.20" width="3.8" height="10.32" fill="#262120"/>
<rect x="178.75" y="66.64" width="3.8" height="5.16" fill="#48d1cc"/>
<rect x="178.75" y="61.48" width="3.8" height="5.16" fill="#ff0000"/>
<rect x="178.75" y="51.16" width="3.8" height="10.32" fill="#00688b"/>
<rect x="178.75" y="46.00" width="3.8" height="5.16" fill="#262120"/>
<rect x="184.80" y="66.64" width="3.8" height="5.16" fill="#ffa500"/>
<rect x="184.80" y="61.48" width="3.8" height="5.16" fill="#ff0000"/>
<rect x="184.80" y="35.68" width="3.8" height="25.80" fill="#00688b"/>
<rect x="184.80" y="30.52" width="3.8" height="5.16" fill="#262120"/>
<rect x="190.85" y="46.00" width="3.8" height="25.80" fill="#00688b"/>
<rect x="196.90" y="66.64" width="3.8" height="5.16" fill="#48d1cc"/>
<rect x="196.90" y="61.48" width="3.8" height="5.16" fill="#00688b"/>
<rect x="196.90" y="56.32" width="3.8" height="5.16" fill="#262120"/>
<rect x="202.95" y="66.64" width="3.8" height="5.16" fill="#a020f0"/>
<rect x="202.95" y="51.16" width="3.8" height="15.48" fill="#00688b"/>
<rect x="202.95" y="46.00" width="3.8" height="5.16" fill="#262120"/>
<rect x="209.00" y="56.32" width="3.8" height="15.48" fill="#ff0000"/>
<rect x="209.00" y="46.00" width="3.8" height="10.32" fill="#00688b"/>
<rect x="209.00" y="40.84" width="3.8" height="5.16" fill="#262120"/>
<rect x="215.05" y="66.64" width="3.8" height="5.16" fill="#48d1cc"/>
<rect x="215.05" y="61.48" width="3.8" height="5.16" fill="#ffa500"/>
<rect x="215.05" y="56.32" width="3.8" height="5.16" fill="#ff0000"/>
<rect x="215.05" y="51.16" width="3.8" height="5.16" fill="#00688b"/>
<rect x="221.10" y="66.64" width="3.8" height="5.16" fill="#48d1cc"/>
<rect x="221.10" y="56.32" width="3.8" height="10.32" fill="#00688b"/>
<rect x="227.15" y="66.64" width="3.8" height="5.16" fill="#ff0000"/>
<rect x="227.15" y="61.48" width="3.8" height="5.16" fill="#00688b"/>
<rect x="233.20" y="66.64" width="3.8" height="5.16" fill="#a020f0"/>
<rect x="233.20" y="61.48" width="3.8" height="5.16" fill="#48d1cc"/>
<rect x="233.20" y="56.32" width="3.8" height="5.16" fill="#00688b"/>
<rect x="233.20" y="35.68" width="3.8" height="20.64" fill="#262120"/>
<rect x="239.25" y="66.64" width="3.8" height="5.16" fill="#48d1cc"/>
<rect x="239.25" y="61.48" width="3.8" height="5.16" fill="#262120"/>
<rect x="245.30" y="66.64" width="3.8" height="5.16" fill="#48d1cc"/>
<rect x="245.30" y="61.48" width="3.8" height="5.16" fill="#ff0000"/>
<rect x="245.30" y="56.32" width="3.8" height="5.16" fill="#262120"/>
<rect x="251.35" y="66.64" width="3.8" height="5.16" fill="#ff0000"/>
<rect x="251.35" y="35.68" width="3.8" height="30.96" fill="#00688b"/>
<rect x="251.35" y="15.04" width="3.8" height="20.64" fill="#262120"/>
<rect x="257.40" y="66.64" width="3.8" height="5.16" fill="#48d1cc"/>
<rect x="257.40" y="61.48" width="3.8" height="5.16" fill="#ff0000"/>
<rect x="263.45" y="66.64" width="3.8" height="5.16" fill="#ff0000"/>
<rect x="269.50" y="66.64" width="3.8" height="5.16" fill="#ff0000"/>
<rect x="269.50" y="46.00" width="3.8" height="20.64" fill="#00688b"/>
<rect x="269.50" y="25.36" width="3.8" height="20.64" fill="#262120"/>
<rect x="275.55" y="66.64" width="3.8" height="5.16" fill="#48d1cc"/>
<rect x="275.55" y="51.16" width="3.8" height="15.48" fill="#00688b"/>
<rect x="281.60" y="66.64" width="3.8" height="5.16" fill="#a020f0"/>
<rect x="281.60" y="51.16" width="3.8" height="15.48" fill="#00688b"/>
<rect x="281.60" y="46.00" width="3.8" height="5.16" fill="#262120"/>
<rect x="287.65" y="56.32" width="3.8" height="15.48" fill="#00688b"/>
<rect x="293.70" y="66.64" width="3.8" height="5.16" fill="#48d1cc"/>
<rect x="293.70" y="46.00" width="3.8" height="20.64" fill="#00688b"/>
<rect x="293.70" y="35.68" width="3.8" height="10.32" fill="#262120"/>
<rect x="299.75" y="66.64" width="3.8" height="5.16" fill="#a020f0"/>
<rect x="299.75" y="61.48" width="3.8" height="5.16" fill="#ff0000"/>
<rect x="299.75" y="46.00" width="3.8" height="15.48" fill="#00688b"/>
<rect x="305.80" y="66.64" width="3.8" height="5.16" fill="#ff0000"/>
<rect x="305.80" y="56.32" width="3.8" height="10.32" fill="#00688b"/>
<rect x="305.80" y="46.00" width="3.8" height="10.32" fill="#262120"/>
<rect x="311.85" y="56.32" width="3.8" height="15.48" fill="#00688b"/>
<rect x="317.90" y="66.64" width="3.8" height="5.16" fill="#a020f0"/>
<rect x="317.90" y="61.48" width="3.8" height="5.16" fill="#48d1cc"/>
<rect x="317.90" y="56.32" width="3.8" height="5.16" fill="#ff0000"/>
<rect x="323.95" y="56.32" width="3.8" height="15.48" fill="#00688b"/>
<rect x="330.00" y="66.64" width="3.8" height="5.16" fill="#00688b"/>
<rect x="336.05" y="61.48" width="3.8" height="10.32" fill="#ff0000"/>
<rect x="336.05" y="35.68" width="3.8" height="25.80" fill="#00688b"/>
<rect x="336.05" y="30.52" width="3.8" height="5.16" fill="#262120"/>
<rect x="342.10" y="66.64" width="3.8" height="5.16" fill="#a020f0"/>
<rect x="342.10" y="61.48" width="3.8" height="5.16" fill="#ff0000"/>
<rect x="342.10" y="46.00" width="3.8" height="15.48" fill="#00688b"/>
<rect x="342.10" y="40.84" width="3.8" height="5.16" fill="#262120"/>
<rect x="348.15" y="66.64" width="3.8" height="5.16" fill="#48d1cc"/>
<rect x="348.15" y="61.48" width="3.8" height="5.16" fill="#00688b"/>
<rect x="354.20" y="61.48" width="3.8" height="10.32" fill="#00688b"/>
<rect x="354.20" y="56.32" width="3.8" height="5.16" fill="#262120"/>
<rect x="360.25" y="66.64" width="3.8" height="5.16" fill="#ff0000"/>
<rect x="360.25" y="61.48" width="3.8" height="5.16" fill="#00688b"/>
<rect x="360.25" y="56.32" width="3.8" height="5.16" fill="#262120"/>
<rect x="366.30" y="66.64" width="3.8" height="5.16" fill="#48d1cc"/>
<rect x="366.30" y="61.48" width="3.8" height="5.16" fill="#00688b"/>
<rect x="366.30" y="56.32" width="3.8" height="5.16" fill="#262120"/>
<rect x="372.35" y="61.48" width="3.8" height="10.32" fill="#00688b"/>
<rect x="378.40" y="66.64" width="3.8" height="5.16" fill="#ff0000"/>
<rect x="384.45" y="66.64" width="3.8" height="5.16" fill="#a020f0"/>
<rect x="390.20" y="70.90" width="4.3999999999999995" height="1.6" fill="#e4dcdc"/>
<rect x="396.25" y="70.90" width="4.3999999999999995" height="1.6" fill="#e4dcdc"/>
<rect x="402.30" y="70.90" width="4.3999999999999995" height="1.6" fill="#e4dcdc"/>
<rect x="456.80" y="77.25" width="5.10" height="5.6" fill="#a020f0"/>
<rect x="461.90" y="77.25" width="11.90" height="5.6" fill="#48d1cc"/>
<rect x="473.80" y="77.25" width="15.30" height="5.6" fill="#ff0000"/>
<rect x="489.10" y="77.25" width="5.10" height="5.6" fill="#00688b"/>
<rect x="494.20" y="77.25" width="11.90" height="5.6" fill="#262120"/>
<rect x="456.80" y="87.31" width="3.40" height="5.6" fill="#a020f0"/>
<rect x="460.20" y="87.31" width="20.40" height="5.6" fill="#00688b"/>
<rect x="480.60" y="87.31" width="20.40" height="5.6" fill="#262120"/>
<rect x="456.80" y="97.37" width="5.10" height="5.6" fill="#a020f0"/>
<rect x="461.90" y="97.37" width="5.10" height="5.6" fill="#48d1cc"/>
<rect x="467.00" y="97.37" width="1.70" height="5.6" fill="#ffa500"/>
<rect x="468.70" y="97.37" width="6.80" height="5.6" fill="#ff0000"/>
<rect x="475.50" y="97.37" width="17.00" height="5.6" fill="#00688b"/>
<rect x="492.50" y="97.37" width="3.40" height="5.6" fill="#262120"/>
<rect x="456.80" y="107.43" width="17.00" height="5.6" fill="#00688b"/>
<rect x="473.80" y="107.43" width="13.60" height="5.6" fill="#262120"/>
<rect x="456.80" y="117.49" width="3.40" height="5.6" fill="#a020f0"/>
<rect x="460.20" y="117.49" width="1.70" height="5.6" fill="#48d1cc"/>
<rect x="461.90" y="117.49" width="6.80" height="5.6" fill="#ff0000"/>
<rect x="468.70" y="117.49" width="6.80" height="5.6" fill="#00688b"/>
<rect x="475.50" y="117.49" width="1.70" height="5.6" fill="#262120"/>
<rect x="456.80" y="127.55" width="1.70" height="5.6" fill="#a020f0"/>
<rect x="458.50" y="127.55" width="6.80" height="5.6" fill="#48d1cc"/>
<rect x="465.30" y="127.55" width="1.70" height="5.6" fill="#ff0000"/>
<rect x="467.00" y="127.55" width="5.10" height="5.6" fill="#00688b"/>
<rect x="472.10" y="127.55" width="1.70" height="5.6" fill="#262120"/>
<rect x="456.80" y="137.61" width="17.00" height="5.6" fill="#00688b"/>
<rect x="456.80" y="147.67" width="15.30" height="5.6" fill="#00688b"/>
<rect x="456.80" y="157.73" width="6.80" height="5.6" fill="#48d1cc"/>
<rect x="463.60" y="157.73" width="3.40" height="5.6" fill="#ff0000"/>
<rect x="467.00" y="157.73" width="1.70" height="5.6" fill="#00688b"/>
<rect x="456.80" y="167.79" width="5.10" height="5.6" fill="#00688b"/>
<rect x="461.90" y="167.79" width="6.80" height="5.6" fill="#262120"/>
<rect x="456.80" y="177.85" width="5.10" height="5.6" fill="#ff0000"/>
<rect x="461.90" y="177.85" width="6.80" height="5.6" fill="#00688b"/>
<rect x="456.80" y="187.91" width="1.70" height="5.6" fill="#ffa500"/>
<rect x="458.50" y="187.91" width="5.10" height="5.6" fill="#00688b"/>
<rect x="463.60" y="187.91" width="3.40" height="5.6" fill="#262120"/>
<rect x="456.80" y="197.97" width="6.80" height="5.6" fill="#00688b"/>
<rect x="463.60" y="197.97" width="1.70" height="5.6" fill="#262120"/>
<rect x="456.80" y="208.03" width="6.80" height="5.6" fill="#00688b"/>
<rect x="456.80" y="218.09" width="5.10" height="5.6" fill="#a020f0"/>
<rect x="461.90" y="218.09" width="1.70" height="5.6" fill="#ff0000"/>
<rect x="463.60" y="218.09" width="1.70" height="5.6" fill="#262120"/>
<rect x="456.80" y="228.15" width="6.80" height="5.6" fill="#00688b"/>
<rect x="463.60" y="228.15" width="1.70" height="5.6" fill="#262120"/>
<rect x="456.80" y="238.21" width="8.50" height="5.6" fill="#48d1cc"/>
<rect x="456.80" y="248.27" width="5.10" height="5.6" fill="#00688b"/>
<rect x="461.90" y="248.27" width="1.70" height="5.6" fill="#ff0000"/>
<rect x="456.80" y="258.33" width="1.70" height="5.6" fill="#a020f0"/>
<rect x="458.50" y="258.33" width="1.70" height="5.6" fill="#ff0000"/>
<rect x="460.20" y="258.33" width="1.70" height="5.6" fill="#00688b"/>
<rect x="461.90" y="258.33" width="1.70" height="5.6" fill="#262120"/>
<rect x="456.80" y="268.39" width="5.10" height="5.6" fill="#00688b"/>
<rect x="461.90" y="268.39" width="1.70" height="5.6" fill="#262120"/>
<rect x="456.80" y="278.45" width="6.80" height="5.6" fill="#00688b"/>
<rect x="456.80" y="288.51" width="1.70" height="5.6" fill="#48d1cc"/>
<rect x="458.50" y="288.51" width="3.40" height="5.6" fill="#00688b"/>
<rect x="461.90" y="288.51" width="1.70" height="5.6" fill="#262120"/>
<rect x="456.80" y="298.57" width="1.70" height="5.6" fill="#ff0000"/>
<rect x="458.50" y="298.57" width="5.10" height="5.6" fill="#00688b"/>
<rect x="456.80" y="308.63" width="3.40" height="5.6" fill="#a020f0"/>
<rect x="460.20" y="308.63" width="3.40" height="5.6" fill="#00688b"/>
<rect x="456.80" y="318.69" width="5.10" height="5.6" fill="#00688b"/>
<rect x="461.90" y="318.69" width="1.70" height="5.6" fill="#262120"/>
<rect x="456.80" y="328.75" width="1.70" height="5.6" fill="#ff0000"/>
<rect x="458.50" y="328.75" width="3.40" height="5.6" fill="#00688b"/>
<rect x="461.90" y="328.75" width="1.70" height="5.6" fill="#262120"/>
<rect x="456.80" y="338.81" width="1.70" height="5.6" fill="#48d1cc"/>
<rect x="458.50" y="338.81" width="5.10" height="5.6" fill="#00688b"/>
<rect x="456.80" y="348.87" width="1.70" height="5.6" fill="#00688b"/>
<rect x="458.50" y="348.87" width="3.40" height="5.6" fill="#262120"/>
<rect x="456.80" y="358.93" width="1.70" height="5.6" fill="#ff0000"/>
<rect x="458.50" y="358.93" width="3.40" height="5.6" fill="#00688b"/>
<rect x="456.80" y="368.99" width="1.70" height="5.6" fill="#a020f0"/>
<rect x="458.50" y="368.99" width="3.40" height="5.6" fill="#00688b"/>
<rect x="456.80" y="379.05" width="1.70" height="5.6" fill="#00688b"/>
<rect x="458.50" y="379.05" width="3.40" height="5.6" fill="#262120"/>
<rect x="456.80" y="389.11" width="1.70" height="5.6" fill="#48d1cc"/>
<rect x="458.50" y="389.11" width="1.70" height="5.6" fill="#00688b"/>
<rect x="460.20" y="389.11" width="1.70" height="5.6" fill="#262120"/>
<rect x="456.80" y="399.17" width="5.10" height="5.6" fill="#00688b"/>
<rect x="456.80" y="409.23" width="1.70" height="5.6" fill="#a020f0"/>
<rect x="458.50" y="409.23" width="1.70" height="5.6" fill="#ff0000"/>
<rect x="460.20" y="409.23" width="1.70" height="5.6" fill="#00688b"/>
<rect x="456.80" y="419.29" width="1.70" height="5.6" fill="#ff0000"/>
<rect x="458.50" y="419.29" width="3.40" height="5.6" fill="#00688b"/>
<rect x="456.80" y="429.35" width="1.70" height="5.6" fill="#a020f0"/>
<rect x="458.50" y="429.35" width="1.70" height="5.6" fill="#48d1cc"/>
<rect x="460.20" y="429.35" width="1.70" height="5.6" fill="#00688b"/>
<rect x="456.80" y="439.41" width="1.70" height="5.6" fill="#ff0000"/>
<rect x="458.50" y="439.41" width="3.40" height="5.6" fill="#00688b"/>
<rect x="456.80" y="449.47" width="1.70" height="5.6" fill="#48d1cc"/>
<rect x="458.50" y="449.47" width="1.70" height="5.6" fill="#00688b"/>
<rect x="456.80" y="459.53" width="1.70" height="5.6" fill="#ff0000"/>
<rect x="458.50" y="459.53" width="1.70" height="5.6" fill="#262120"/>
<rect x="456.80" y="469.59" width="1.70" height="5.6" fill="#ff0000"/>
<rect x="458.50" y="469.59" width="1.70" height="5.6" fill="#262120"/>
<rect x="456.80" y="479.65" width="3.40" height="5.6" fill="#ff0000"/>
<rect x="38.80" y="490" width="71.60" height="5.8" fill="#7099d9"/>
<rect x="110.40" y="490" width="296.90" height="5.8" fill="#8c5a5c"/>
<line x1="35.4" y1="6.8" x2="35.4" y2="75.9" stroke="#111" stroke-width="1"/>
<line x1="32.0" y1="71.80" x2="35.4" y2="71.80" stroke="#444444" stroke-width="1.2"/>
<text transform="translate(30.0,74.40) scale(0.86,1)" font-size="8.3" text-anchor="end" fill="#231f20">0</text>
<line x1="32.0" y1="46.00" x2="35.4" y2="46.00" stroke="#444444" stroke-width="1.2"/>
<text transform="translate(30.0,48.60) scale(0.86,1)" font-size="8.3" text-anchor="end" fill="#231f20">5</text>
<line x1="32.0" y1="20.20" x2="35.4" y2="20.20" stroke="#444444" stroke-width="1.2"/>
<text transform="translate(30.0,22.80) scale(0.86,1)" font-size="8.3" text-anchor="end" fill="#231f20">10</text>
<text transform="translate(15.5,41.4) rotate(-90) scale(0.61,1)" class="ct" x="0" y="0" letter-spacing="0.15" font-size="10" text-anchor="middle" fill="#231f20">No. of driver genes</text>
<text transform="translate(32.0,83.05) scale(0.87,1)" font-size="9.0" text-anchor="end" fill="#231f20">47%</text>
<text transform="translate(409.5,82.75) scale(0.855,1)" font-size="9.0" font-style="italic" fill="#231f20">KMT2D</text>
<text transform="translate(32.0,93.11) scale(0.87,1)" font-size="9.0" text-anchor="end" fill="#231f20">44%</text>
<text transform="translate(409.5,92.81) scale(0.855,1)" font-size="9.0" font-style="italic" fill="#231f20">IGLL5</text>
<text transform="translate(32.0,103.17) scale(0.87,1)" font-size="9.0" text-anchor="end" fill="#231f20">37%</text>
<text transform="translate(409.5,102.87) scale(0.855,1)" font-size="9.0" font-style="italic" fill="#231f20">CREBBP</text>
<text transform="translate(32.0,113.23) scale(0.87,1)" font-size="9.0" text-anchor="end" fill="#231f20">29%</text>
<text transform="translate(409.5,112.93) scale(0.855,1)" font-size="9.0" font-style="italic" fill="#231f20">BCL2</text>
<text transform="translate(32.0,123.29) scale(0.87,1)" font-size="9.0" text-anchor="end" fill="#231f20">19%</text>
<text transform="translate(409.5,122.99) scale(0.855,1)" font-size="9.0" font-style="italic" fill="#231f20">TNFRSF14</text>
<text transform="translate(32.0,133.35) scale(0.87,1)" font-size="9.0" text-anchor="end" fill="#231f20">16%</text>
<text transform="translate(409.5,133.05) scale(0.855,1)" font-size="9.0" font-style="italic" fill="#231f20">IRF8</text>
<text transform="translate(32.0,143.41) scale(0.87,1)" font-size="9.0" text-anchor="end" fill="#231f20">16%</text>
<text transform="translate(409.5,143.11) scale(0.855,1)" font-size="9.0" font-style="italic" fill="#231f20">EZH2</text>
<text transform="translate(32.0,153.47) scale(0.87,1)" font-size="9.0" text-anchor="end" fill="#231f20">15%</text>
<text transform="translate(409.5,153.17) scale(0.855,1)" font-size="9.0" font-style="italic" fill="#231f20">STAT6</text>
<text transform="translate(32.0,163.53) scale(0.87,1)" font-size="9.0" text-anchor="end" fill="#231f20">11%</text>
<text transform="translate(409.5,163.23) scale(0.855,1)" font-size="9.0" font-style="italic" fill="#231f20">ARID1A</text>
<text transform="translate(32.0,173.59) scale(0.87,1)" font-size="9.0" text-anchor="end" fill="#231f20">11%</text>
<text transform="translate(409.5,173.29) scale(0.855,1)" font-size="9.0" font-style="italic" fill="#231f20">GNA13</text>
<text transform="translate(32.0,183.65) scale(0.87,1)" font-size="9.0" text-anchor="end" fill="#231f20">11%</text>
<text transform="translate(409.5,183.35) scale(0.855,1)" font-size="9.0" font-style="italic" fill="#231f20">POU2F2</text>
<text transform="translate(32.0,193.71) scale(0.87,1)" font-size="9.0" text-anchor="end" fill="#231f20">10%</text>
<text transform="translate(409.5,193.41) scale(0.855,1)" font-size="9.0" font-style="italic" fill="#231f20">FOXO1</text>
<text transform="translate(32.0,203.77) scale(0.87,1)" font-size="9.0" text-anchor="end" fill="#231f20">8%</text>
<text transform="translate(409.5,203.47) scale(0.855,1)" font-size="9.0" font-style="italic" fill="#231f20">BCR</text>
<text transform="translate(32.0,213.83) scale(0.87,1)" font-size="9.0" text-anchor="end" fill="#231f20">8%</text>
<text transform="translate(409.5,213.53) scale(0.855,1)" font-size="9.0" font-style="italic" fill="#231f20">SOCS1</text>
<text transform="translate(32.0,223.89) scale(0.87,1)" font-size="9.0" text-anchor="end" fill="#231f20">8%</text>
<text transform="translate(409.5,223.59) scale(0.855,1)" font-size="9.0" font-style="italic" fill="#231f20">EBF1</text>
<text transform="translate(32.0,233.95) scale(0.87,1)" font-size="9.0" text-anchor="end" fill="#231f20">8%</text>
<text transform="translate(409.5,233.65) scale(0.855,1)" font-size="9.0" font-style="italic" fill="#231f20">EP300</text>
<text transform="translate(32.0,244.01) scale(0.87,1)" font-size="9.0" text-anchor="end" fill="#231f20">8%</text>
<text transform="translate(409.5,243.71) scale(0.855,1)" font-size="9.0" font-style="italic" fill="#231f20">STC1</text>
<text transform="translate(32.0,254.07) scale(0.87,1)" font-size="9.0" text-anchor="end" fill="#231f20">6%</text>
<text transform="translate(409.5,253.77) scale(0.855,1)" font-size="9.0" font-style="italic" fill="#231f20">CD70</text>
<text transform="translate(32.0,264.13) scale(0.87,1)" font-size="9.0" text-anchor="end" fill="#231f20">6%</text>
<text transform="translate(409.5,263.83) scale(0.855,1)" font-size="9.0" font-style="italic" fill="#231f20">BCL7A</text>
<text transform="translate(32.0,274.19) scale(0.87,1)" font-size="9.0" text-anchor="end" fill="#231f20">6%</text>
<text transform="translate(409.5,273.89) scale(0.855,1)" font-size="9.0" font-style="italic" fill="#231f20">CARD11</text>
<text transform="translate(32.0,284.25) scale(0.87,1)" font-size="9.0" text-anchor="end" fill="#231f20">6%</text>
<text transform="translate(409.5,283.95) scale(0.855,1)" font-size="9.0" font-style="italic" fill="#231f20">CCND3</text>
<text transform="translate(32.0,294.31) scale(0.87,1)" font-size="9.0" text-anchor="end" fill="#231f20">6%</text>
<text transform="translate(409.5,294.01) scale(0.855,1)" font-size="9.0" font-style="italic" fill="#231f20">CD79B</text>
<text transform="translate(32.0,304.37) scale(0.87,1)" font-size="9.0" text-anchor="end" fill="#231f20">6%</text>
<text transform="translate(409.5,304.07) scale(0.855,1)" font-size="9.0" font-style="italic" fill="#231f20">OBSCN</text>
<text transform="translate(32.0,314.43) scale(0.87,1)" font-size="9.0" text-anchor="end" fill="#231f20">6%</text>
<text transform="translate(409.5,314.13) scale(0.855,1)" font-size="9.0" font-style="italic" fill="#231f20">POU2AF1</text>
<text transform="translate(32.0,324.49) scale(0.87,1)" font-size="9.0" text-anchor="end" fill="#231f20">6%</text>
<text transform="translate(409.5,324.19) scale(0.855,1)" font-size="9.0" font-style="italic" fill="#231f20">PRKCB</text>
<text transform="translate(32.0,334.55) scale(0.87,1)" font-size="9.0" text-anchor="end" fill="#231f20">6%</text>
<text transform="translate(409.5,334.25) scale(0.855,1)" font-size="9.0" font-style="italic" fill="#231f20">SPEN</text>
<text transform="translate(32.0,344.61) scale(0.87,1)" font-size="9.0" text-anchor="end" fill="#231f20">6%</text>
<text transform="translate(409.5,344.31) scale(0.855,1)" font-size="9.0" font-style="italic" fill="#231f20">TP53</text>
<text transform="translate(32.0,354.67) scale(0.87,1)" font-size="9.0" text-anchor="end" fill="#231f20">5%</text>
<text transform="translate(409.5,354.37) scale(0.855,1)" font-size="9.0" font-style="italic" fill="#231f20">KLF2</text>
<text transform="translate(32.0,364.73) scale(0.87,1)" font-size="9.0" text-anchor="end" fill="#231f20">5%</text>
<text transform="translate(409.5,364.43) scale(0.855,1)" font-size="9.0" font-style="italic" fill="#231f20">BCL10</text>
<text transform="translate(32.0,374.79) scale(0.87,1)" font-size="9.0" text-anchor="end" fill="#231f20">5%</text>
<text transform="translate(409.5,374.49) scale(0.855,1)" font-size="9.0" font-style="italic" fill="#231f20">BCOR</text>
<text transform="translate(32.0,384.85) scale(0.87,1)" font-size="9.0" text-anchor="end" fill="#231f20">5%</text>
<text transform="translate(409.5,384.55) scale(0.855,1)" font-size="9.0" font-style="italic" fill="#231f20">BTG1</text>
<text transform="translate(32.0,394.91) scale(0.87,1)" font-size="9.0" text-anchor="end" fill="#231f20">5%</text>
<text transform="translate(409.5,394.61) scale(0.855,1)" font-size="9.0" font-style="italic" fill="#231f20">CXCR4</text>
<text transform="translate(32.0,404.97) scale(0.87,1)" font-size="9.0" text-anchor="end" fill="#231f20">5%</text>
<text transform="translate(409.5,404.67) scale(0.855,1)" font-size="9.0" font-style="italic" fill="#231f20">DNM2</text>
<text transform="translate(32.0,415.03) scale(0.87,1)" font-size="9.0" text-anchor="end" fill="#231f20">5%</text>
<text transform="translate(409.5,414.73) scale(0.855,1)" font-size="9.0" font-style="italic" fill="#231f20">SETD1B</text>
<text transform="translate(32.0,425.09) scale(0.87,1)" font-size="9.0" text-anchor="end" fill="#231f20">5%</text>
<text transform="translate(409.5,424.79) scale(0.855,1)" font-size="9.0" font-style="italic" fill="#231f20">SMARCA4</text>
<text transform="translate(32.0,435.15) scale(0.87,1)" font-size="9.0" text-anchor="end" fill="#231f20">5%</text>
<text transform="translate(409.5,434.85) scale(0.855,1)" font-size="9.0" font-style="italic" fill="#231f20">TCL1A</text>
<text transform="translate(32.0,445.21) scale(0.87,1)" font-size="9.0" text-anchor="end" fill="#231f20">5%</text>
<text transform="translate(409.5,444.91) scale(0.855,1)" font-size="9.0" font-style="italic" fill="#231f20">VMA21</text>
<text transform="translate(32.0,455.27) scale(0.87,1)" font-size="9.0" text-anchor="end" fill="#231f20">3%</text>
<text transform="translate(409.5,454.97) scale(0.855,1)" font-size="9.0" font-style="italic" fill="#231f20">CD79A</text>
<text transform="translate(32.0,465.33) scale(0.87,1)" font-size="9.0" text-anchor="end" fill="#231f20">3%</text>
<text transform="translate(409.5,465.03) scale(0.855,1)" font-size="9.0" font-style="italic" fill="#231f20">KLHL6</text>
<text transform="translate(32.0,475.39) scale(0.87,1)" font-size="9.0" text-anchor="end" fill="#231f20">3%</text>
<text transform="translate(409.5,475.09) scale(0.855,1)" font-size="9.0" font-style="italic" fill="#231f20">SGK1</text>
<text transform="translate(32.0,485.45) scale(0.87,1)" font-size="9.0" text-anchor="end" fill="#231f20">3%</text>
<text transform="translate(409.5,485.15) scale(0.855,1)" font-size="9.0" font-style="italic" fill="#231f20">ZNF416</text>
<line x1="452.2" y1="74.95" x2="511.7" y2="74.95" stroke="#555555" stroke-width="1.9"/>
<line x1="456.80" y1="71.8" x2="456.80" y2="74.95" stroke="#111" stroke-width="1"/>
<text transform="translate(456.80,68.8) scale(0.88,1)" font-size="8.2" text-anchor="middle" fill="#231f20">0</text>
<line x1="473.80" y1="71.8" x2="473.80" y2="74.95" stroke="#111" stroke-width="1"/>
<text transform="translate(473.80,68.8) scale(0.88,1)" font-size="8.2" text-anchor="middle" fill="#231f20">10</text>
<line x1="490.80" y1="71.8" x2="490.80" y2="74.95" stroke="#111" stroke-width="1"/>
<text transform="translate(490.80,68.8) scale(0.88,1)" font-size="8.2" text-anchor="middle" fill="#231f20">20</text>
<line x1="507.80" y1="71.8" x2="507.80" y2="74.95" stroke="#111" stroke-width="1"/>
<text transform="translate(507.80,68.8) scale(0.88,1)" font-size="8.2" text-anchor="middle" fill="#231f20">30</text>
<text transform="translate(482.0,48.6) scale(0.65,1)" class="ct" font-size="9.8" text-anchor="middle" fill="#231f20">No. of</text>
<text transform="translate(482.0,56.900000000000006) scale(0.65,1)" class="ct" font-size="9.8" text-anchor="middle" fill="#231f20">mutated samples</text>
<rect x="45.2" y="498.4" width="5.6" height="11" fill="#00688b"/>
<text x="54.0" y="506.79999999999995" font-size="7" fill="#231f20">Missense</text>
<rect x="100.5" y="498.4" width="5.6" height="11" fill="#a020f0"/>
<text x="109.3" y="506.79999999999995" font-size="7" fill="#231f20">Splicing</text>
<rect x="150.8" y="498.4" width="5.6" height="11" fill="#48d1cc"/>
<text x="159.60000000000002" y="506.79999999999995" font-size="7" fill="#231f20">Frameshift</text>
<rect x="211.8" y="498.4" width="5.6" height="11" fill="#ffa500"/>
<text x="220.60000000000002" y="506.79999999999995" font-size="7" fill="#231f20">Nonframeshift</text>
<rect x="283.8" y="498.4" width="5.6" height="11" fill="#ff0000"/>
<text x="292.6" y="506.79999999999995" font-size="7" fill="#231f20">Stopgain</text>
<rect x="337.0" y="498.4" width="5.6" height="11" fill="#262120"/>
<text x="345.8" y="506.79999999999995" font-size="7" fill="#231f20">Multi_hit</text>
<rect x="45.2" y="512.6" width="5.6" height="11" fill="#7099d9"/>
<text x="54.0" y="521.0" font-size="7" fill="#231f20">HBsAg+</text>
<rect x="100.5" y="512.6" width="5.6" height="11" fill="#8c5a5c"/>
<text x="109.3" y="521.0" font-size="7" fill="#231f20">HBsAg−</text>
<rect x="0.6" y="0.6" width="518.8" height="529.8" fill="none" stroke="#000" stroke-width="1.2"/>
</svg>
</body></html>
